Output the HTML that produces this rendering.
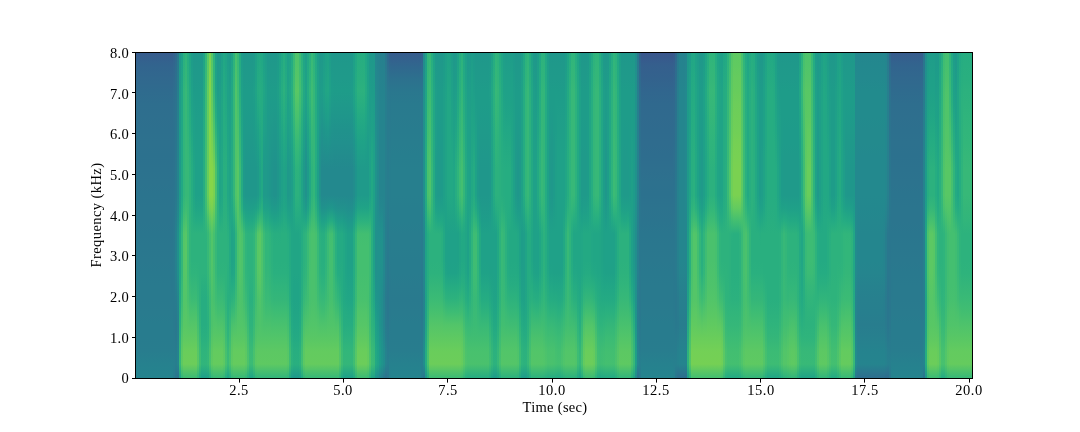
<!DOCTYPE html>
<html><head><meta charset="utf-8"><style>
html,body{margin:0;padding:0;background:#fff;width:1080px;height:432px;overflow:hidden}
body{position:relative;font-family:"Liberation Serif",serif;color:#000}
#spec{position:absolute;left:135px;top:52px;width:837px;height:326px;overflow:hidden;}
#spec i{position:absolute;top:0;height:326px;display:block}
.xl,.yl,#xlab,#ylab{will-change:transform}
.xl{position:absolute;top:380px;width:80px;text-align:center;font-size:14.5px;line-height:20px;letter-spacing:0.5px}
.yl{position:absolute;left:48.8px;width:80px;text-align:right;font-size:14.5px;line-height:20px;letter-spacing:0.3px}
#xlab{position:absolute;left:494.7px;top:397px;width:120px;text-align:center;font-size:14.5px;line-height:20px;letter-spacing:0.3px}
#ylab{position:absolute;left:96px;top:215px;width:160px;margin-left:-80px;margin-top:-10px;text-align:center;font-size:14.5px;line-height:20px;letter-spacing:0.42px;transform:rotate(-90deg)}
</style></head><body>

<div id="spec">
<i style="left:0px;width:36px;background:linear-gradient(#375b8d 0px,#32648e 13px,#31688e 26px,#2f6b8e 39px,#2e6e8e 52px,#2e6f8e 65px,#2d708e 78px,#2d718e 91px,#2c718e 104px,#2c728e 117px,#2c738e 130px,#2b748e 143px,#2b758e 156px,#2b758e 169px,#2a768e 182px,#2a778e 195px,#2a788e 208px,#29798e 221px,#297a8e 234px,#297a8e 247px,#297b8e 260px,#287c8e 273px,#287c8e 286px,#287d8e 299px,#26818e 312px,#25848e 325px,#25848e 325px)"></i>
<i style="left:36px;width:2px;background:linear-gradient(#375b8d 0px,#32648e 13px,#31688e 26px,#2f6b8e 39px,#2e6e8e 52px,#2e6f8e 65px,#2d708e 78px,#2d718e 91px,#2c718e 104px,#2c728e 117px,#2c738e 130px,#2b748e 143px,#2b758e 156px,#2b758e 169px,#2a768e 182px,#2a778e 195px,#2a788e 208px,#29798e 221px,#29798e 234px,#297a8e 247px,#297b8e 260px,#287c8e 273px,#287c8e 286px,#287d8e 299px,#26818e 312px,#25838e 325px,#25838e 325px)"></i>
<i style="left:38px;width:2px;background:linear-gradient(#34608d 0px,#31678e 13px,#306a8e 26px,#2e6e8e 39px,#2d708e 52px,#2d718e 65px,#2c718e 78px,#2c728e 91px,#2c728e 104px,#2c738e 117px,#2b748e 130px,#2b758e 143px,#2a768e 156px,#2a778e 169px,#2a788e 182px,#29798e 195px,#297a8e 208px,#297a8e 221px,#297a8e 234px,#297a8e 247px,#297a8e 260px,#297a8e 273px,#297b8e 286px,#287d8e 299px,#27808e 312px,#277e8e 325px,#277e8e 325px)"></i>
<i style="left:40px;width:2px;background:linear-gradient(#31678e 0px,#2e6d8e 13px,#2d708e 26px,#2c718e 39px,#2c738e 52px,#2b748e 65px,#2b758e 78px,#2a768e 91px,#2a778e 104px,#2a788e 117px,#29798e 130px,#29798e 143px,#297b8e 156px,#277e8e 169px,#26818e 182px,#26818e 195px,#26828e 208px,#26818e 221px,#277f8e 234px,#287c8e 247px,#297a8e 260px,#2a788e 273px,#29798e 286px,#287c8e 299px,#277e8e 312px,#2a768e 325px,#2a768e 325px)"></i>
<i style="left:42px;width:2px;background:linear-gradient(#2a778e 0px,#297a8e 13px,#287c8e 26px,#277e8e 39px,#277f8e 52px,#27808e 65px,#26818e 78px,#26828e 91px,#25838e 104px,#25848e 117px,#25848e 130px,#25848e 143px,#24878e 156px,#228b8d 169px,#21908d 182px,#21908d 195px,#21908d 208px,#218f8d 221px,#238a8d 234px,#25858e 247px,#26828e 260px,#277f8e 273px,#27808e 286px,#25838e 299px,#25848e 312px,#2b748e 325px,#2b748e 325px)"></i>
<i style="left:44px;width:2px;background:linear-gradient(#1f978b 0px,#1f998a 13px,#1f9a8a 26px,#1e9c89 39px,#1e9c89 52px,#1e9c89 65px,#1e9b8a 78px,#1e9b8a 91px,#1e9b8a 104px,#1f9a8a 117px,#1f9a8a 130px,#1f9a8a 143px,#1e9d89 156px,#1fa187 169px,#21a685 182px,#21a685 195px,#21a685 208px,#21a685 221px,#22a884 234px,#23a983 247px,#25ac82 260px,#29af7f 273px,#2eb37c 286px,#34b679 299px,#35b779 312px,#20a386 325px,#20a386 325px)"></i>
<i style="left:46px;width:2px;background:linear-gradient(#1fa188 0px,#1fa287 13px,#20a386 26px,#21a585 39px,#21a585 52px,#21a685 65px,#21a685 78px,#22a785 91px,#22a785 104px,#22a884 117px,#22a884 130px,#22a884 143px,#25ac82 156px,#2cb17e 169px,#34b679 182px,#34b679 195px,#34b679 208px,#34b679 221px,#38b977 234px,#3bbb75 247px,#42be71 260px,#4ac16d 273px,#54c568 286px,#5cc863 299px,#5ec962 312px,#35b779 325px,#35b779 325px)"></i>
<i style="left:48px;width:2px;background:linear-gradient(#2ab07f 0px,#2cb17e 13px,#2eb37c 26px,#31b57b 39px,#31b57b 52px,#31b57b 65px,#31b57b 78px,#31b57b 91px,#31b57b 104px,#31b57b 117px,#31b57b 130px,#31b57b 143px,#38b977 156px,#44bf70 169px,#52c569 182px,#54c568 195px,#54c568 208px,#54c568 221px,#52c569 234px,#52c569 247px,#54c568 260px,#58c765 273px,#5ec962 286px,#69cd5b 299px,#6ccd5a 312px,#3fbc73 325px,#3fbc73 325px)"></i>
<i style="left:50px;width:2px;background:linear-gradient(#2fb47c 0px,#32b67a 13px,#34b679 26px,#37b878 39px,#37b878 52px,#37b878 65px,#37b878 78px,#37b878 91px,#37b878 104px,#37b878 117px,#37b878 130px,#37b878 143px,#3dbc74 156px,#4ac16d 169px,#56c667 182px,#58c765 195px,#58c765 208px,#56c667 221px,#54c568 234px,#52c569 247px,#56c667 260px,#58c765 273px,#5ec962 286px,#69cd5b 299px,#6ccd5a 312px,#3fbc73 325px,#3fbc73 325px)"></i>
<i style="left:52px;width:2px;background:linear-gradient(#27ad81 0px,#28ae80 13px,#2ab07f 26px,#2db27d 39px,#2eb37c 52px,#2fb47c 65px,#31b57b 78px,#34b679 91px,#35b779 104px,#37b878 117px,#37b878 130px,#37b878 143px,#3aba76 156px,#3dbc74 169px,#42be71 182px,#42be71 195px,#42be71 208px,#42be71 221px,#46c06f 234px,#48c16e 247px,#50c46a 260px,#56c667 273px,#5ec962 286px,#69cd5b 299px,#6ccd5a 312px,#3fbc73 325px,#3fbc73 325px)"></i>
<i style="left:54px;width:2px;background:linear-gradient(#20a486 0px,#21a685 13px,#22a785 26px,#23a983 39px,#25ab82 52px,#26ad81 65px,#28ae80 78px,#2ab07f 91px,#2db27d 104px,#2eb37c 117px,#2fb47c 130px,#2fb47c 143px,#2fb47c 156px,#2fb47c 169px,#31b57b 182px,#31b57b 195px,#31b57b 208px,#32b67a 221px,#38b977 234px,#3fbc73 247px,#48c16e 260px,#54c568 273px,#5ec962 286px,#69cd5b 299px,#6ccd5a 312px,#3fbc73 325px,#3fbc73 325px)"></i>
<i style="left:56px;width:2px;background:linear-gradient(#1e9c89 0px,#1e9d89 13px,#1f9f88 26px,#1fa188 39px,#1fa287 52px,#20a486 65px,#21a685 78px,#23a983 91px,#25ab82 104px,#26ad81 117px,#26ad81 130px,#26ad81 143px,#28ae80 156px,#2ab07f 169px,#2db27d 182px,#2db27d 195px,#2db27d 208px,#2fb47c 221px,#35b779 234px,#3bbb75 247px,#48c16e 260px,#54c568 273px,#5ec962 286px,#69cd5b 299px,#6ccd5a 312px,#3fbc73 325px,#3fbc73 325px)"></i>
<i style="left:58px;width:2px;background:linear-gradient(#1f978b 0px,#1f998a 13px,#1f9a8a 26px,#1e9c89 39px,#1f9e89 52px,#1fa088 65px,#1fa188 78px,#1fa287 91px,#20a486 104px,#21a685 117px,#21a685 130px,#21a685 143px,#23a983 156px,#27ad81 169px,#2db27d 182px,#2db27d 195px,#2db27d 208px,#2fb47c 221px,#35b779 234px,#3bbb75 247px,#48c16e 260px,#54c568 273px,#5ec962 286px,#69cd5b 299px,#6ccd5a 312px,#3fbc73 325px,#3fbc73 325px)"></i>
<i style="left:60px;width:2px;background:linear-gradient(#1f978b 0px,#1f998a 13px,#1f9a8a 26px,#1e9c89 39px,#1e9d89 52px,#1f9e89 65px,#1f9f88 78px,#1fa088 91px,#1fa188 104px,#1fa188 117px,#1fa188 130px,#1fa188 143px,#21a585 156px,#25ac82 169px,#2db27d 182px,#2db27d 195px,#2db27d 208px,#2fb47c 221px,#35b779 234px,#3bbb75 247px,#48c16e 260px,#54c568 273px,#5ec962 286px,#69cd5b 299px,#6ccd5a 312px,#3fbc73 325px,#3fbc73 325px)"></i>
<i style="left:62px;width:2px;background:linear-gradient(#1f978b 0px,#1f998a 13px,#1f9a8a 26px,#1e9c89 39px,#1e9d89 52px,#1f9e89 65px,#1f9f88 78px,#1fa088 91px,#1fa188 104px,#1fa188 117px,#1fa188 130px,#1fa188 143px,#21a585 156px,#25ac82 169px,#2db27d 182px,#2db27d 195px,#2db27d 208px,#2eb37c 221px,#31b57b 234px,#35b779 247px,#3bbb75 260px,#44bf70 273px,#4cc26c 286px,#56c667 299px,#58c765 312px,#31b57b 325px,#31b57b 325px)"></i>
<i style="left:64px;width:2px;background:linear-gradient(#1f978b 0px,#1f998a 13px,#1f9a8a 26px,#1e9c89 39px,#1e9d89 52px,#1f9e89 65px,#1f9f88 78px,#1fa088 91px,#1fa188 104px,#1fa188 117px,#1fa188 130px,#1fa188 143px,#21a585 156px,#25ac82 169px,#2db27d 182px,#2db27d 195px,#2db27d 208px,#2db27d 221px,#2db27d 234px,#2db27d 247px,#2eb37c 260px,#31b57b 273px,#37b878 286px,#3dbc74 299px,#3fbc73 312px,#23a983 325px,#23a983 325px)"></i>
<i style="left:66px;width:2px;background:linear-gradient(#1f978b 0px,#1f998a 13px,#1f9a8a 26px,#1e9c89 39px,#1e9d89 52px,#1f9e89 65px,#1f9f88 78px,#1fa088 91px,#1fa188 104px,#1fa188 117px,#1fa188 130px,#1fa188 143px,#21a585 156px,#25ac82 169px,#2db27d 182px,#2db27d 195px,#2db27d 208px,#2db27d 221px,#29af7f 234px,#27ad81 247px,#27ad81 260px,#27ad81 273px,#2ab07f 286px,#2fb47c 299px,#31b57b 312px,#1fa188 325px,#1fa188 325px)"></i>
<i style="left:68px;width:2px;background:linear-gradient(#20a386 0px,#21a585 13px,#21a685 26px,#22a884 39px,#23a983 52px,#24aa83 65px,#25ab82 78px,#25ac82 91px,#26ad81 104px,#27ad81 117px,#27ad81 130px,#27ad81 143px,#28ae80 156px,#2ab07f 169px,#2db27d 182px,#2db27d 195px,#2db27d 208px,#2db27d 221px,#29af7f 234px,#27ad81 247px,#27ad81 260px,#27ad81 273px,#2ab07f 286px,#2fb47c 299px,#31b57b 312px,#1fa188 325px,#1fa188 325px)"></i>
<i style="left:70px;width:2px;background:linear-gradient(#34b679 0px,#35b779 13px,#38b977 26px,#3aba76 39px,#3bbb75 52px,#3dbc74 65px,#3dbc74 78px,#3fbc73 91px,#40bd72 104px,#40bd72 117px,#40bd72 130px,#40bd72 143px,#3bbb75 156px,#34b679 169px,#2eb37c 182px,#2db27d 195px,#2db27d 208px,#2db27d 221px,#29af7f 234px,#27ad81 247px,#27ad81 260px,#27ad81 273px,#2ab07f 286px,#2fb47c 299px,#31b57b 312px,#1fa188 325px,#1fa188 325px)"></i>
<i style="left:72px;width:2px;background:linear-gradient(#58c765 0px,#5cc863 13px,#5ec962 26px,#63cb5f 39px,#63cb5f 52px,#65cb5e 65px,#65cb5e 78px,#65cb5e 91px,#65cb5e 104px,#67cc5c 117px,#67cc5c 130px,#67cc5c 143px,#5ac864 156px,#46c06f 169px,#37b878 182px,#37b878 195px,#37b878 208px,#35b779 221px,#31b57b 234px,#2db27d 247px,#2cb17e 260px,#2ab07f 273px,#2db27d 286px,#34b679 299px,#35b779 312px,#20a386 325px,#20a386 325px)"></i>
<i style="left:74px;width:2px;background:linear-gradient(#7ad151 0px,#7fd34e 13px,#84d44b 26px,#86d549 39px,#86d549 52px,#86d549 65px,#86d549 78px,#86d549 91px,#86d549 104px,#86d549 117px,#86d549 130px,#86d549 143px,#75d054 156px,#5cc863 169px,#46c06f 182px,#44bf70 195px,#44bf70 208px,#44bf70 221px,#3fbc73 234px,#3bbb75 247px,#3aba76 260px,#3aba76 273px,#3dbc74 286px,#46c06f 299px,#48c16e 312px,#27ad81 325px,#27ad81 325px)"></i>
<i style="left:76px;width:2px;background:linear-gradient(#56c667 0px,#58c765 13px,#5cc863 26px,#60ca60 39px,#65cb5e 52px,#6ccd5a 65px,#73d056 78px,#7ad151 91px,#7fd34e 104px,#86d549 117px,#86d549 130px,#86d549 143px,#7ad151 156px,#65cb5e 169px,#52c569 182px,#52c569 195px,#52c569 208px,#50c46a 221px,#4ec36b 234px,#4ac16d 247px,#4cc26c 260px,#4cc26c 273px,#54c568 286px,#5cc863 299px,#5ec962 312px,#35b779 325px,#35b779 325px)"></i>
<i style="left:78px;width:2px;background:linear-gradient(#2fb47c 0px,#32b67a 13px,#34b679 26px,#37b878 39px,#3fbc73 52px,#48c16e 65px,#54c568 78px,#5ec962 91px,#6ccd5a 104px,#7ad151 117px,#7ad151 130px,#7ad151 143px,#6ccd5a 156px,#58c765 169px,#46c06f 182px,#44bf70 195px,#44bf70 208px,#46c06f 221px,#46c06f 234px,#46c06f 247px,#4cc26c 260px,#50c46a 273px,#58c765 286px,#63cb5f 299px,#65cb5e 312px,#3aba76 325px,#3aba76 325px)"></i>
<i style="left:80px;width:2px;background:linear-gradient(#1fa088 0px,#1fa187 13px,#1fa287 26px,#20a486 39px,#23a983 52px,#27ad81 65px,#2eb37c 78px,#37b878 91px,#3fbc73 104px,#4ac16d 117px,#4ac16d 130px,#4ac16d 143px,#44bf70 156px,#3dbc74 169px,#37b878 182px,#37b878 195px,#37b878 208px,#37b878 221px,#3bbb75 234px,#3fbc73 247px,#46c06f 260px,#50c46a 273px,#58c765 286px,#63cb5f 299px,#65cb5e 312px,#3aba76 325px,#3aba76 325px)"></i>
<i style="left:82px;width:2px;background:linear-gradient(#1f978b 0px,#1f998a 13px,#1f9a8a 26px,#1e9c89 39px,#1f9f88 52px,#1fa287 65px,#21a685 78px,#24aa83 91px,#26ad81 104px,#2ab07f 117px,#2ab07f 130px,#2ab07f 143px,#2cb17e 156px,#2db27d 169px,#2db27d 182px,#2db27d 195px,#2db27d 208px,#2eb37c 221px,#34b679 234px,#3aba76 247px,#42be71 260px,#4ec36b 273px,#58c765 286px,#63cb5f 299px,#65cb5e 312px,#3aba76 325px,#3aba76 325px)"></i>
<i style="left:84px;width:2px;background:linear-gradient(#1f998a 0px,#1f9a8a 13px,#1e9c89 26px,#1f9e89 39px,#1f9f88 52px,#1fa088 65px,#1fa188 78px,#1fa287 91px,#20a386 104px,#20a486 117px,#20a486 130px,#20a486 143px,#22a884 156px,#26ad81 169px,#2db27d 182px,#2db27d 195px,#2db27d 208px,#2eb37c 221px,#34b679 234px,#3aba76 247px,#42be71 260px,#4ec36b 273px,#58c765 286px,#63cb5f 299px,#65cb5e 312px,#3aba76 325px,#3aba76 325px)"></i>
<i style="left:86px;width:2px;background:linear-gradient(#1fa088 0px,#1fa187 13px,#1fa287 26px,#20a486 39px,#21a585 52px,#21a585 65px,#21a685 78px,#21a685 91px,#22a785 104px,#22a785 117px,#22a785 130px,#22a785 143px,#24aa83 156px,#28ae80 169px,#2db27d 182px,#2db27d 195px,#2db27d 208px,#2eb37c 221px,#34b679 234px,#3aba76 247px,#42be71 260px,#4ec36b 273px,#58c765 286px,#63cb5f 299px,#65cb5e 312px,#3aba76 325px,#3aba76 325px)"></i>
<i style="left:88px;width:2px;background:linear-gradient(#21a685 0px,#22a884 13px,#24aa83 26px,#25ab82 39px,#25ac82 52px,#26ad81 65px,#27ad81 78px,#27ad81 91px,#28ae80 104px,#29af7f 117px,#29af7f 130px,#29af7f 143px,#2ab07f 156px,#2cb17e 169px,#2db27d 182px,#2db27d 195px,#2db27d 208px,#2eb37c 221px,#32b67a 234px,#37b878 247px,#40bd72 260px,#4ac16d 273px,#54c568 286px,#5cc863 299px,#5ec962 312px,#35b779 325px,#35b779 325px)"></i>
<i style="left:90px;width:2px;background:linear-gradient(#20a386 0px,#20a486 13px,#21a685 26px,#22a785 39px,#23a983 52px,#24aa83 65px,#25ac82 78px,#26ad81 91px,#28ae80 104px,#29af7f 117px,#29af7f 130px,#29af7f 143px,#2ab07f 156px,#2cb17e 169px,#2db27d 182px,#2db27d 195px,#2db27d 208px,#2eb37c 221px,#2eb37c 234px,#2fb47c 247px,#34b679 260px,#38b977 273px,#3dbc74 286px,#46c06f 299px,#48c16e 312px,#27ad81 325px,#27ad81 325px)"></i>
<i style="left:92px;width:2px;background:linear-gradient(#1e9c89 0px,#1f9e89 13px,#1fa088 26px,#1fa188 39px,#1fa187 52px,#20a386 65px,#20a486 78px,#21a585 91px,#21a685 104px,#22a785 117px,#22a785 130px,#22a785 143px,#24aa83 156px,#27ad81 169px,#2ab07f 182px,#2cb17e 195px,#2cb17e 208px,#2ab07f 221px,#2ab07f 234px,#29af7f 247px,#2ab07f 260px,#2db27d 273px,#31b57b 286px,#38b977 299px,#3aba76 312px,#21a685 325px,#21a685 325px)"></i>
<i style="left:94px;width:2px;background:linear-gradient(#1f998a 0px,#1e9b8a 13px,#1e9c89 26px,#1f9e89 39px,#1f9f88 52px,#1fa088 65px,#1fa188 78px,#1fa187 91px,#1fa287 104px,#20a386 117px,#20a386 130px,#20a386 143px,#21a585 156px,#22a785 169px,#24aa83 182px,#24aa83 195px,#24aa83 208px,#25ab82 221px,#27ad81 234px,#29af7f 247px,#2fb47c 260px,#37b878 273px,#3dbc74 286px,#46c06f 299px,#48c16e 312px,#27ad81 325px,#27ad81 325px)"></i>
<i style="left:96px;width:2px;background:linear-gradient(#20a386 0px,#20a486 13px,#21a685 26px,#22a785 39px,#22a884 52px,#22a884 65px,#23a983 78px,#23a983 91px,#24aa83 104px,#24aa83 117px,#24aa83 130px,#24aa83 143px,#22a884 156px,#21a685 169px,#20a386 182px,#20a386 195px,#20a386 208px,#21a585 221px,#25ac82 234px,#2cb17e 247px,#38b977 260px,#48c16e 273px,#54c568 286px,#5cc863 299px,#5ec962 312px,#35b779 325px,#35b779 325px)"></i>
<i style="left:98px;width:2px;background:linear-gradient(#2db27d 0px,#2eb37c 13px,#31b57b 26px,#34b679 39px,#34b679 52px,#34b679 65px,#34b679 78px,#34b679 91px,#34b679 104px,#34b679 117px,#34b679 130px,#34b679 143px,#2db27d 156px,#25ac82 169px,#21a685 182px,#21a585 195px,#21a585 208px,#22a785 221px,#27ad81 234px,#2fb47c 247px,#3bbb75 260px,#4cc26c 273px,#58c765 286px,#63cb5f 299px,#65cb5e 312px,#3aba76 325px,#3aba76 325px)"></i>
<i style="left:100px;width:2px;background:linear-gradient(#46c06f 0px,#48c16e 13px,#4cc26c 26px,#50c46a 39px,#50c46a 52px,#50c46a 65px,#50c46a 78px,#50c46a 91px,#50c46a 104px,#50c46a 117px,#50c46a 130px,#50c46a 143px,#46c06f 156px,#3aba76 169px,#2fb47c 182px,#2fb47c 195px,#2fb47c 208px,#31b57b 221px,#35b779 234px,#3bbb75 247px,#44bf70 260px,#4ec36b 273px,#58c765 286px,#63cb5f 299px,#65cb5e 312px,#3aba76 325px,#3aba76 325px)"></i>
<i style="left:102px;width:2px;background:linear-gradient(#38b977 0px,#3aba76 13px,#3dbc74 26px,#40bd72 39px,#44bf70 52px,#48c16e 65px,#4cc26c 78px,#50c46a 91px,#54c568 104px,#58c765 117px,#58c765 130px,#58c765 143px,#54c568 156px,#50c46a 169px,#4ac16d 182px,#4ac16d 195px,#4ac16d 208px,#4ac16d 221px,#4ac16d 234px,#4ac16d 247px,#4ec36b 260px,#52c569 273px,#58c765 286px,#63cb5f 299px,#65cb5e 312px,#3aba76 325px,#3aba76 325px)"></i>
<i style="left:104px;width:2px;background:linear-gradient(#25ab82 0px,#25ac82 13px,#27ad81 26px,#28ae80 39px,#2cb17e 52px,#2eb37c 65px,#31b57b 78px,#35b779 91px,#38b977 104px,#3dbc74 117px,#3dbc74 130px,#3dbc74 143px,#40bd72 156px,#4ac16d 169px,#52c569 182px,#52c569 195px,#52c569 208px,#52c569 221px,#50c46a 234px,#4ec36b 247px,#50c46a 260px,#52c569 273px,#58c765 286px,#63cb5f 299px,#65cb5e 312px,#3aba76 325px,#3aba76 325px)"></i>
<i style="left:106px;width:2px;background:linear-gradient(#1e9c89 0px,#1e9d89 13px,#1f9f88 26px,#1fa088 39px,#1fa187 52px,#20a386 65px,#21a585 78px,#22a785 91px,#23a983 104px,#25ab82 117px,#25ab82 130px,#25ab82 143px,#2ab07f 156px,#3aba76 169px,#4cc26c 182px,#4ec36b 195px,#4ec36b 208px,#4ec36b 221px,#4cc26c 234px,#4cc26c 247px,#4ec36b 260px,#52c569 273px,#58c765 286px,#63cb5f 299px,#65cb5e 312px,#3aba76 325px,#3aba76 325px)"></i>
<i style="left:108px;width:2px;background:linear-gradient(#1f978b 0px,#1f998a 13px,#1f9a8a 26px,#1e9c89 39px,#1e9c89 52px,#1e9c89 65px,#1e9b8a 78px,#1e9b8a 91px,#1e9b8a 104px,#1f9a8a 117px,#1f9a8a 130px,#1f9a8a 143px,#1fa287 156px,#29af7f 169px,#3dbc74 182px,#3dbc74 195px,#3dbc74 208px,#3dbc74 221px,#40bd72 234px,#42be71 247px,#4ac16d 260px,#50c46a 273px,#58c765 286px,#63cb5f 299px,#65cb5e 312px,#3aba76 325px,#3aba76 325px)"></i>
<i style="left:110px;width:2px;background:linear-gradient(#1f978b 0px,#1f998a 13px,#1f9a8a 26px,#1e9c89 39px,#1e9c89 52px,#1e9b8a 65px,#1f9a8a 78px,#1f998a 91px,#1f988b 104px,#1f978b 117px,#1f978b 130px,#1f978b 143px,#1f9f88 156px,#23a983 169px,#2fb47c 182px,#31b57b 195px,#31b57b 208px,#31b57b 221px,#35b779 234px,#3aba76 247px,#40bd72 260px,#4ac16d 273px,#54c568 286px,#5cc863 299px,#5ec962 312px,#35b779 325px,#35b779 325px)"></i>
<i style="left:112px;width:2px;background:linear-gradient(#1f978b 0px,#1f998a 13px,#1f9a8a 26px,#1e9c89 39px,#1e9c89 52px,#1e9b8a 65px,#1f9a8a 78px,#1f998a 91px,#1f988b 104px,#1f978b 117px,#1f978b 130px,#1f978b 143px,#1f9e89 156px,#22a884 169px,#2db27d 182px,#2db27d 195px,#2db27d 208px,#2eb37c 221px,#2fb47c 234px,#31b57b 247px,#35b779 260px,#3bbb75 273px,#42be71 286px,#4ac16d 299px,#4cc26c 312px,#29af7f 325px,#29af7f 325px)"></i>
<i style="left:114px;width:2px;background:linear-gradient(#1f978b 0px,#1f998a 13px,#1f9a8a 26px,#1e9c89 39px,#1e9c89 52px,#1e9b8a 65px,#1f9a8a 78px,#1f998a 91px,#1f988b 104px,#1f978b 117px,#1f978b 130px,#1f978b 143px,#1f9e89 156px,#22a884 169px,#2db27d 182px,#2db27d 195px,#2db27d 208px,#2db27d 221px,#2cb17e 234px,#2ab07f 247px,#2db27d 260px,#2eb37c 273px,#34b679 286px,#3aba76 299px,#3bbb75 312px,#22a785 325px,#22a785 325px)"></i>
<i style="left:116px;width:2px;background:linear-gradient(#1f978b 0px,#1f998a 13px,#1f9a8a 26px,#1e9c89 39px,#1e9c89 52px,#1e9b8a 65px,#1f9a8a 78px,#1f998a 91px,#1f988b 104px,#1f978b 117px,#1f978b 130px,#1f978b 143px,#1f9e89 156px,#22a884 169px,#2db27d 182px,#2db27d 195px,#2db27d 208px,#2db27d 221px,#2cb17e 234px,#2ab07f 247px,#2db27d 260px,#2eb37c 273px,#32b67a 286px,#3aba76 299px,#3bbb75 312px,#22a785 325px,#22a785 325px)"></i>
<i style="left:118px;width:2px;background:linear-gradient(#1f998a 0px,#1f9a8a 13px,#1e9c89 26px,#1f9e89 39px,#1e9d89 52px,#1e9c89 65px,#1e9b8a 78px,#1f9a8a 91px,#1f988b 104px,#1f978b 117px,#1f978b 130px,#1f978b 143px,#1f9f88 156px,#24aa83 169px,#31b57b 182px,#31b57b 195px,#31b57b 208px,#31b57b 221px,#31b57b 234px,#32b67a 247px,#35b779 260px,#38b977 273px,#3fbc73 286px,#48c16e 299px,#4ac16d 312px,#28ae80 325px,#28ae80 325px)"></i>
<i style="left:120px;width:2px;background:linear-gradient(#1fa088 0px,#1fa187 13px,#1fa287 26px,#20a486 39px,#1fa287 52px,#1fa188 65px,#1f9e89 78px,#1e9c89 91px,#1f9a8a 104px,#1f978b 117px,#1f978b 130px,#1f978b 143px,#1fa187 156px,#29af7f 169px,#40bd72 182px,#42be71 195px,#42be71 208px,#42be71 221px,#40bd72 234px,#40bd72 247px,#44bf70 260px,#48c16e 273px,#4ec36b 286px,#58c765 299px,#5ac864 312px,#32b67a 325px,#32b67a 325px)"></i>
<i style="left:122px;width:2px;background:linear-gradient(#21a685 0px,#22a884 13px,#24aa83 26px,#25ab82 39px,#23a983 52px,#21a685 65px,#1fa287 78px,#1fa088 91px,#1e9d89 104px,#1f9a8a 117px,#1f9a8a 130px,#1f9a8a 143px,#21a585 156px,#34b679 169px,#56c667 182px,#58c765 195px,#58c765 208px,#56c667 221px,#52c569 234px,#4cc26c 247px,#4cc26c 260px,#4cc26c 273px,#52c569 286px,#5cc863 299px,#5ec962 312px,#35b779 325px,#35b779 325px)"></i>
<i style="left:124px;width:2px;background:linear-gradient(#22a884 0px,#24aa83 13px,#25ab82 26px,#26ad81 39px,#25ac82 52px,#24aa83 65px,#22a884 78px,#21a685 91px,#20a486 104px,#1fa287 117px,#1fa287 130px,#1fa287 143px,#25ac82 156px,#3bbb75 169px,#5cc863 182px,#5cc863 195px,#5cc863 208px,#5ac864 221px,#56c667 234px,#50c46a 247px,#4ec36b 260px,#4ec36b 273px,#52c569 286px,#5cc863 299px,#5ec962 312px,#35b779 325px,#35b779 325px)"></i>
<i style="left:126px;width:2px;background:linear-gradient(#22a785 0px,#22a884 13px,#24aa83 26px,#25ab82 39px,#25ab82 52px,#25ab82 65px,#24aa83 78px,#23a983 91px,#23a983 104px,#22a884 117px,#22a884 130px,#22a884 143px,#29af7f 156px,#38b977 169px,#4ec36b 182px,#4ec36b 195px,#4ec36b 208px,#4ec36b 221px,#4cc26c 234px,#48c16e 247px,#4ac16d 260px,#4cc26c 273px,#52c569 286px,#5cc863 299px,#5ec962 312px,#35b779 325px,#35b779 325px)"></i>
<i style="left:128px;width:2px;background:linear-gradient(#1fa187 0px,#1fa287 13px,#20a486 26px,#21a685 39px,#20a486 52px,#1fa287 65px,#1fa188 78px,#1f9e89 91px,#1e9c89 104px,#1f9a8a 117px,#1f9a8a 130px,#1f9a8a 143px,#1fa287 156px,#29af7f 169px,#3bbb75 182px,#3dbc74 195px,#3dbc74 208px,#3dbc74 221px,#3fbc73 234px,#40bd72 247px,#44bf70 260px,#4ac16d 273px,#52c569 286px,#5cc863 299px,#5ec962 312px,#35b779 325px,#35b779 325px)"></i>
<i style="left:130px;width:2px;background:linear-gradient(#1e9c89 0px,#1f9e89 13px,#1f9f88 26px,#1fa188 39px,#1fa088 52px,#1f9f88 65px,#1f9e89 78px,#1e9c89 91px,#1e9b8a 104px,#1f9a8a 117px,#1f9a8a 130px,#1f9a8a 143px,#1fa188 156px,#25ab82 169px,#32b67a 182px,#32b67a 195px,#32b67a 208px,#34b679 221px,#37b878 234px,#3aba76 247px,#40bd72 260px,#4ac16d 273px,#52c569 286px,#5cc863 299px,#5ec962 312px,#35b779 325px,#35b779 325px)"></i>
<i style="left:132px;width:2px;background:linear-gradient(#1f978b 0px,#1f998a 13px,#1e9b8a 26px,#1e9c89 39px,#1e9c89 52px,#1e9b8a 65px,#1f9a8a 78px,#1f9a8a 91px,#1f998a 104px,#1f988b 117px,#1f988b 130px,#1f988b 143px,#1fa088 156px,#25ab82 169px,#31b57b 182px,#32b67a 195px,#32b67a 208px,#34b679 221px,#37b878 234px,#3aba76 247px,#40bd72 260px,#4ac16d 273px,#52c569 286px,#5cc863 299px,#5ec962 312px,#35b779 325px,#35b779 325px)"></i>
<i style="left:134px;width:2px;background:linear-gradient(#1f978b 0px,#1f998a 13px,#1f9a8a 26px,#1e9c89 39px,#1e9b8a 52px,#1f9a8a 65px,#1f998a 78px,#1f988b 91px,#1f978b 104px,#1f968b 117px,#1f968b 130px,#1f968b 143px,#1f9e89 156px,#22a884 169px,#2eb37c 182px,#2fb47c 195px,#2fb47c 208px,#31b57b 221px,#34b679 234px,#38b977 247px,#40bd72 260px,#4ac16d 273px,#52c569 286px,#5cc863 299px,#5ec962 312px,#35b779 325px,#35b779 325px)"></i>
<i style="left:136px;width:2px;background:linear-gradient(#1f978b 0px,#1f998a 13px,#1f9a8a 26px,#1e9c89 39px,#1e9b8a 52px,#1f9a8a 65px,#1f988b 78px,#1f978b 91px,#1f958b 104px,#1f948c 117px,#1f948c 130px,#1f948c 143px,#1e9b8a 156px,#21a685 169px,#2ab07f 182px,#2cb17e 195px,#2cb17e 208px,#2db27d 221px,#31b57b 234px,#35b779 247px,#3fbc73 260px,#48c16e 273px,#52c569 286px,#5cc863 299px,#5ec962 312px,#35b779 325px,#35b779 325px)"></i>
<i style="left:138px;width:4px;background:linear-gradient(#1f978b 0px,#1f998a 13px,#1f9a8a 26px,#1e9c89 39px,#1e9b8a 52px,#1f998a 65px,#1f978b 78px,#1f968b 91px,#1f948c 104px,#20928c 117px,#20928c 130px,#20928c 143px,#1f9a8a 156px,#20a486 169px,#28ae80 182px,#29af7f 195px,#29af7f 208px,#2ab07f 221px,#2fb47c 234px,#34b679 247px,#3dbc74 260px,#48c16e 273px,#52c569 286px,#5cc863 299px,#5ec962 312px,#35b779 325px,#35b779 325px)"></i>
<i style="left:142px;width:2px;background:linear-gradient(#1f9a8a 0px,#1e9c89 13px,#1e9d89 26px,#1f9f88 39px,#1f9e89 52px,#1e9c89 65px,#1e9b8a 78px,#1f998a 91px,#1f988b 104px,#1f968b 117px,#1f968b 130px,#1f968b 143px,#1e9c89 156px,#21a585 169px,#28ae80 182px,#29af7f 195px,#29af7f 208px,#2ab07f 221px,#2fb47c 234px,#34b679 247px,#3dbc74 260px,#48c16e 273px,#52c569 286px,#5cc863 299px,#5ec962 312px,#35b779 325px,#35b779 325px)"></i>
<i style="left:144px;width:2px;background:linear-gradient(#1fa188 0px,#1fa287 13px,#20a486 26px,#21a585 39px,#20a486 52px,#1fa287 65px,#1fa188 78px,#1f9f88 91px,#1e9d89 104px,#1e9b8a 117px,#1e9b8a 130px,#1e9b8a 143px,#1fa088 156px,#22a785 169px,#28ae80 182px,#29af7f 195px,#29af7f 208px,#2ab07f 221px,#2fb47c 234px,#34b679 247px,#3dbc74 260px,#48c16e 273px,#52c569 286px,#5cc863 299px,#5ec962 312px,#35b779 325px,#35b779 325px)"></i>
<i style="left:146px;width:2px;background:linear-gradient(#22a884 0px,#23a983 13px,#25ab82 26px,#26ad81 39px,#25ab82 52px,#23a983 65px,#21a685 78px,#20a486 91px,#1fa287 104px,#1fa088 117px,#1fa088 130px,#1fa088 143px,#20a386 156px,#23a983 169px,#29af7f 182px,#29af7f 195px,#29af7f 208px,#2ab07f 221px,#2fb47c 234px,#34b679 247px,#3dbc74 260px,#48c16e 273px,#52c569 286px,#5cc863 299px,#5ec962 312px,#35b779 325px,#35b779 325px)"></i>
<i style="left:148px;width:2px;background:linear-gradient(#26ad81 0px,#28ae80 13px,#29af7f 26px,#2cb17e 39px,#29af7f 52px,#27ad81 65px,#25ab82 78px,#22a884 91px,#21a685 104px,#20a386 117px,#20a386 130px,#20a386 143px,#21a685 156px,#25ab82 169px,#29af7f 182px,#29af7f 195px,#29af7f 208px,#2ab07f 221px,#2fb47c 234px,#34b679 247px,#3dbc74 260px,#48c16e 273px,#52c569 286px,#5cc863 299px,#5ec962 312px,#35b779 325px,#35b779 325px)"></i>
<i style="left:150px;width:2px;background:linear-gradient(#22a785 0px,#22a884 13px,#24aa83 26px,#25ab82 39px,#24aa83 52px,#22a884 65px,#21a685 78px,#21a585 91px,#20a386 104px,#1fa187 117px,#1fa187 130px,#1fa187 143px,#20a486 156px,#24aa83 169px,#29af7f 182px,#29af7f 195px,#29af7f 208px,#2ab07f 221px,#2fb47c 234px,#34b679 247px,#3dbc74 260px,#48c16e 273px,#52c569 286px,#5cc863 299px,#5ec962 312px,#35b779 325px,#35b779 325px)"></i>
<i style="left:152px;width:2px;background:linear-gradient(#1f9f88 0px,#1fa188 13px,#1fa187 26px,#20a386 39px,#1fa187 52px,#1fa188 65px,#1f9f88 78px,#1e9d89 91px,#1e9b8a 104px,#1f998a 117px,#1f998a 130px,#1f998a 143px,#1f9f88 156px,#21a685 169px,#27ad81 182px,#28ae80 195px,#28ae80 208px,#29af7f 221px,#2db27d 234px,#31b57b 247px,#3aba76 260px,#42be71 273px,#4cc26c 286px,#56c667 299px,#58c765 312px,#31b57b 325px,#31b57b 325px)"></i>
<i style="left:154px;width:2px;background:linear-gradient(#1fa187 0px,#20a386 13px,#20a486 26px,#21a685 39px,#20a486 52px,#1fa287 65px,#1fa188 78px,#1f9f88 91px,#1e9c89 104px,#1f9a8a 117px,#1f9a8a 130px,#1f9a8a 143px,#1f9e89 156px,#20a486 169px,#24aa83 182px,#24aa83 195px,#24aa83 208px,#25ab82 221px,#25ac82 234px,#27ad81 247px,#2cb17e 260px,#31b57b 273px,#37b878 286px,#3dbc74 299px,#3fbc73 312px,#23a983 325px,#23a983 325px)"></i>
<i style="left:156px;width:2px;background:linear-gradient(#25ab82 0px,#25ac82 13px,#27ad81 26px,#28ae80 39px,#26ad81 52px,#24aa83 65px,#22a785 78px,#20a486 91px,#1fa187 104px,#1f9f88 117px,#1f9e89 130px,#1f9e89 143px,#1fa188 156px,#20a386 169px,#21a685 182px,#21a685 195px,#21a685 208px,#21a685 221px,#21a685 234px,#21a685 247px,#22a884 260px,#24aa83 273px,#27ad81 286px,#2cb17e 299px,#2db27d 312px,#1f9e89 325px,#1f9e89 325px)"></i>
<i style="left:158px;width:2px;background:linear-gradient(#38b977 0px,#3aba76 13px,#3dbc74 26px,#40bd72 39px,#3bbb75 52px,#35b779 65px,#2fb47c 78px,#2ab07f 91px,#26ad81 104px,#23a983 117px,#22a884 130px,#22a884 143px,#22a884 156px,#21a685 169px,#21a585 182px,#21a585 195px,#21a585 208px,#21a585 221px,#20a486 234px,#20a486 247px,#21a585 260px,#22a785 273px,#24aa83 286px,#28ae80 299px,#29af7f 312px,#1e9b8a 325px,#1e9b8a 325px)"></i>
<i style="left:160px;width:4px;background:linear-gradient(#4ec36b 0px,#50c46a 13px,#54c568 26px,#58c765 39px,#50c46a 52px,#48c16e 65px,#40bd72 78px,#38b977 91px,#32b67a 104px,#2db27d 117px,#2cb17e 130px,#2cb17e 143px,#28ae80 156px,#24aa83 169px,#21a585 182px,#21a585 195px,#21a585 208px,#21a585 221px,#20a486 234px,#20a486 247px,#21a585 260px,#22a785 273px,#24aa83 286px,#28ae80 299px,#29af7f 312px,#1e9b8a 325px,#1e9b8a 325px)"></i>
<i style="left:164px;width:2px;background:linear-gradient(#3dbc74 0px,#3fbc73 13px,#42be71 26px,#44bf70 39px,#40bd72 52px,#3bbb75 65px,#35b779 78px,#31b57b 91px,#2db27d 104px,#29af7f 117px,#28ae80 130px,#28ae80 143px,#26ad81 156px,#24aa83 169px,#22a785 182px,#21a685 195px,#21a685 208px,#21a685 221px,#21a685 234px,#21a685 247px,#22a884 260px,#24aa83 273px,#27ad81 286px,#2cb17e 299px,#2db27d 312px,#1f9e89 325px,#1f9e89 325px)"></i>
<i style="left:166px;width:2px;background:linear-gradient(#2ab07f 0px,#2db27d 13px,#2eb37c 26px,#31b57b 39px,#2eb37c 52px,#29af7f 65px,#26ad81 78px,#24aa83 91px,#22a785 104px,#20a486 117px,#20a486 130px,#20a486 143px,#21a685 156px,#23a983 169px,#25ac82 182px,#25ac82 195px,#25ac82 208px,#26ad81 221px,#27ad81 234px,#29af7f 247px,#2db27d 260px,#32b67a 273px,#38b977 286px,#40bd72 299px,#42be71 312px,#25ab82 325px,#25ab82 325px)"></i>
<i style="left:168px;width:2px;background:linear-gradient(#21a585 0px,#21a685 13px,#22a884 26px,#23a983 39px,#22a785 52px,#20a486 65px,#1fa187 78px,#1f9f88 91px,#1e9c89 104px,#1f998a 117px,#1f998a 130px,#1f998a 143px,#1f9f88 156px,#22a884 169px,#2cb17e 182px,#2cb17e 195px,#2cb17e 208px,#2db27d 221px,#31b57b 234px,#35b779 247px,#3fbc73 260px,#48c16e 273px,#52c569 286px,#5ac864 299px,#5cc863 312px,#34b679 325px,#34b679 325px)"></i>
<i style="left:170px;width:2px;background:linear-gradient(#1f9f88 0px,#1fa088 13px,#1fa187 26px,#1fa287 39px,#1fa188 52px,#1f9e89 65px,#1e9b8a 78px,#1f978b 91px,#1f948c 104px,#20928c 117px,#20928c 130px,#20928c 143px,#1f9a8a 156px,#22a785 169px,#2fb47c 182px,#2fb47c 195px,#2fb47c 208px,#31b57b 221px,#35b779 234px,#3bbb75 247px,#44bf70 260px,#4ec36b 273px,#58c765 286px,#63cb5f 299px,#65cb5e 312px,#3aba76 325px,#3aba76 325px)"></i>
<i style="left:172px;width:2px;background:linear-gradient(#22a785 0px,#23a983 13px,#24aa83 26px,#25ac82 39px,#24aa83 52px,#22a785 65px,#20a386 78px,#1fa188 91px,#1f9e89 104px,#1e9b8a 117px,#1e9b8a 130px,#1e9b8a 143px,#1fa287 156px,#28ae80 169px,#3aba76 182px,#3aba76 195px,#3aba76 208px,#3bbb75 221px,#3fbc73 234px,#40bd72 247px,#48c16e 260px,#50c46a 273px,#58c765 286px,#63cb5f 299px,#65cb5e 312px,#3aba76 325px,#3aba76 325px)"></i>
<i style="left:174px;width:2px;background:linear-gradient(#2ab07f 0px,#2cb17e 13px,#2eb37c 26px,#31b57b 39px,#2eb37c 52px,#2ab07f 65px,#28ae80 78px,#25ac82 91px,#24aa83 104px,#22a785 117px,#22a785 130px,#22a785 143px,#27ad81 156px,#35b779 169px,#46c06f 182px,#46c06f 195px,#46c06f 208px,#48c16e 221px,#48c16e 234px,#48c16e 247px,#4cc26c 260px,#52c569 273px,#58c765 286px,#63cb5f 299px,#65cb5e 312px,#3aba76 325px,#3aba76 325px)"></i>
<i style="left:176px;width:2px;background:linear-gradient(#37b878 0px,#3aba76 13px,#3bbb75 26px,#3fbc73 39px,#3dbc74 52px,#3aba76 65px,#37b878 78px,#34b679 91px,#31b57b 104px,#2eb37c 117px,#2eb37c 130px,#2eb37c 143px,#34b679 156px,#3fbc73 169px,#4ac16d 182px,#4ac16d 195px,#4ac16d 208px,#4ac16d 221px,#4ac16d 234px,#4ac16d 247px,#4ec36b 260px,#52c569 273px,#58c765 286px,#63cb5f 299px,#65cb5e 312px,#3aba76 325px,#3aba76 325px)"></i>
<i style="left:178px;width:2px;background:linear-gradient(#2eb37c 0px,#2fb47c 13px,#32b67a 26px,#35b779 39px,#35b779 52px,#34b679 65px,#34b679 78px,#34b679 91px,#34b679 104px,#32b67a 117px,#32b67a 130px,#32b67a 143px,#38b977 156px,#40bd72 169px,#4ac16d 182px,#4ac16d 195px,#4ac16d 208px,#4ac16d 221px,#4ac16d 234px,#4ac16d 247px,#4ec36b 260px,#52c569 273px,#58c765 286px,#63cb5f 299px,#65cb5e 312px,#3aba76 325px,#3aba76 325px)"></i>
<i style="left:180px;width:2px;background:linear-gradient(#22a884 0px,#24aa83 13px,#25ab82 26px,#26ad81 39px,#26ad81 52px,#26ad81 65px,#26ad81 78px,#26ad81 91px,#26ad81 104px,#25ac82 117px,#25ac82 130px,#25ac82 143px,#2cb17e 156px,#37b878 169px,#46c06f 182px,#46c06f 195px,#46c06f 208px,#46c06f 221px,#46c06f 234px,#48c16e 247px,#4cc26c 260px,#52c569 273px,#58c765 286px,#63cb5f 299px,#65cb5e 312px,#3aba76 325px,#3aba76 325px)"></i>
<i style="left:182px;width:2px;background:linear-gradient(#1e9d89 0px,#1f9f88 13px,#1fa188 26px,#1fa187 39px,#1fa187 52px,#1fa188 65px,#1fa188 78px,#1fa088 91px,#1fa088 104px,#1f9f88 117px,#1f9f88 130px,#1f9f88 143px,#21a585 156px,#28ae80 169px,#37b878 182px,#38b977 195px,#38b977 208px,#38b977 221px,#3bbb75 234px,#3fbc73 247px,#48c16e 260px,#50c46a 273px,#58c765 286px,#63cb5f 299px,#65cb5e 312px,#3aba76 325px,#3aba76 325px)"></i>
<i style="left:184px;width:2px;background:linear-gradient(#1f978b 0px,#1f998a 13px,#1f9a8a 26px,#1e9c89 39px,#1e9b8a 52px,#1f998a 65px,#1f978b 78px,#1f948c 91px,#20928c 104px,#21918c 117px,#21918c 130px,#21918c 143px,#1f998a 156px,#21a585 169px,#2ab07f 182px,#2cb17e 195px,#2cb17e 208px,#2db27d 221px,#32b67a 234px,#38b977 247px,#42be71 260px,#4ec36b 273px,#58c765 286px,#63cb5f 299px,#65cb5e 312px,#3aba76 325px,#3aba76 325px)"></i>
<i style="left:186px;width:2px;background:linear-gradient(#1f988b 0px,#1f9a8a 13px,#1e9b8a 26px,#1e9d89 39px,#1f9a8a 52px,#1f978b 65px,#20938c 78px,#21908d 91px,#228d8d 104px,#23898e 117px,#23898e 130px,#23898e 143px,#20928c 156px,#1fa188 169px,#28ae80 182px,#29af7f 195px,#29af7f 208px,#2ab07f 221px,#2fb47c 234px,#37b878 247px,#40bd72 260px,#4ec36b 273px,#58c765 286px,#63cb5f 299px,#65cb5e 312px,#3aba76 325px,#3aba76 325px)"></i>
<i style="left:188px;width:2px;background:linear-gradient(#1e9c89 0px,#1f9e89 13px,#1fa088 26px,#1fa188 39px,#1f9e89 52px,#1f9a8a 65px,#1f958b 78px,#20928c 91px,#228d8d 104px,#23898e 117px,#23898e 130px,#23898e 143px,#20928c 156px,#1fa188 169px,#28ae80 182px,#29af7f 195px,#29af7f 208px,#2ab07f 221px,#2fb47c 234px,#37b878 247px,#40bd72 260px,#4ec36b 273px,#58c765 286px,#63cb5f 299px,#65cb5e 312px,#3aba76 325px,#3aba76 325px)"></i>
<i style="left:190px;width:2px;background:linear-gradient(#1fa188 0px,#1fa187 13px,#20a386 26px,#21a585 39px,#1fa187 52px,#1e9d89 65px,#1f978b 78px,#20928c 91px,#218e8d 104px,#23898e 117px,#23898e 130px,#23898e 143px,#20938c 156px,#20a386 169px,#2eb37c 182px,#2fb47c 195px,#2fb47c 208px,#31b57b 221px,#35b779 234px,#3bbb75 247px,#44bf70 260px,#4ec36b 273px,#58c765 286px,#63cb5f 299px,#65cb5e 312px,#3aba76 325px,#3aba76 325px)"></i>
<i style="left:192px;width:2px;background:linear-gradient(#1fa287 0px,#20a386 13px,#21a585 26px,#21a685 39px,#1fa287 52px,#1f9e89 65px,#1f988b 78px,#20938c 91px,#218e8d 104px,#23898e 117px,#23898e 130px,#23898e 143px,#1f958b 156px,#22a884 169px,#3aba76 182px,#3aba76 195px,#3aba76 208px,#3bbb75 221px,#3fbc73 234px,#40bd72 247px,#48c16e 260px,#50c46a 273px,#58c765 286px,#63cb5f 299px,#65cb5e 312px,#3aba76 325px,#3aba76 325px)"></i>
<i style="left:194px;width:2px;background:linear-gradient(#1e9d89 0px,#1f9e89 13px,#1fa088 26px,#1fa188 39px,#1f9e89 52px,#1f9a8a 65px,#1f958b 78px,#20928c 91px,#228d8d 104px,#23898e 117px,#23898e 130px,#23898e 143px,#1f968b 156px,#25ab82 169px,#42be71 182px,#44bf70 195px,#44bf70 208px,#44bf70 221px,#44bf70 234px,#46c06f 247px,#4cc26c 260px,#50c46a 273px,#58c765 286px,#63cb5f 299px,#65cb5e 312px,#3aba76 325px,#3aba76 325px)"></i>
<i style="left:196px;width:2px;background:linear-gradient(#1f988b 0px,#1f998a 13px,#1e9b8a 26px,#1e9d89 39px,#1f9a8a 52px,#1f968b 65px,#20938c 78px,#21908d 91px,#228d8d 104px,#23898e 117px,#23898e 130px,#23898e 143px,#1f968b 156px,#25ab82 169px,#42be71 182px,#44bf70 195px,#44bf70 208px,#44bf70 221px,#44bf70 234px,#46c06f 247px,#4cc26c 260px,#50c46a 273px,#58c765 286px,#63cb5f 299px,#65cb5e 312px,#3aba76 325px,#3aba76 325px)"></i>
<i style="left:198px;width:2px;background:linear-gradient(#1f978b 0px,#1f998a 13px,#1f9a8a 26px,#1e9c89 39px,#1f998a 52px,#1f968b 65px,#20928c 78px,#21908d 91px,#228c8d 104px,#23898e 117px,#23898e 130px,#23898e 143px,#1f948c 156px,#22a785 169px,#37b878 182px,#38b977 195px,#38b977 208px,#38b977 221px,#3bbb75 234px,#3fbc73 247px,#48c16e 260px,#50c46a 273px,#58c765 286px,#63cb5f 299px,#65cb5e 312px,#3aba76 325px,#3aba76 325px)"></i>
<i style="left:200px;width:2px;background:linear-gradient(#1f978b 0px,#1f998a 13px,#1f9a8a 26px,#1e9c89 39px,#1f998a 52px,#1f968b 65px,#20928c 78px,#21908d 91px,#228c8d 104px,#23898e 117px,#23898e 130px,#23898e 143px,#20928c 156px,#1fa187 169px,#2ab07f 182px,#2ab07f 195px,#2ab07f 208px,#2cb17e 221px,#32b67a 234px,#38b977 247px,#42be71 260px,#4ec36b 273px,#58c765 286px,#63cb5f 299px,#65cb5e 312px,#3aba76 325px,#3aba76 325px)"></i>
<i style="left:202px;width:2px;background:linear-gradient(#1f978b 0px,#1f998a 13px,#1f9a8a 26px,#1e9c89 39px,#1f998a 52px,#1f968b 65px,#20928c 78px,#21908d 91px,#228c8d 104px,#23898e 117px,#23898e 130px,#23898e 143px,#21918c 156px,#1f9e89 169px,#24aa83 182px,#24aa83 195px,#24aa83 208px,#25ac82 221px,#2cb17e 234px,#32b67a 247px,#3fbc73 260px,#4ec36b 273px,#58c765 286px,#63cb5f 299px,#65cb5e 312px,#3aba76 325px,#3aba76 325px)"></i>
<i style="left:204px;width:2px;background:linear-gradient(#1f978b 0px,#1f998a 13px,#1f9a8a 26px,#1e9c89 39px,#1f998a 52px,#1f968b 65px,#20928c 78px,#21908d 91px,#228c8d 104px,#23898e 117px,#23898e 130px,#23898e 143px,#21918c 156px,#1f9e89 169px,#24aa83 182px,#24aa83 195px,#24aa83 208px,#25ab82 221px,#28ae80 234px,#2db27d 247px,#35b779 260px,#3fbc73 273px,#48c16e 286px,#52c569 299px,#54c568 312px,#2eb37c 325px,#2eb37c 325px)"></i>
<i style="left:206px;width:2px;background:linear-gradient(#1f978b 0px,#1f998a 13px,#1f9a8a 26px,#1e9c89 39px,#1f998a 52px,#1f968b 65px,#20928c 78px,#21908d 91px,#228c8d 104px,#23898e 117px,#23898e 130px,#23898e 143px,#21918c 156px,#1f9e89 169px,#24aa83 182px,#24aa83 195px,#24aa83 208px,#25ab82 221px,#25ac82 234px,#27ad81 247px,#2cb17e 260px,#31b57b 273px,#37b878 286px,#3dbc74 299px,#3fbc73 312px,#23a983 325px,#23a983 325px)"></i>
<i style="left:208px;width:2px;background:linear-gradient(#1f978b 0px,#1f998a 13px,#1f9a8a 26px,#1e9c89 39px,#1f998a 52px,#1f968b 65px,#20928c 78px,#21908d 91px,#228c8d 104px,#23898e 117px,#23898e 130px,#23898e 143px,#21918c 156px,#1e9c89 169px,#22a785 182px,#22a884 195px,#22a884 208px,#22a884 221px,#22a884 234px,#23a983 247px,#25ac82 260px,#27ad81 273px,#2cb17e 286px,#32b67a 299px,#34b679 312px,#1fa287 325px,#1fa287 325px)"></i>
<i style="left:210px;width:2px;background:linear-gradient(#1f978b 0px,#1f998a 13px,#1f9a8a 26px,#1e9c89 39px,#1f998a 52px,#1f968b 65px,#20928c 78px,#21908d 91px,#228c8d 104px,#23898e 117px,#23898e 130px,#23898e 143px,#21908d 156px,#1f9a8a 169px,#20a486 182px,#20a486 195px,#20a486 208px,#20a486 221px,#21a685 234px,#22a785 247px,#25ab82 260px,#27ad81 273px,#2cb17e 286px,#32b67a 299px,#34b679 312px,#1fa287 325px,#1fa287 325px)"></i>
<i style="left:212px;width:4px;background:linear-gradient(#1f978b 0px,#1f998a 13px,#1f9a8a 26px,#1e9c89 39px,#1f998a 52px,#1f968b 65px,#20928c 78px,#21908d 91px,#228c8d 104px,#23898e 117px,#23898e 130px,#23898e 143px,#218f8d 156px,#1f988b 169px,#1fa187 182px,#1fa187 195px,#1fa187 208px,#1fa287 221px,#20a486 234px,#21a685 247px,#24aa83 260px,#27ad81 273px,#2cb17e 286px,#32b67a 299px,#34b679 312px,#1fa287 325px,#1fa287 325px)"></i>
<i style="left:216px;width:2px;background:linear-gradient(#1f988b 0px,#1f998a 13px,#1e9b8a 26px,#1e9d89 39px,#1f9a8a 52px,#1f968b 65px,#20938c 78px,#21908d 91px,#228d8d 104px,#23898e 117px,#23898e 130px,#23898e 143px,#218f8d 156px,#1f988b 169px,#1fa187 182px,#1fa187 195px,#1fa187 208px,#1fa287 221px,#20a486 234px,#21a685 247px,#24aa83 260px,#27ad81 273px,#2cb17e 286px,#32b67a 299px,#34b679 312px,#1fa287 325px,#1fa287 325px)"></i>
<i style="left:218px;width:2px;background:linear-gradient(#1f9f88 0px,#1fa188 13px,#1fa187 26px,#20a386 39px,#1fa188 52px,#1e9c89 65px,#1f988b 78px,#1f948c 91px,#21918c 104px,#228d8d 117px,#228d8d 130px,#228d8d 143px,#1f948c 156px,#1fa088 169px,#25ab82 182px,#25ab82 195px,#25ab82 208px,#25ac82 221px,#26ad81 234px,#28ae80 247px,#2db27d 260px,#32b67a 273px,#38b977 286px,#3fbc73 299px,#40bd72 312px,#24aa83 325px,#24aa83 325px)"></i>
<i style="left:220px;width:2px;background:linear-gradient(#22a785 0px,#22a884 13px,#24aa83 26px,#25ab82 39px,#22a884 52px,#20a486 65px,#1fa188 78px,#1e9c89 91px,#1f988b 104px,#1f948c 117px,#1f948c 130px,#1f948c 143px,#1e9d89 156px,#24aa83 169px,#32b67a 182px,#34b679 195px,#34b679 208px,#34b679 221px,#37b878 234px,#38b977 247px,#3fbc73 260px,#44bf70 273px,#4ec36b 286px,#56c667 299px,#58c765 312px,#31b57b 325px,#31b57b 325px)"></i>
<i style="left:222px;width:8px;background:linear-gradient(#26ad81 0px,#28ae80 13px,#29af7f 26px,#2cb17e 39px,#28ae80 52px,#24aa83 65px,#21a685 78px,#1fa287 91px,#1f9e89 104px,#1f9a8a 117px,#1f9a8a 130px,#1f9a8a 143px,#20a386 156px,#2cb17e 169px,#42be71 182px,#44bf70 195px,#44bf70 208px,#44bf70 221px,#46c06f 234px,#48c16e 247px,#50c46a 260px,#56c667 273px,#5ec962 286px,#69cd5b 299px,#6ccd5a 312px,#3fbc73 325px,#3fbc73 325px)"></i>
<i style="left:230px;width:2px;background:linear-gradient(#22a785 0px,#22a884 13px,#24aa83 26px,#25ab82 39px,#23a983 52px,#21a685 65px,#20a386 78px,#1fa088 91px,#1e9d89 104px,#1f9a8a 117px,#1f9a8a 130px,#1f9a8a 143px,#20a386 156px,#2cb17e 169px,#42be71 182px,#44bf70 195px,#44bf70 208px,#44bf70 221px,#46c06f 234px,#48c16e 247px,#50c46a 260px,#56c667 273px,#5ec962 286px,#69cd5b 299px,#6ccd5a 312px,#3fbc73 325px,#3fbc73 325px)"></i>
<i style="left:232px;width:2px;background:linear-gradient(#1f9f88 0px,#1fa188 13px,#1fa187 26px,#20a386 39px,#1fa287 52px,#1fa188 65px,#1f9f88 78px,#1e9d89 91px,#1e9c89 104px,#1f9a8a 117px,#1f9a8a 130px,#1f9a8a 143px,#20a386 156px,#2cb17e 169px,#42be71 182px,#44bf70 195px,#44bf70 208px,#44bf70 221px,#46c06f 234px,#46c06f 247px,#4cc26c 260px,#52c569 273px,#5ac864 286px,#63cb5f 299px,#65cb5e 312px,#3aba76 325px,#3aba76 325px)"></i>
<i style="left:234px;width:2px;background:linear-gradient(#1f988b 0px,#1f998a 13px,#1e9b8a 26px,#1e9d89 39px,#1e9d89 52px,#1f9e89 65px,#1f9f88 78px,#1fa088 91px,#1fa188 104px,#1fa188 117px,#1fa188 130px,#1fa188 143px,#22a884 156px,#2db27d 169px,#3dbc74 182px,#3dbc74 195px,#3dbc74 208px,#3dbc74 221px,#3bbb75 234px,#3aba76 247px,#3dbc74 260px,#3fbc73 273px,#44bf70 286px,#4ec36b 299px,#50c46a 312px,#2cb17e 325px,#2cb17e 325px)"></i>
<i style="left:236px;width:2px;background:linear-gradient(#1f978b 0px,#1f998a 13px,#1f9a8a 26px,#1e9c89 39px,#1f9e89 52px,#1fa088 65px,#1fa187 78px,#20a486 91px,#21a685 104px,#22a884 117px,#22a884 130px,#22a884 143px,#24aa83 156px,#26ad81 169px,#29af7f 182px,#29af7f 195px,#29af7f 208px,#29af7f 221px,#29af7f 234px,#29af7f 247px,#2cb17e 260px,#2eb37c 273px,#34b679 286px,#3aba76 299px,#3bbb75 312px,#22a785 325px,#22a785 325px)"></i>
<i style="left:238px;width:2px;background:linear-gradient(#1f978b 0px,#1f998a 13px,#1f9a8a 26px,#1e9c89 39px,#1e9d89 52px,#1f9e89 65px,#1f9f88 78px,#1fa088 91px,#1fa188 104px,#1fa187 117px,#1fa187 130px,#1fa187 143px,#1fa187 156px,#1fa187 169px,#1fa187 182px,#1fa187 195px,#1fa187 208px,#1fa287 221px,#21a585 234px,#22a785 247px,#25ac82 260px,#2ab07f 273px,#2fb47c 286px,#37b878 299px,#38b977 312px,#21a585 325px,#21a585 325px)"></i>
<i style="left:240px;width:2px;background:linear-gradient(#25858e 0px,#24878e 13px,#23888e 26px,#238a8d 39px,#228c8d 52px,#228d8d 65px,#218f8d 78px,#21918c 91px,#20928c 104px,#20938c 117px,#20938c 130px,#20938c 143px,#20928c 156px,#20928c 169px,#21918c 182px,#21918c 195px,#21918c 208px,#21918c 221px,#20938c 234px,#1f968b 247px,#1e9b8a 260px,#1fa088 273px,#20a386 286px,#22a884 299px,#23a983 312px,#1f948c 325px,#1f948c 325px)"></i>
<i style="left:242px;width:2px;background:linear-gradient(#26828e 0px,#25838e 13px,#25858e 26px,#24868e 39px,#24878e 52px,#23888e 65px,#23898e 78px,#23898e 91px,#238a8d 104px,#228b8d 117px,#228b8d 130px,#228b8d 143px,#228c8d 156px,#218e8d 169px,#21908d 182px,#21918c 195px,#21918c 208px,#21918c 221px,#20928c 234px,#20938c 247px,#1f968b 260px,#1f9a8a 273px,#1f9e89 286px,#1fa287 299px,#20a386 312px,#218f8d 325px,#218f8d 325px)"></i>
<i style="left:244px;width:2px;background:linear-gradient(#27808e 0px,#26818e 13px,#26828e 26px,#25838e 39px,#25848e 52px,#25848e 65px,#25848e 78px,#25848e 91px,#25848e 104px,#25848e 117px,#25848e 130px,#25848e 143px,#24878e 156px,#228c8d 169px,#21908d 182px,#21918c 195px,#21918c 208px,#21908d 221px,#21908d 234px,#21908d 247px,#20928c 260px,#20928c 273px,#1f968b 286px,#1f9a8a 299px,#1e9b8a 312px,#24868e 325px,#24868e 325px)"></i>
<i style="left:246px;width:2px;background:linear-gradient(#27808e 0px,#26818e 13px,#26828e 26px,#25838e 39px,#25848e 52px,#25848e 65px,#25848e 78px,#25848e 91px,#25848e 104px,#25848e 117px,#25848e 130px,#25848e 143px,#24878e 156px,#228c8d 169px,#21908d 182px,#21918c 195px,#21918c 208px,#21908d 221px,#218e8d 234px,#228d8d 247px,#228d8d 260px,#218e8d 273px,#21918c 286px,#1f948c 299px,#1f958b 312px,#26818e 325px,#26818e 325px)"></i>
<i style="left:248px;width:2px;background:linear-gradient(#27808e 0px,#26818e 13px,#26828e 26px,#25838e 39px,#25848e 52px,#25848e 65px,#25848e 78px,#25848e 91px,#25848e 104px,#25848e 117px,#25848e 130px,#25848e 143px,#25858e 156px,#24868e 169px,#23888e 182px,#23888e 195px,#23888e 208px,#23888e 221px,#24868e 234px,#25848e 247px,#25858e 260px,#25858e 273px,#23888e 286px,#228d8d 299px,#218e8d 312px,#29798e 325px,#29798e 325px)"></i>
<i style="left:250px;width:2px;background:linear-gradient(#2b748e 0px,#2a788e 13px,#297b8e 26px,#287d8e 39px,#277e8e 52px,#277e8e 65px,#277e8e 78px,#277f8e 91px,#277f8e 104px,#277f8e 117px,#277f8e 130px,#277f8e 143px,#277f8e 156px,#277e8e 169px,#277e8e 182px,#277e8e 195px,#287d8e 208px,#287d8e 221px,#287c8e 234px,#297a8e 247px,#297b8e 260px,#297b8e 273px,#277e8e 286px,#26828e 299px,#26828e 312px,#2c738e 325px,#2c738e 325px)"></i>
<i style="left:252px;width:2px;background:linear-gradient(#31668e 0px,#2e6d8e 13px,#2c738e 26px,#2a788e 39px,#297a8e 52px,#297a8e 65px,#297b8e 78px,#297b8e 91px,#287c8e 104px,#287c8e 117px,#287d8e 130px,#287d8e 143px,#287c8e 156px,#297b8e 169px,#297a8e 182px,#297a8e 195px,#29798e 208px,#29798e 221px,#2a788e 234px,#2a778e 247px,#2a778e 260px,#2a788e 273px,#297a8e 286px,#287c8e 299px,#277e8e 312px,#2a778e 325px,#2a778e 325px)"></i>
<i style="left:254px;width:2px;background:linear-gradient(#365c8d 0px,#31678e 13px,#2d708e 26px,#2a778e 39px,#29798e 52px,#297a8e 65px,#297b8e 78px,#287c8e 91px,#287d8e 104px,#277e8e 117px,#277e8e 130px,#277e8e 143px,#277e8e 156px,#287d8e 169px,#287d8e 182px,#287c8e 195px,#287c8e 208px,#297b8e 221px,#297a8e 234px,#297a8e 247px,#297a8e 260px,#297b8e 273px,#287c8e 286px,#287d8e 299px,#26818e 312px,#26828e 325px,#26828e 325px)"></i>
<i style="left:256px;width:30px;background:linear-gradient(#375b8d 0px,#31668e 13px,#2d708e 26px,#2a778e 39px,#297a8e 52px,#297b8e 65px,#287c8e 78px,#287d8e 91px,#277e8e 104px,#277f8e 117px,#277f8e 130px,#277f8e 143px,#277e8e 156px,#277e8e 169px,#287d8e 182px,#287d8e 195px,#287c8e 208px,#287c8e 221px,#297b8e 234px,#297a8e 247px,#297b8e 260px,#287c8e 273px,#287c8e 286px,#287d8e 299px,#26818e 312px,#25848e 325px,#25848e 325px)"></i>
<i style="left:286px;width:2px;background:linear-gradient(#34608d 0px,#306a8e 13px,#2c718e 26px,#2a778e 39px,#297a8e 52px,#297a8e 65px,#297b8e 78px,#287c8e 91px,#287d8e 104px,#277e8e 117px,#277e8e 130px,#277e8e 143px,#287d8e 156px,#287c8e 169px,#287c8e 182px,#297b8e 195px,#297b8e 208px,#297a8e 221px,#29798e 234px,#2a788e 247px,#29798e 260px,#297a8e 273px,#297b8e 286px,#287d8e 299px,#27808e 312px,#277e8e 325px,#277e8e 325px)"></i>
<i style="left:288px;width:2px;background:linear-gradient(#228c8d 0px,#228d8d 13px,#218f8d 26px,#21908d 39px,#21918c 52px,#21918c 65px,#21908d 78px,#21908d 91px,#21908d 104px,#21908d 117px,#21908d 130px,#21908d 143px,#228d8d 156px,#23898e 169px,#25858e 182px,#25858e 195px,#25858e 208px,#25858e 221px,#25848e 234px,#26828e 247px,#25838e 260px,#25848e 273px,#24878e 286px,#228c8d 299px,#228d8d 312px,#2a788e 325px,#2a788e 325px)"></i>
<i style="left:290px;width:2px;background:linear-gradient(#1fa088 0px,#1fa187 13px,#20a386 26px,#20a486 39px,#21a585 52px,#21a685 65px,#22a884 78px,#23a983 91px,#24aa83 104px,#25ab82 117px,#25ab82 130px,#25ab82 143px,#23a983 156px,#21a685 169px,#20a386 182px,#20a386 195px,#20a386 208px,#20a386 221px,#20a386 234px,#1fa287 247px,#20a486 260px,#21a585 273px,#23a983 286px,#26ad81 299px,#27ad81 312px,#1f998a 325px,#1f998a 325px)"></i>
<i style="left:292px;width:2px;background:linear-gradient(#32b67a 0px,#34b679 13px,#37b878 26px,#3aba76 39px,#3bbb75 52px,#3fbc73 65px,#40bd72 78px,#44bf70 91px,#48c16e 104px,#4ac16d 117px,#4ac16d 130px,#4ac16d 143px,#3fbc73 156px,#31b57b 169px,#26ad81 182px,#26ad81 195px,#26ad81 208px,#27ad81 221px,#29af7f 234px,#2cb17e 247px,#31b57b 260px,#37b878 273px,#3fbc73 286px,#46c06f 299px,#48c16e 312px,#27ad81 325px,#27ad81 325px)"></i>
<i style="left:294px;width:2px;background:linear-gradient(#37b878 0px,#38b977 13px,#3bbb75 26px,#3dbc74 39px,#40bd72 52px,#44bf70 65px,#46c06f 78px,#4ac16d 91px,#4ec36b 104px,#50c46a 117px,#50c46a 130px,#50c46a 143px,#46c06f 156px,#38b977 169px,#2cb17e 182px,#2cb17e 195px,#2cb17e 208px,#2db27d 221px,#34b679 234px,#3bbb75 247px,#46c06f 260px,#54c568 273px,#5ec962 286px,#69cd5b 299px,#6ccd5a 312px,#3fbc73 325px,#3fbc73 325px)"></i>
<i style="left:296px;width:2px;background:linear-gradient(#27ad81 0px,#29af7f 13px,#2ab07f 26px,#2db27d 39px,#2eb37c 52px,#2fb47c 65px,#31b57b 78px,#32b67a 91px,#34b679 104px,#37b878 117px,#37b878 130px,#37b878 143px,#34b679 156px,#2fb47c 169px,#2cb17e 182px,#2cb17e 195px,#2cb17e 208px,#2db27d 221px,#34b679 234px,#3bbb75 247px,#46c06f 260px,#54c568 273px,#5ec962 286px,#69cd5b 299px,#6ccd5a 312px,#3fbc73 325px,#3fbc73 325px)"></i>
<i style="left:298px;width:2px;background:linear-gradient(#1fa287 0px,#20a486 13px,#21a585 26px,#22a785 39px,#22a884 52px,#22a884 65px,#23a983 78px,#24aa83 91px,#24aa83 104px,#25ab82 117px,#25ab82 130px,#25ab82 143px,#26ad81 156px,#28ae80 169px,#2cb17e 182px,#2cb17e 195px,#2cb17e 208px,#2db27d 221px,#34b679 234px,#3bbb75 247px,#46c06f 260px,#54c568 273px,#5ec962 286px,#69cd5b 299px,#6ccd5a 312px,#3fbc73 325px,#3fbc73 325px)"></i>
<i style="left:300px;width:2px;background:linear-gradient(#1f998a 0px,#1f9a8a 13px,#1e9c89 26px,#1f9e89 39px,#1f9e89 52px,#1f9e89 65px,#1f9e89 78px,#1f9e89 91px,#1e9d89 104px,#1e9d89 117px,#1e9d89 130px,#1e9d89 143px,#1fa287 156px,#24aa83 169px,#2cb17e 182px,#2cb17e 195px,#2cb17e 208px,#2db27d 221px,#34b679 234px,#3bbb75 247px,#46c06f 260px,#54c568 273px,#5ec962 286px,#69cd5b 299px,#6ccd5a 312px,#3fbc73 325px,#3fbc73 325px)"></i>
<i style="left:302px;width:4px;background:linear-gradient(#1f978b 0px,#1f998a 13px,#1f9a8a 26px,#1e9c89 39px,#1e9c89 52px,#1e9c89 65px,#1e9b8a 78px,#1e9b8a 91px,#1f9a8a 104px,#1f9a8a 117px,#1f9a8a 130px,#1f9a8a 143px,#1fa088 156px,#22a884 169px,#2cb17e 182px,#2cb17e 195px,#2cb17e 208px,#2db27d 221px,#34b679 234px,#3bbb75 247px,#46c06f 260px,#54c568 273px,#5ec962 286px,#69cd5b 299px,#6ccd5a 312px,#3fbc73 325px,#3fbc73 325px)"></i>
<i style="left:306px;width:2px;background:linear-gradient(#1f978b 0px,#1f998a 13px,#1f9a8a 26px,#1e9c89 39px,#1e9c89 52px,#1e9c89 65px,#1e9c89 78px,#1e9b8a 91px,#1e9b8a 104px,#1e9b8a 117px,#1e9b8a 130px,#1e9b8a 143px,#1fa088 156px,#22a884 169px,#29af7f 182px,#29af7f 195px,#29af7f 208px,#2cb17e 221px,#32b67a 234px,#3aba76 247px,#46c06f 260px,#54c568 273px,#5ec962 286px,#69cd5b 299px,#6ccd5a 312px,#3fbc73 325px,#3fbc73 325px)"></i>
<i style="left:308px;width:2px;background:linear-gradient(#1f9a8a 0px,#1e9c89 13px,#1e9d89 26px,#1f9f88 39px,#1f9f88 52px,#1f9f88 65px,#1f9f88 78px,#1f9f88 91px,#1f9f88 104px,#1f9f88 117px,#1f9f88 130px,#1f9f88 143px,#1fa187 156px,#21a585 169px,#23a983 182px,#23a983 195px,#23a983 208px,#25ab82 221px,#2ab07f 234px,#34b679 247px,#42be71 260px,#52c569 273px,#5ec962 286px,#69cd5b 299px,#6ccd5a 312px,#3fbc73 325px,#3fbc73 325px)"></i>
<i style="left:310px;width:2px;background:linear-gradient(#1f9f88 0px,#1fa088 13px,#1fa187 26px,#1fa287 39px,#20a386 52px,#20a386 65px,#20a386 78px,#20a386 91px,#20a386 104px,#20a386 117px,#20a386 130px,#20a386 143px,#1fa287 156px,#1fa287 169px,#1fa287 182px,#1fa287 195px,#1fa287 208px,#20a486 221px,#25ac82 234px,#2eb37c 247px,#3fbc73 260px,#52c569 273px,#5ec962 286px,#69cd5b 299px,#6ccd5a 312px,#3fbc73 325px,#3fbc73 325px)"></i>
<i style="left:312px;width:2px;background:linear-gradient(#1fa287 0px,#20a486 13px,#21a585 26px,#22a785 39px,#22a785 52px,#22a785 65px,#22a785 78px,#22a785 91px,#22a785 104px,#22a785 117px,#22a785 130px,#22a785 143px,#21a585 156px,#20a386 169px,#1fa188 182px,#1fa188 195px,#1fa188 208px,#1fa287 221px,#25ab82 234px,#2db27d 247px,#3dbc74 260px,#52c569 273px,#5ec962 286px,#69cd5b 299px,#6ccd5a 312px,#3fbc73 325px,#3fbc73 325px)"></i>
<i style="left:314px;width:2px;background:linear-gradient(#1fa287 0px,#20a386 13px,#21a585 26px,#21a685 39px,#22a785 52px,#22a785 65px,#22a785 78px,#22a884 91px,#22a884 104px,#22a884 117px,#22a884 130px,#22a884 143px,#21a685 156px,#20a386 169px,#1fa188 182px,#1fa188 195px,#1fa188 208px,#1fa287 221px,#25ab82 234px,#2db27d 247px,#3dbc74 260px,#52c569 273px,#5ec962 286px,#69cd5b 299px,#6ccd5a 312px,#3fbc73 325px,#3fbc73 325px)"></i>
<i style="left:316px;width:2px;background:linear-gradient(#1e9d89 0px,#1f9e89 13px,#1fa088 26px,#1fa188 39px,#1fa287 52px,#20a386 65px,#20a486 78px,#21a685 91px,#22a785 104px,#22a884 117px,#22a884 130px,#22a884 143px,#21a685 156px,#20a386 169px,#1fa188 182px,#1fa188 195px,#1fa188 208px,#1fa287 221px,#25ab82 234px,#2db27d 247px,#3dbc74 260px,#52c569 273px,#5ec962 286px,#69cd5b 299px,#6ccd5a 312px,#3fbc73 325px,#3fbc73 325px)"></i>
<i style="left:318px;width:2px;background:linear-gradient(#1f988b 0px,#1f998a 13px,#1e9b8a 26px,#1e9d89 39px,#1f9e89 52px,#1fa088 65px,#1fa187 78px,#20a386 91px,#20a486 104px,#21a685 117px,#21a685 130px,#21a685 143px,#21a585 156px,#20a386 169px,#1fa188 182px,#1fa188 195px,#1fa188 208px,#1fa287 221px,#25ab82 234px,#2db27d 247px,#3dbc74 260px,#52c569 273px,#5ec962 286px,#69cd5b 299px,#6ccd5a 312px,#3fbc73 325px,#3fbc73 325px)"></i>
<i style="left:320px;width:2px;background:linear-gradient(#1f998a 0px,#1e9b8a 13px,#1e9c89 26px,#1f9e89 39px,#1fa188 52px,#1fa287 65px,#21a585 78px,#22a884 91px,#25ab82 104px,#26ad81 117px,#27ad81 130px,#27ad81 143px,#24aa83 156px,#21a585 169px,#1fa188 182px,#1fa188 195px,#1fa188 208px,#1fa287 221px,#25ab82 234px,#2db27d 247px,#3dbc74 260px,#52c569 273px,#5ec962 286px,#69cd5b 299px,#6ccd5a 312px,#3fbc73 325px,#3fbc73 325px)"></i>
<i style="left:322px;width:2px;background:linear-gradient(#1fa287 0px,#20a386 13px,#21a585 26px,#22a785 39px,#23a983 52px,#25ab82 65px,#27ad81 78px,#29af7f 91px,#2cb17e 104px,#2fb47c 117px,#2fb47c 130px,#2fb47c 143px,#29af7f 156px,#23a983 169px,#1fa187 182px,#1fa187 195px,#1fa187 208px,#20a386 221px,#25ac82 234px,#2eb37c 247px,#3dbc74 260px,#52c569 273px,#5ec962 286px,#69cd5b 299px,#6ccd5a 312px,#3fbc73 325px,#3fbc73 325px)"></i>
<i style="left:324px;width:2px;background:linear-gradient(#26ad81 0px,#27ad81 13px,#29af7f 26px,#2ab07f 39px,#2db27d 52px,#31b57b 65px,#34b679 78px,#37b878 91px,#3aba76 104px,#3dbc74 117px,#3dbc74 130px,#3dbc74 143px,#34b679 156px,#27ad81 169px,#21a585 182px,#21a585 195px,#21a585 208px,#22a785 221px,#27ad81 234px,#31b57b 247px,#3fbc73 260px,#52c569 273px,#5ec962 286px,#69cd5b 299px,#6ccd5a 312px,#3fbc73 325px,#3fbc73 325px)"></i>
<i style="left:326px;width:2px;background:linear-gradient(#2cb17e 0px,#2eb37c 13px,#2fb47c 26px,#32b67a 39px,#35b779 52px,#38b977 65px,#3aba76 78px,#3dbc74 91px,#40bd72 104px,#44bf70 117px,#44bf70 130px,#44bf70 143px,#3aba76 156px,#2cb17e 169px,#23a983 182px,#22a884 195px,#22a884 208px,#24aa83 221px,#29af7f 234px,#32b67a 247px,#3fbc73 260px,#50c46a 273px,#5cc863 286px,#65cb5e 299px,#67cc5c 312px,#3bbb75 325px,#3bbb75 325px)"></i>
<i style="left:328px;width:2px;background:linear-gradient(#22a785 0px,#23a983 13px,#24aa83 26px,#25ac82 39px,#27ad81 52px,#29af7f 65px,#2cb17e 78px,#2eb37c 91px,#31b57b 104px,#34b679 117px,#34b679 130px,#34b679 143px,#2eb37c 156px,#27ad81 169px,#22a884 182px,#22a884 195px,#22a884 208px,#24aa83 221px,#28ae80 234px,#2eb37c 247px,#38b977 260px,#44bf70 273px,#50c46a 286px,#58c765 299px,#5ac864 312px,#32b67a 325px,#32b67a 325px)"></i>
<i style="left:330px;width:2px;background:linear-gradient(#1fa088 0px,#1fa187 13px,#1fa287 26px,#20a486 39px,#21a585 52px,#21a685 65px,#22a785 78px,#22a884 91px,#23a983 104px,#25ab82 117px,#25ab82 130px,#25ab82 143px,#23a983 156px,#22a785 169px,#21a585 182px,#21a585 195px,#21a585 208px,#21a685 221px,#24aa83 234px,#28ae80 247px,#31b57b 260px,#3aba76 273px,#44bf70 286px,#4cc26c 299px,#4ec36b 312px,#2ab07f 325px,#2ab07f 325px)"></i>
<i style="left:332px;width:2px;background:linear-gradient(#1f998a 0px,#1f9a8a 13px,#1e9c89 26px,#1f9e89 39px,#1f9f88 52px,#1fa088 65px,#1fa188 78px,#1fa187 91px,#1fa287 104px,#20a386 117px,#20a386 130px,#20a386 143px,#20a386 156px,#1fa287 169px,#1fa187 182px,#1fa187 195px,#1fa187 208px,#1fa287 221px,#22a785 234px,#25ac82 247px,#2db27d 260px,#38b977 273px,#40bd72 286px,#48c16e 299px,#4ac16d 312px,#28ae80 325px,#28ae80 325px)"></i>
<i style="left:334px;width:2px;background:linear-gradient(#1f9a8a 0px,#1e9b8a 13px,#1e9d89 26px,#1f9e89 39px,#1f9f88 52px,#1fa088 65px,#1fa088 78px,#1fa088 91px,#1fa188 104px,#1fa188 117px,#1fa188 130px,#1fa188 143px,#20a386 156px,#21a685 169px,#23a983 182px,#23a983 195px,#23a983 208px,#24aa83 221px,#26ad81 234px,#2ab07f 247px,#31b57b 260px,#38b977 273px,#40bd72 286px,#48c16e 299px,#4ac16d 312px,#28ae80 325px,#28ae80 325px)"></i>
<i style="left:336px;width:2px;background:linear-gradient(#1e9c89 0px,#1f9e89 13px,#1fa088 26px,#1fa188 39px,#1fa187 52px,#20a386 65px,#20a486 78px,#21a585 91px,#21a685 104px,#22a884 117px,#22a884 130px,#22a884 143px,#25ab82 156px,#29af7f 169px,#2fb47c 182px,#2fb47c 195px,#2fb47c 208px,#31b57b 221px,#31b57b 234px,#32b67a 247px,#35b779 260px,#3aba76 273px,#40bd72 286px,#48c16e 299px,#4ac16d 312px,#28ae80 325px,#28ae80 325px)"></i>
<i style="left:338px;width:2px;background:linear-gradient(#1f9a8a 0px,#1e9b8a 13px,#1e9d89 26px,#1f9e89 39px,#1fa188 52px,#1fa287 65px,#20a486 78px,#21a685 91px,#23a983 104px,#25ab82 117px,#25ab82 130px,#25ab82 143px,#29af7f 156px,#32b67a 169px,#3dbc74 182px,#3fbc73 195px,#3fbc73 208px,#3dbc74 221px,#3bbb75 234px,#38b977 247px,#3aba76 260px,#3bbb75 273px,#40bd72 286px,#48c16e 299px,#4ac16d 312px,#28ae80 325px,#28ae80 325px)"></i>
<i style="left:340px;width:2px;background:linear-gradient(#1f978b 0px,#1f998a 13px,#1f9a8a 26px,#1e9c89 39px,#1e9d89 52px,#1f9e89 65px,#1fa088 78px,#1fa188 91px,#1fa187 104px,#1fa287 117px,#1fa287 130px,#1fa287 143px,#23a983 156px,#2eb37c 169px,#3dbc74 182px,#3fbc73 195px,#3fbc73 208px,#3dbc74 221px,#3bbb75 234px,#38b977 247px,#3aba76 260px,#3bbb75 273px,#40bd72 286px,#48c16e 299px,#4ac16d 312px,#28ae80 325px,#28ae80 325px)"></i>
<i style="left:342px;width:2px;background:linear-gradient(#1f978b 0px,#1f998a 13px,#1f9a8a 26px,#1e9c89 39px,#1e9c89 52px,#1e9c89 65px,#1e9b8a 78px,#1e9b8a 91px,#1e9b8a 104px,#1f9a8a 117px,#1f9a8a 130px,#1f9a8a 143px,#1fa188 156px,#25ab82 169px,#2fb47c 182px,#2fb47c 195px,#2fb47c 208px,#31b57b 221px,#31b57b 234px,#32b67a 247px,#35b779 260px,#3aba76 273px,#40bd72 286px,#48c16e 299px,#4ac16d 312px,#28ae80 325px,#28ae80 325px)"></i>
<i style="left:344px;width:2px;background:linear-gradient(#1f978b 0px,#1f998a 13px,#1f9a8a 26px,#1e9c89 39px,#1e9c89 52px,#1e9b8a 65px,#1f9a8a 78px,#1f998a 91px,#1f988b 104px,#1f978b 117px,#1f978b 130px,#1f978b 143px,#1e9c89 156px,#1fa287 169px,#23a983 182px,#23a983 195px,#23a983 208px,#24aa83 221px,#26ad81 234px,#2ab07f 247px,#31b57b 260px,#38b977 273px,#40bd72 286px,#48c16e 299px,#4ac16d 312px,#28ae80 325px,#28ae80 325px)"></i>
<i style="left:346px;width:8px;background:linear-gradient(#1f978b 0px,#1f998a 13px,#1f9a8a 26px,#1e9c89 39px,#1e9c89 52px,#1e9b8a 65px,#1f9a8a 78px,#1f998a 91px,#1f988b 104px,#1f978b 117px,#1f978b 130px,#1f978b 143px,#1f9a8a 156px,#1e9d89 169px,#1fa188 182px,#1fa188 195px,#1fa188 208px,#1fa287 221px,#22a785 234px,#25ac82 247px,#2db27d 260px,#38b977 273px,#40bd72 286px,#48c16e 299px,#4ac16d 312px,#28ae80 325px,#28ae80 325px)"></i>
<i style="left:354px;width:2px;background:linear-gradient(#1f998a 0px,#1f9a8a 13px,#1e9c89 26px,#1f9e89 39px,#1e9d89 52px,#1e9c89 65px,#1e9b8a 78px,#1f9a8a 91px,#1f998a 104px,#1f988b 117px,#1f988b 130px,#1f988b 143px,#1e9b8a 156px,#1f9e89 169px,#1fa188 182px,#1fa188 195px,#1fa188 208px,#1fa187 221px,#21a585 234px,#23a983 247px,#28ae80 260px,#2fb47c 273px,#37b878 286px,#3fbc73 299px,#40bd72 312px,#24aa83 325px,#24aa83 325px)"></i>
<i style="left:356px;width:2px;background:linear-gradient(#1fa287 0px,#20a386 13px,#21a585 26px,#22a785 39px,#21a685 52px,#21a585 65px,#20a486 78px,#20a386 91px,#1fa287 104px,#1fa188 117px,#1fa188 130px,#1fa188 143px,#1fa188 156px,#1fa188 169px,#1fa188 182px,#1fa188 195px,#1fa188 208px,#1fa187 221px,#20a386 234px,#21a685 247px,#24aa83 260px,#28ae80 273px,#2db27d 286px,#34b679 299px,#35b779 312px,#20a386 325px,#20a386 325px)"></i>
<i style="left:358px;width:2px;background:linear-gradient(#26ad81 0px,#27ad81 13px,#29af7f 26px,#2ab07f 39px,#2ab07f 52px,#29af7f 65px,#27ad81 78px,#26ad81 91px,#25ac82 104px,#25ab82 117px,#25ab82 130px,#25ab82 143px,#22a884 156px,#20a486 169px,#1fa188 182px,#1fa188 195px,#1fa188 208px,#1fa188 221px,#1fa287 234px,#20a386 247px,#21a685 260px,#23a983 273px,#27ad81 286px,#2cb17e 299px,#2db27d 312px,#1f9e89 325px,#1f9e89 325px)"></i>
<i style="left:360px;width:2px;background:linear-gradient(#2fb47c 0px,#32b67a 13px,#34b679 26px,#37b878 39px,#35b779 52px,#34b679 65px,#31b57b 78px,#2fb47c 91px,#2eb37c 104px,#2cb17e 117px,#2cb17e 130px,#2cb17e 143px,#27ad81 156px,#22a785 169px,#1fa188 182px,#1fa188 195px,#1fa188 208px,#1fa188 221px,#1fa287 234px,#20a386 247px,#21a685 260px,#23a983 273px,#27ad81 286px,#2cb17e 299px,#2db27d 312px,#1f9e89 325px,#1f9e89 325px)"></i>
<i style="left:362px;width:2px;background:linear-gradient(#2db27d 0px,#2fb47c 13px,#31b57b 26px,#34b679 39px,#32b67a 52px,#31b57b 65px,#2fb47c 78px,#2eb37c 91px,#2db27d 104px,#2cb17e 117px,#2cb17e 130px,#2cb17e 143px,#29af7f 156px,#25ac82 169px,#22a884 182px,#22a884 195px,#22a884 208px,#22a884 221px,#23a983 234px,#24aa83 247px,#26ad81 260px,#29af7f 273px,#2eb37c 286px,#35b779 299px,#37b878 312px,#20a486 325px,#20a486 325px)"></i>
<i style="left:364px;width:2px;background:linear-gradient(#25ac82 0px,#26ad81 13px,#28ae80 26px,#2ab07f 39px,#2ab07f 52px,#2ab07f 65px,#2ab07f 78px,#2ab07f 91px,#2ab07f 104px,#2ab07f 117px,#2ab07f 130px,#2ab07f 143px,#2ab07f 156px,#2cb17e 169px,#2db27d 182px,#2db27d 195px,#2db27d 208px,#2db27d 221px,#2eb37c 234px,#2eb37c 247px,#32b67a 260px,#37b878 273px,#3dbc74 286px,#44bf70 299px,#46c06f 312px,#26ad81 325px,#26ad81 325px)"></i>
<i style="left:366px;width:2px;background:linear-gradient(#21a585 0px,#21a685 13px,#22a884 26px,#23a983 39px,#24aa83 52px,#25ab82 65px,#25ac82 78px,#26ad81 91px,#27ad81 104px,#28ae80 117px,#28ae80 130px,#28ae80 143px,#2cb17e 156px,#31b57b 169px,#38b977 182px,#38b977 195px,#38b977 208px,#38b977 221px,#38b977 234px,#3aba76 247px,#3dbc74 260px,#42be71 273px,#4ac16d 286px,#52c569 299px,#54c568 312px,#2eb37c 325px,#2eb37c 325px)"></i>
<i style="left:368px;width:2px;background:linear-gradient(#1f9e89 0px,#1fa088 13px,#1fa188 26px,#1fa287 39px,#20a486 52px,#21a685 65px,#22a884 78px,#24aa83 91px,#25ac82 104px,#27ad81 117px,#27ad81 130px,#27ad81 143px,#29af7f 156px,#2fb47c 169px,#35b779 182px,#35b779 195px,#35b779 208px,#35b779 221px,#37b878 234px,#38b977 247px,#3dbc74 260px,#42be71 273px,#4ac16d 286px,#52c569 299px,#54c568 312px,#2eb37c 325px,#2eb37c 325px)"></i>
<i style="left:370px;width:2px;background:linear-gradient(#1e9c89 0px,#1f9e89 13px,#1fa088 26px,#1fa188 39px,#1fa287 52px,#20a486 65px,#22a785 78px,#23a983 91px,#25ab82 104px,#26ad81 117px,#26ad81 130px,#26ad81 143px,#27ad81 156px,#29af7f 169px,#2cb17e 182px,#2cb17e 195px,#2cb17e 208px,#2db27d 221px,#2fb47c 234px,#32b67a 247px,#3aba76 260px,#40bd72 273px,#4ac16d 286px,#52c569 299px,#54c568 312px,#2eb37c 325px,#2eb37c 325px)"></i>
<i style="left:372px;width:2px;background:linear-gradient(#1e9c89 0px,#1f9e89 13px,#1fa088 26px,#1fa188 39px,#1fa287 52px,#20a486 65px,#22a785 78px,#23a983 91px,#25ab82 104px,#26ad81 117px,#26ad81 130px,#26ad81 143px,#26ad81 156px,#25ac82 169px,#25ab82 182px,#25ab82 195px,#25ab82 208px,#25ac82 221px,#29af7f 234px,#2eb37c 247px,#37b878 260px,#40bd72 273px,#4ac16d 286px,#52c569 299px,#54c568 312px,#2eb37c 325px,#2eb37c 325px)"></i>
<i style="left:374px;width:2px;background:linear-gradient(#1e9c89 0px,#1f9e89 13px,#1fa088 26px,#1fa188 39px,#1fa287 52px,#20a486 65px,#22a785 78px,#23a983 91px,#25ab82 104px,#26ad81 117px,#26ad81 130px,#26ad81 143px,#25ac82 156px,#25ab82 169px,#23a983 182px,#23a983 195px,#23a983 208px,#24aa83 221px,#27ad81 234px,#2db27d 247px,#35b779 260px,#3fbc73 273px,#4ac16d 286px,#52c569 299px,#54c568 312px,#2eb37c 325px,#2eb37c 325px)"></i>
<i style="left:376px;width:2px;background:linear-gradient(#1e9c89 0px,#1f9e89 13px,#1fa088 26px,#1fa188 39px,#1fa187 52px,#20a386 65px,#20a486 78px,#21a585 91px,#21a685 104px,#22a884 117px,#22a884 130px,#22a884 143px,#22a884 156px,#23a983 169px,#23a983 182px,#23a983 195px,#23a983 208px,#24aa83 221px,#27ad81 234px,#2db27d 247px,#35b779 260px,#3fbc73 273px,#4ac16d 286px,#52c569 299px,#54c568 312px,#2eb37c 325px,#2eb37c 325px)"></i>
<i style="left:378px;width:2px;background:linear-gradient(#1f9a8a 0px,#1e9b8a 13px,#1e9d89 26px,#1f9e89 39px,#1f9f88 52px,#1fa088 65px,#1fa088 78px,#1fa088 91px,#1fa188 104px,#1fa188 117px,#1fa188 130px,#1fa188 143px,#20a386 156px,#21a685 169px,#23a983 182px,#23a983 195px,#23a983 208px,#24aa83 221px,#27ad81 234px,#2db27d 247px,#35b779 260px,#3fbc73 273px,#4ac16d 286px,#52c569 299px,#54c568 312px,#2eb37c 325px,#2eb37c 325px)"></i>
<i style="left:380px;width:2px;background:linear-gradient(#1f978b 0px,#1f998a 13px,#1f9a8a 26px,#1e9c89 39px,#1e9c89 52px,#1e9c89 65px,#1e9b8a 78px,#1e9b8a 91px,#1f9a8a 104px,#1f9a8a 117px,#1f9a8a 130px,#1f9a8a 143px,#1f9e89 156px,#20a386 169px,#23a983 182px,#23a983 195px,#23a983 208px,#24aa83 221px,#27ad81 234px,#2db27d 247px,#35b779 260px,#3fbc73 273px,#4ac16d 286px,#52c569 299px,#54c568 312px,#2eb37c 325px,#2eb37c 325px)"></i>
<i style="left:382px;width:2px;background:linear-gradient(#1f978b 0px,#1f998a 13px,#1f9a8a 26px,#1e9c89 39px,#1e9c89 52px,#1e9b8a 65px,#1f9a8a 78px,#1f998a 91px,#1f988b 104px,#1f978b 117px,#1f978b 130px,#1f978b 143px,#1e9b8a 156px,#1fa187 169px,#22a785 182px,#22a884 195px,#22a884 208px,#23a983 221px,#26ad81 234px,#2ab07f 247px,#32b67a 260px,#3bbb75 273px,#44bf70 286px,#4ec36b 299px,#50c46a 312px,#2cb17e 325px,#2cb17e 325px)"></i>
<i style="left:384px;width:2px;background:linear-gradient(#1f978b 0px,#1f998a 13px,#1f9a8a 26px,#1e9c89 39px,#1e9c89 52px,#1e9b8a 65px,#1e9b8a 78px,#1f9a8a 91px,#1f998a 104px,#1f998a 117px,#1f998a 130px,#1f998a 143px,#1e9b8a 156px,#1f9f88 169px,#1fa287 182px,#1fa287 195px,#1fa287 208px,#20a386 221px,#21a685 234px,#23a983 247px,#28ae80 260px,#2eb37c 273px,#35b779 286px,#3dbc74 299px,#3dbc74 312px,#23a983 325px,#23a983 325px)"></i>
<i style="left:386px;width:2px;background:linear-gradient(#1e9d89 0px,#1f9f88 13px,#1fa088 26px,#1fa187 39px,#1fa187 52px,#1fa187 65px,#1fa187 78px,#1fa187 91px,#1fa187 104px,#1fa187 117px,#1fa187 130px,#1fa187 143px,#1fa188 156px,#1f9f88 169px,#1e9d89 182px,#1e9d89 195px,#1e9d89 208px,#1f9e89 221px,#1fa088 234px,#1fa287 247px,#22a785 260px,#25ab82 273px,#29af7f 286px,#2eb37c 299px,#2fb47c 312px,#1fa088 325px,#1fa088 325px)"></i>
<i style="left:388px;width:2px;background:linear-gradient(#22a785 0px,#23a983 13px,#24aa83 26px,#25ac82 39px,#25ac82 52px,#25ac82 65px,#25ac82 78px,#25ac82 91px,#25ac82 104px,#25ac82 117px,#25ac82 130px,#25ac82 143px,#22a884 156px,#20a386 169px,#1f9e89 182px,#1f9e89 195px,#1f9e89 208px,#1f9e89 221px,#1fa088 234px,#1fa187 247px,#21a585 260px,#23a983 273px,#27ad81 286px,#2cb17e 299px,#2db27d 312px,#1f9e89 325px,#1f9e89 325px)"></i>
<i style="left:390px;width:2px;background:linear-gradient(#2cb17e 0px,#2eb37c 13px,#2fb47c 26px,#32b67a 39px,#32b67a 52px,#32b67a 65px,#32b67a 78px,#32b67a 91px,#32b67a 104px,#32b67a 117px,#32b67a 130px,#32b67a 143px,#2db27d 156px,#25ab82 169px,#20a486 182px,#20a486 195px,#20a486 208px,#20a486 221px,#20a486 234px,#21a585 247px,#22a785 260px,#24aa83 273px,#27ad81 286px,#2cb17e 299px,#2db27d 312px,#1f9e89 325px,#1f9e89 325px)"></i>
<i style="left:392px;width:2px;background:linear-gradient(#2fb47c 0px,#32b67a 13px,#34b679 26px,#37b878 39px,#37b878 52px,#37b878 65px,#37b878 78px,#37b878 91px,#37b878 104px,#37b878 117px,#37b878 130px,#37b878 143px,#31b57b 156px,#2ab07f 169px,#25ab82 182px,#25ab82 195px,#25ab82 208px,#25ab82 221px,#25ab82 234px,#25ac82 247px,#27ad81 260px,#2ab07f 273px,#2eb37c 286px,#35b779 299px,#37b878 312px,#20a486 325px,#20a486 325px)"></i>
<i style="left:394px;width:2px;background:linear-gradient(#26ad81 0px,#27ad81 13px,#29af7f 26px,#2ab07f 39px,#2cb17e 52px,#2cb17e 65px,#2cb17e 78px,#2db27d 91px,#2db27d 104px,#2db27d 117px,#2db27d 130px,#2db27d 143px,#2ab07f 156px,#27ad81 169px,#25ac82 182px,#25ab82 195px,#25ab82 208px,#25ac82 221px,#27ad81 234px,#29af7f 247px,#2fb47c 260px,#35b779 273px,#3dbc74 286px,#44bf70 299px,#46c06f 312px,#26ad81 325px,#26ad81 325px)"></i>
<i style="left:396px;width:2px;background:linear-gradient(#1fa287 0px,#20a386 13px,#21a585 26px,#22a785 39px,#22a785 52px,#22a884 65px,#22a884 78px,#22a884 91px,#23a983 104px,#23a983 117px,#23a983 130px,#23a983 143px,#23a983 156px,#22a884 169px,#21a685 182px,#21a685 195px,#21a685 208px,#22a884 221px,#26ad81 234px,#2ab07f 247px,#34b679 260px,#3fbc73 273px,#4ac16d 286px,#52c569 299px,#54c568 312px,#2eb37c 325px,#2eb37c 325px)"></i>
<i style="left:398px;width:2px;background:linear-gradient(#1f998a 0px,#1f9a8a 13px,#1e9c89 26px,#1f9e89 39px,#1f9e89 52px,#1f9f88 65px,#1f9f88 78px,#1fa088 91px,#1fa088 104px,#1fa188 117px,#1fa188 130px,#1fa188 143px,#1fa188 156px,#1fa187 169px,#1fa187 182px,#1fa187 195px,#1fa187 208px,#20a386 221px,#23a983 234px,#28ae80 247px,#32b67a 260px,#3fbc73 273px,#4ac16d 286px,#52c569 299px,#54c568 312px,#2eb37c 325px,#2eb37c 325px)"></i>
<i style="left:400px;width:2px;background:linear-gradient(#1f978b 0px,#1f998a 13px,#1f9a8a 26px,#1e9c89 39px,#1e9d89 52px,#1f9e89 65px,#1f9e89 78px,#1f9f88 91px,#1fa088 104px,#1fa188 117px,#1fa188 130px,#1fa188 143px,#1fa188 156px,#1fa188 169px,#1fa188 182px,#1fa188 195px,#1fa188 208px,#1fa287 221px,#22a884 234px,#27ad81 247px,#31b57b 260px,#3fbc73 273px,#4ac16d 286px,#52c569 299px,#54c568 312px,#2eb37c 325px,#2eb37c 325px)"></i>
<i style="left:402px;width:2px;background:linear-gradient(#1e9d89 0px,#1f9f88 13px,#1fa088 26px,#1fa187 39px,#1fa287 52px,#20a486 65px,#21a585 78px,#22a785 91px,#22a884 104px,#23a983 117px,#23a983 130px,#23a983 143px,#22a785 156px,#20a486 169px,#1fa188 182px,#1fa188 195px,#1fa188 208px,#1fa287 221px,#22a884 234px,#27ad81 247px,#31b57b 260px,#3fbc73 273px,#4ac16d 286px,#52c569 299px,#54c568 312px,#2eb37c 325px,#2eb37c 325px)"></i>
<i style="left:404px;width:2px;background:linear-gradient(#22a785 0px,#23a983 13px,#24aa83 26px,#25ac82 39px,#26ad81 52px,#27ad81 65px,#28ae80 78px,#2ab07f 91px,#2cb17e 104px,#2db27d 117px,#2db27d 130px,#2db27d 143px,#29af7f 156px,#25ab82 169px,#21a685 182px,#21a685 195px,#21a685 208px,#22a785 221px,#25ac82 234px,#2ab07f 247px,#34b679 260px,#3fbc73 273px,#4ac16d 286px,#52c569 299px,#54c568 312px,#2eb37c 325px,#2eb37c 325px)"></i>
<i style="left:406px;width:2px;background:linear-gradient(#2cb17e 0px,#2eb37c 13px,#2fb47c 26px,#32b67a 39px,#34b679 52px,#34b679 65px,#35b779 78px,#35b779 91px,#37b878 104px,#37b878 117px,#37b878 130px,#37b878 143px,#32b67a 156px,#2cb17e 169px,#26ad81 182px,#26ad81 195px,#26ad81 208px,#27ad81 221px,#2ab07f 234px,#2fb47c 247px,#37b878 260px,#40bd72 273px,#4ac16d 286px,#52c569 299px,#54c568 312px,#2eb37c 325px,#2eb37c 325px)"></i>
<i style="left:408px;width:2px;background:linear-gradient(#2cb17e 0px,#2eb37c 13px,#2fb47c 26px,#32b67a 39px,#32b67a 52px,#32b67a 65px,#32b67a 78px,#32b67a 91px,#32b67a 104px,#32b67a 117px,#32b67a 130px,#32b67a 143px,#31b57b 156px,#2eb37c 169px,#2cb17e 182px,#2cb17e 195px,#2cb17e 208px,#2db27d 221px,#2fb47c 234px,#32b67a 247px,#38b977 260px,#3fbc73 273px,#46c06f 286px,#50c46a 299px,#52c569 312px,#2db27d 325px,#2db27d 325px)"></i>
<i style="left:410px;width:2px;background:linear-gradient(#22a785 0px,#23a983 13px,#24aa83 26px,#25ac82 39px,#25ac82 52px,#25ac82 65px,#25ac82 78px,#25ac82 91px,#25ac82 104px,#25ac82 117px,#25ac82 130px,#25ac82 143px,#25ac82 156px,#26ad81 169px,#26ad81 182px,#26ad81 195px,#26ad81 208px,#26ad81 221px,#29af7f 234px,#2db27d 247px,#34b679 260px,#3bbb75 273px,#42be71 286px,#4cc26c 299px,#4ec36b 312px,#2ab07f 325px,#2ab07f 325px)"></i>
<i style="left:412px;width:2px;background:linear-gradient(#1e9d89 0px,#1f9f88 13px,#1fa088 26px,#1fa187 39px,#1fa187 52px,#1fa187 65px,#1fa187 78px,#1fa187 91px,#1fa187 104px,#1fa187 117px,#1fa187 130px,#1fa187 143px,#1fa287 156px,#20a486 169px,#21a585 182px,#21a685 195px,#21a685 208px,#22a785 221px,#25ab82 234px,#28ae80 247px,#2fb47c 260px,#38b977 273px,#40bd72 286px,#48c16e 299px,#4ac16d 312px,#28ae80 325px,#28ae80 325px)"></i>
<i style="left:414px;width:2px;background:linear-gradient(#1f978b 0px,#1f998a 13px,#1f9a8a 26px,#1e9c89 39px,#1e9c89 52px,#1e9b8a 65px,#1e9b8a 78px,#1f9a8a 91px,#1f998a 104px,#1f998a 117px,#1f998a 130px,#1f998a 143px,#1e9b8a 156px,#1f9e89 169px,#1fa188 182px,#1fa188 195px,#1fa188 208px,#1fa287 221px,#22a785 234px,#25ac82 247px,#2db27d 260px,#38b977 273px,#40bd72 286px,#48c16e 299px,#4ac16d 312px,#28ae80 325px,#28ae80 325px)"></i>
<i style="left:416px;width:2px;background:linear-gradient(#1f978b 0px,#1f998a 13px,#1f9a8a 26px,#1e9c89 39px,#1e9c89 52px,#1e9b8a 65px,#1f9a8a 78px,#1f998a 91px,#1f998a 104px,#1f988b 117px,#1f988b 130px,#1f988b 143px,#1f9a8a 156px,#1f9e89 169px,#1fa188 182px,#1fa188 195px,#1fa188 208px,#1fa287 221px,#22a785 234px,#25ac82 247px,#2db27d 260px,#38b977 273px,#40bd72 286px,#48c16e 299px,#4ac16d 312px,#28ae80 325px,#28ae80 325px)"></i>
<i style="left:418px;width:2px;background:linear-gradient(#1f978b 0px,#1f998a 13px,#1f9a8a 26px,#1e9c89 39px,#1e9c89 52px,#1e9c89 65px,#1e9c89 78px,#1e9b8a 91px,#1e9b8a 104px,#1e9b8a 117px,#1e9b8a 130px,#1e9b8a 143px,#1e9d89 156px,#1f9f88 169px,#1fa188 182px,#1fa188 195px,#1fa188 208px,#1fa187 221px,#21a685 234px,#25ab82 247px,#2db27d 260px,#37b878 273px,#3fbc73 286px,#48c16e 299px,#48c16e 312px,#28ae80 325px,#28ae80 325px)"></i>
<i style="left:420px;width:2px;background:linear-gradient(#1f978b 0px,#1f998a 13px,#1f9a8a 26px,#1e9c89 39px,#1e9d89 52px,#1e9d89 65px,#1e9d89 78px,#1f9e89 91px,#1f9e89 104px,#1f9f88 117px,#1f9f88 130px,#1f9f88 143px,#1f9f88 156px,#1fa088 169px,#1fa188 182px,#1fa188 195px,#1fa188 208px,#1fa187 221px,#21a685 234px,#25ab82 247px,#2cb17e 260px,#35b779 273px,#3dbc74 286px,#44bf70 299px,#46c06f 312px,#26ad81 325px,#26ad81 325px)"></i>
<i style="left:422px;width:4px;background:linear-gradient(#1f978b 0px,#1f998a 13px,#1f9a8a 26px,#1e9c89 39px,#1e9d89 52px,#1f9e89 65px,#1f9f88 78px,#1fa088 91px,#1fa188 104px,#1fa188 117px,#1fa188 130px,#1fa188 143px,#1fa188 156px,#1fa188 169px,#1fa188 182px,#1fa188 195px,#1fa188 208px,#1fa187 221px,#21a685 234px,#24aa83 247px,#2ab07f 260px,#34b679 273px,#3bbb75 286px,#42be71 299px,#44bf70 312px,#25ac82 325px,#25ac82 325px)"></i>
<i style="left:426px;width:2px;background:linear-gradient(#1f978b 0px,#1f998a 13px,#1f9a8a 26px,#1e9c89 39px,#1e9d89 52px,#1f9e89 65px,#1f9f88 78px,#1fa088 91px,#1fa188 104px,#1fa188 117px,#1fa188 130px,#1fa188 143px,#1fa188 156px,#1fa188 169px,#1fa188 182px,#1fa188 195px,#1fa188 208px,#1fa287 221px,#22a785 234px,#25ab82 247px,#2db27d 260px,#37b878 273px,#3fbc73 286px,#48c16e 299px,#4ac16d 312px,#28ae80 325px,#28ae80 325px)"></i>
<i style="left:428px;width:2px;background:linear-gradient(#1f978b 0px,#1f998a 13px,#1f9a8a 26px,#1e9c89 39px,#1e9d89 52px,#1f9e89 65px,#1f9f88 78px,#1fa088 91px,#1fa188 104px,#1fa188 117px,#1fa188 130px,#1fa188 143px,#1fa287 156px,#21a585 169px,#22a884 182px,#22a884 195px,#22a884 208px,#23a983 221px,#26ad81 234px,#2ab07f 247px,#32b67a 260px,#3bbb75 273px,#44bf70 286px,#4ec36b 299px,#50c46a 312px,#2cb17e 325px,#2cb17e 325px)"></i>
<i style="left:430px;width:2px;background:linear-gradient(#1e9c89 0px,#1e9d89 13px,#1f9f88 26px,#1fa188 39px,#1fa187 52px,#1fa287 65px,#20a386 78px,#20a486 91px,#21a585 104px,#21a685 117px,#21a685 130px,#21a685 143px,#23a983 156px,#27ad81 169px,#2db27d 182px,#2db27d 195px,#2db27d 208px,#2eb37c 221px,#31b57b 234px,#34b679 247px,#3aba76 260px,#40bd72 273px,#4ac16d 286px,#52c569 299px,#54c568 312px,#2eb37c 325px,#2eb37c 325px)"></i>
<i style="left:432px;width:2px;background:linear-gradient(#20a486 0px,#21a685 13px,#22a785 26px,#23a983 39px,#24aa83 52px,#25ab82 65px,#25ab82 78px,#25ac82 91px,#26ad81 104px,#26ad81 117px,#26ad81 130px,#26ad81 143px,#2ab07f 156px,#31b57b 169px,#38b977 182px,#38b977 195px,#38b977 208px,#38b977 221px,#38b977 234px,#3aba76 247px,#3dbc74 260px,#42be71 273px,#4ac16d 286px,#52c569 299px,#54c568 312px,#2eb37c 325px,#2eb37c 325px)"></i>
<i style="left:434px;width:2px;background:linear-gradient(#27ad81 0px,#28ae80 13px,#2ab07f 26px,#2db27d 39px,#2db27d 52px,#2db27d 65px,#2eb37c 78px,#2eb37c 91px,#2eb37c 104px,#2fb47c 117px,#2fb47c 130px,#2fb47c 143px,#2fb47c 156px,#2fb47c 169px,#2fb47c 182px,#2fb47c 195px,#2fb47c 208px,#2fb47c 221px,#32b67a 234px,#35b779 247px,#3aba76 260px,#40bd72 273px,#4ac16d 286px,#52c569 299px,#54c568 312px,#2eb37c 325px,#2eb37c 325px)"></i>
<i style="left:436px;width:2px;background:linear-gradient(#2fb47c 0px,#32b67a 13px,#34b679 26px,#37b878 39px,#37b878 52px,#37b878 65px,#37b878 78px,#37b878 91px,#37b878 104px,#37b878 117px,#37b878 130px,#37b878 143px,#32b67a 156px,#2ab07f 169px,#25ac82 182px,#25ac82 195px,#25ac82 208px,#26ad81 221px,#2ab07f 234px,#2eb37c 247px,#37b878 260px,#40bd72 273px,#4ac16d 286px,#52c569 299px,#54c568 312px,#2eb37c 325px,#2eb37c 325px)"></i>
<i style="left:438px;width:2px;background:linear-gradient(#2fb47c 0px,#32b67a 13px,#34b679 26px,#37b878 39px,#37b878 52px,#37b878 65px,#37b878 78px,#37b878 91px,#37b878 104px,#37b878 117px,#37b878 130px,#37b878 143px,#2fb47c 156px,#26ad81 169px,#21a685 182px,#21a685 195px,#21a685 208px,#22a785 221px,#25ac82 234px,#2ab07f 247px,#34b679 260px,#3fbc73 273px,#4ac16d 286px,#52c569 299px,#54c568 312px,#2eb37c 325px,#2eb37c 325px)"></i>
<i style="left:440px;width:2px;background:linear-gradient(#27ad81 0px,#28ae80 13px,#2ab07f 26px,#2db27d 39px,#2db27d 52px,#2db27d 65px,#2db27d 78px,#2db27d 91px,#2db27d 104px,#2db27d 117px,#2db27d 130px,#2db27d 143px,#29af7f 156px,#25ab82 169px,#21a685 182px,#21a685 195px,#21a685 208px,#22a785 221px,#25ab82 234px,#29af7f 247px,#31b57b 260px,#3bbb75 273px,#44bf70 286px,#4ec36b 299px,#50c46a 312px,#2cb17e 325px,#2cb17e 325px)"></i>
<i style="left:442px;width:2px;background:linear-gradient(#20a486 0px,#21a685 13px,#22a785 26px,#23a983 39px,#23a983 52px,#23a983 65px,#23a983 78px,#23a983 91px,#23a983 104px,#23a983 117px,#23a983 130px,#23a983 143px,#22a884 156px,#22a785 169px,#21a685 182px,#21a685 195px,#21a685 208px,#21a685 221px,#23a983 234px,#25ab82 247px,#29af7f 260px,#2fb47c 273px,#35b779 286px,#3dbc74 299px,#3dbc74 312px,#23a983 325px,#23a983 325px)"></i>
<i style="left:444px;width:2px;background:linear-gradient(#1e9c89 0px,#1e9d89 13px,#1f9f88 26px,#1fa188 39px,#1fa188 52px,#1fa188 65px,#1fa188 78px,#1fa188 91px,#1fa188 104px,#1fa188 117px,#1fa188 130px,#1fa188 143px,#1fa187 156px,#20a486 169px,#21a685 182px,#21a685 195px,#21a685 208px,#21a685 221px,#22a785 234px,#23a983 247px,#25ac82 260px,#28ae80 273px,#2db27d 286px,#34b679 299px,#35b779 312px,#20a386 325px,#20a386 325px)"></i>
<i style="left:446px;width:2px;background:linear-gradient(#1f978b 0px,#1f998a 13px,#1f9a8a 26px,#1e9c89 39px,#1e9c89 52px,#1e9c89 65px,#1e9b8a 78px,#1e9b8a 91px,#1f9a8a 104px,#1f9a8a 117px,#1f9a8a 130px,#1f9a8a 143px,#1e9d89 156px,#1fa287 169px,#22a785 182px,#22a785 195px,#22a785 208px,#22a884 221px,#25ab82 234px,#28ae80 247px,#2eb37c 260px,#37b878 273px,#3dbc74 286px,#46c06f 299px,#48c16e 312px,#27ad81 325px,#27ad81 325px)"></i>
<i style="left:448px;width:2px;background:linear-gradient(#1f978b 0px,#1f998a 13px,#1f9a8a 26px,#1e9c89 39px,#1e9c89 52px,#1e9c89 65px,#1e9b8a 78px,#1e9b8a 91px,#1f9a8a 104px,#1f9a8a 117px,#1f9a8a 130px,#1f9a8a 143px,#1f9e89 156px,#20a386 169px,#23a983 182px,#23a983 195px,#23a983 208px,#24aa83 221px,#29af7f 234px,#31b57b 247px,#3dbc74 260px,#4cc26c 273px,#58c765 286px,#60ca60 299px,#63cb5f 312px,#38b977 325px,#38b977 325px)"></i>
<i style="left:450px;width:2px;background:linear-gradient(#1f978b 0px,#1f998a 13px,#1f9a8a 26px,#1e9c89 39px,#1e9c89 52px,#1e9c89 65px,#1e9b8a 78px,#1e9b8a 91px,#1f9a8a 104px,#1f9a8a 117px,#1f9a8a 130px,#1f9a8a 143px,#1f9e89 156px,#20a386 169px,#23a983 182px,#23a983 195px,#23a983 208px,#25ab82 221px,#2ab07f 234px,#34b679 247px,#42be71 260px,#52c569 273px,#5ec962 286px,#69cd5b 299px,#6ccd5a 312px,#3fbc73 325px,#3fbc73 325px)"></i>
<i style="left:452px;width:2px;background:linear-gradient(#1f988b 0px,#1f9a8a 13px,#1e9c89 26px,#1e9d89 39px,#1e9d89 52px,#1e9d89 65px,#1e9d89 78px,#1e9d89 91px,#1e9c89 104px,#1e9c89 117px,#1e9c89 130px,#1e9c89 143px,#1fa088 156px,#20a486 169px,#23a983 182px,#23a983 195px,#23a983 208px,#25ab82 221px,#2ab07f 234px,#34b679 247px,#42be71 260px,#52c569 273px,#5ec962 286px,#69cd5b 299px,#6ccd5a 312px,#3fbc73 325px,#3fbc73 325px)"></i>
<i style="left:454px;width:2px;background:linear-gradient(#1fa188 0px,#1fa187 13px,#20a386 26px,#20a486 39px,#21a585 52px,#21a585 65px,#21a585 78px,#21a585 91px,#21a585 104px,#21a585 117px,#21a585 130px,#21a585 143px,#21a685 156px,#22a785 169px,#23a983 182px,#23a983 195px,#23a983 208px,#25ab82 221px,#2ab07f 234px,#34b679 247px,#42be71 260px,#52c569 273px,#5ec962 286px,#69cd5b 299px,#6ccd5a 312px,#3fbc73 325px,#3fbc73 325px)"></i>
<i style="left:456px;width:2px;background:linear-gradient(#23a983 0px,#25ab82 13px,#25ac82 26px,#27ad81 39px,#27ad81 52px,#27ad81 65px,#27ad81 78px,#27ad81 91px,#27ad81 104px,#27ad81 117px,#27ad81 130px,#27ad81 143px,#25ac82 156px,#24aa83 169px,#22a785 182px,#22a785 195px,#22a785 208px,#23a983 221px,#29af7f 234px,#32b67a 247px,#40bd72 260px,#52c569 273px,#5ec962 286px,#69cd5b 299px,#6ccd5a 312px,#3fbc73 325px,#3fbc73 325px)"></i>
<i style="left:458px;width:2px;background:linear-gradient(#2db27d 0px,#2eb37c 13px,#31b57b 26px,#32b67a 39px,#34b679 52px,#34b679 65px,#34b679 78px,#34b679 91px,#34b679 104px,#34b679 117px,#34b679 130px,#34b679 143px,#2db27d 156px,#26ad81 169px,#21a685 182px,#21a685 195px,#21a685 208px,#22a884 221px,#28ae80 234px,#2fb47c 247px,#3dbc74 260px,#4ec36b 273px,#5ac864 286px,#65cb5e 299px,#67cc5c 312px,#3bbb75 325px,#3bbb75 325px)"></i>
<i style="left:460px;width:2px;background:linear-gradient(#2fb47c 0px,#32b67a 13px,#34b679 26px,#37b878 39px,#37b878 52px,#37b878 65px,#37b878 78px,#37b878 91px,#37b878 104px,#37b878 117px,#37b878 130px,#37b878 143px,#2fb47c 156px,#26ad81 169px,#21a685 182px,#21a685 195px,#21a685 208px,#22a785 221px,#25ac82 234px,#2ab07f 247px,#34b679 260px,#3fbc73 273px,#4ac16d 286px,#52c569 299px,#54c568 312px,#2eb37c 325px,#2eb37c 325px)"></i>
<i style="left:462px;width:2px;background:linear-gradient(#2fb47c 0px,#32b67a 13px,#34b679 26px,#37b878 39px,#37b878 52px,#37b878 65px,#37b878 78px,#37b878 91px,#37b878 104px,#37b878 117px,#37b878 130px,#37b878 143px,#2fb47c 156px,#26ad81 169px,#21a685 182px,#21a685 195px,#21a685 208px,#21a685 221px,#24aa83 234px,#26ad81 247px,#2cb17e 260px,#32b67a 273px,#3aba76 286px,#40bd72 299px,#42be71 312px,#25ab82 325px,#25ab82 325px)"></i>
<i style="left:464px;width:2px;background:linear-gradient(#26ad81 0px,#27ad81 13px,#29af7f 26px,#2ab07f 39px,#2cb17e 52px,#2cb17e 65px,#2cb17e 78px,#2cb17e 91px,#2cb17e 104px,#2cb17e 117px,#2cb17e 130px,#2cb17e 143px,#28ae80 156px,#24aa83 169px,#21a585 182px,#21a585 195px,#21a585 208px,#21a685 221px,#23a983 234px,#25ab82 247px,#29af7f 260px,#2fb47c 273px,#37b878 286px,#3dbc74 299px,#3fbc73 312px,#23a983 325px,#23a983 325px)"></i>
<i style="left:466px;width:2px;background:linear-gradient(#1fa287 0px,#20a386 13px,#21a585 26px,#22a785 39px,#22a785 52px,#22a785 65px,#22a785 78px,#22a785 91px,#22a785 104px,#22a785 117px,#22a785 130px,#22a785 143px,#21a685 156px,#20a486 169px,#20a386 182px,#20a386 195px,#20a386 208px,#20a486 221px,#22a785 234px,#24aa83 247px,#29af7f 260px,#2fb47c 273px,#37b878 286px,#3fbc73 299px,#40bd72 312px,#24aa83 325px,#24aa83 325px)"></i>
<i style="left:468px;width:2px;background:linear-gradient(#1f998a 0px,#1f9a8a 13px,#1e9c89 26px,#1f9e89 39px,#1f9e89 52px,#1f9e89 65px,#1e9d89 78px,#1e9d89 91px,#1e9d89 104px,#1e9d89 117px,#1e9d89 130px,#1e9d89 143px,#1f9e89 156px,#1fa088 169px,#1fa187 182px,#1fa187 195px,#1fa187 208px,#1fa287 221px,#21a685 234px,#24aa83 247px,#29af7f 260px,#31b57b 273px,#38b977 286px,#40bd72 299px,#42be71 312px,#25ab82 325px,#25ab82 325px)"></i>
<i style="left:470px;width:2px;background:linear-gradient(#1f978b 0px,#1f998a 13px,#1f9a8a 26px,#1e9c89 39px,#1e9c89 52px,#1e9b8a 65px,#1f9a8a 78px,#1f998a 91px,#1f988b 104px,#1f978b 117px,#1f978b 130px,#1f978b 143px,#1f9a8a 156px,#1e9d89 169px,#1fa188 182px,#1fa188 195px,#1fa188 208px,#1fa187 221px,#21a685 234px,#24aa83 247px,#2ab07f 260px,#32b67a 273px,#3bbb75 286px,#42be71 299px,#44bf70 312px,#25ac82 325px,#25ac82 325px)"></i>
<i style="left:472px;width:2px;background:linear-gradient(#1f998a 0px,#1f9a8a 13px,#1e9c89 26px,#1f9e89 39px,#1f9e89 52px,#1f9e89 65px,#1f9e89 78px,#1f9e89 91px,#1e9d89 104px,#1e9d89 117px,#1e9d89 130px,#1e9d89 143px,#1f9e89 156px,#1fa088 169px,#1fa188 182px,#1fa188 195px,#1fa188 208px,#1fa187 221px,#21a685 234px,#24aa83 247px,#2ab07f 260px,#34b679 273px,#3bbb75 286px,#42be71 299px,#44bf70 312px,#25ac82 325px,#25ac82 325px)"></i>
<i style="left:474px;width:2px;background:linear-gradient(#1fa287 0px,#20a386 13px,#21a585 26px,#22a785 39px,#22a785 52px,#22a785 65px,#22a785 78px,#22a884 91px,#22a884 104px,#22a884 117px,#22a884 130px,#22a884 143px,#21a685 156px,#20a386 169px,#1fa188 182px,#1fa188 195px,#1fa188 208px,#1fa187 221px,#21a685 234px,#24aa83 247px,#2ab07f 260px,#34b679 273px,#3bbb75 286px,#42be71 299px,#44bf70 312px,#25ac82 325px,#25ac82 325px)"></i>
<i style="left:476px;width:2px;background:linear-gradient(#26ad81 0px,#27ad81 13px,#29af7f 26px,#2ab07f 39px,#2cb17e 52px,#2cb17e 65px,#2db27d 78px,#2db27d 91px,#2db27d 104px,#2eb37c 117px,#2eb37c 130px,#2eb37c 143px,#28ae80 156px,#22a884 169px,#1fa188 182px,#1fa188 195px,#1fa188 208px,#1fa187 221px,#21a685 234px,#24aa83 247px,#2ab07f 260px,#34b679 273px,#3bbb75 286px,#42be71 299px,#44bf70 312px,#25ac82 325px,#25ac82 325px)"></i>
<i style="left:478px;width:2px;background:linear-gradient(#2fb47c 0px,#32b67a 13px,#34b679 26px,#37b878 39px,#37b878 52px,#38b977 65px,#38b977 78px,#3aba76 91px,#3aba76 104px,#3bbb75 117px,#3bbb75 130px,#3bbb75 143px,#31b57b 156px,#25ab82 169px,#1fa187 182px,#1fa188 195px,#1fa188 208px,#1fa187 221px,#21a685 234px,#24aa83 247px,#2ab07f 260px,#34b679 273px,#3bbb75 286px,#42be71 299px,#44bf70 312px,#25ac82 325px,#25ac82 325px)"></i>
<i style="left:480px;width:2px;background:linear-gradient(#2cb17e 0px,#2eb37c 13px,#2fb47c 26px,#32b67a 39px,#34b679 52px,#34b679 65px,#35b779 78px,#35b779 91px,#37b878 104px,#37b878 117px,#37b878 130px,#37b878 143px,#2fb47c 156px,#26ad81 169px,#21a685 182px,#21a685 195px,#21a685 208px,#22a785 221px,#25ab82 234px,#28ae80 247px,#2fb47c 260px,#3aba76 273px,#42be71 286px,#4ac16d 299px,#4cc26c 312px,#29af7f 325px,#29af7f 325px)"></i>
<i style="left:482px;width:2px;background:linear-gradient(#22a785 0px,#23a983 13px,#24aa83 26px,#25ac82 39px,#26ad81 52px,#26ad81 65px,#27ad81 78px,#28ae80 91px,#28ae80 104px,#29af7f 117px,#29af7f 130px,#29af7f 143px,#28ae80 156px,#27ad81 169px,#26ad81 182px,#26ad81 195px,#26ad81 208px,#27ad81 221px,#2ab07f 234px,#2fb47c 247px,#38b977 260px,#42be71 273px,#4cc26c 286px,#54c568 299px,#56c667 312px,#2fb47c 325px,#2fb47c 325px)"></i>
<i style="left:484px;width:2px;background:linear-gradient(#1e9d89 0px,#1f9f88 13px,#1fa088 26px,#1fa187 39px,#1fa287 52px,#20a386 65px,#20a386 78px,#20a486 91px,#21a585 104px,#21a685 117px,#21a685 130px,#21a685 143px,#23a983 156px,#26ad81 169px,#2cb17e 182px,#2cb17e 195px,#2cb17e 208px,#2db27d 221px,#31b57b 234px,#37b878 247px,#3fbc73 260px,#48c16e 273px,#52c569 286px,#5cc863 299px,#5ec962 312px,#35b779 325px,#35b779 325px)"></i>
<i style="left:486px;width:2px;background:linear-gradient(#1f978b 0px,#1f998a 13px,#1f9a8a 26px,#1e9c89 39px,#1e9c89 52px,#1e9c89 65px,#1e9c89 78px,#1e9c89 91px,#1e9c89 104px,#1e9c89 117px,#1e9c89 130px,#1e9c89 143px,#1fa187 156px,#23a983 169px,#2cb17e 182px,#2cb17e 195px,#2cb17e 208px,#2db27d 221px,#31b57b 234px,#37b878 247px,#3fbc73 260px,#48c16e 273px,#52c569 286px,#5cc863 299px,#5ec962 312px,#35b779 325px,#35b779 325px)"></i>
<i style="left:488px;width:4px;background:linear-gradient(#1f978b 0px,#1f998a 13px,#1f9a8a 26px,#1e9c89 39px,#1e9c89 52px,#1e9c89 65px,#1e9b8a 78px,#1e9b8a 91px,#1f9a8a 104px,#1f9a8a 117px,#1f9a8a 130px,#1f9a8a 143px,#1fa088 156px,#22a884 169px,#2cb17e 182px,#2cb17e 195px,#2cb17e 208px,#2db27d 221px,#31b57b 234px,#37b878 247px,#3fbc73 260px,#48c16e 273px,#52c569 286px,#5cc863 299px,#5ec962 312px,#35b779 325px,#35b779 325px)"></i>
<i style="left:492px;width:2px;background:linear-gradient(#1f978b 0px,#1f998a 13px,#1f9a8a 26px,#1e9c89 39px,#1e9c89 52px,#1e9c89 65px,#1e9b8a 78px,#1e9b8a 91px,#1e9b8a 104px,#1f9a8a 117px,#1f9a8a 130px,#1f9a8a 143px,#1fa088 156px,#23a983 169px,#2cb17e 182px,#2cb17e 195px,#2cb17e 208px,#2db27d 221px,#31b57b 234px,#37b878 247px,#3fbc73 260px,#48c16e 273px,#52c569 286px,#5cc863 299px,#5ec962 312px,#35b779 325px,#35b779 325px)"></i>
<i style="left:494px;width:2px;background:linear-gradient(#1f978b 0px,#1f998a 13px,#1f9a8a 26px,#1e9c89 39px,#1e9c89 52px,#1e9c89 65px,#1e9c89 78px,#1e9c89 91px,#1e9c89 104px,#1e9c89 117px,#1e9c89 130px,#1e9c89 143px,#1fa088 156px,#20a486 169px,#24aa83 182px,#24aa83 195px,#24aa83 208px,#25ab82 221px,#29af7f 234px,#2fb47c 247px,#3bbb75 260px,#48c16e 273px,#52c569 286px,#5cc863 299px,#5ec962 312px,#35b779 325px,#35b779 325px)"></i>
<i style="left:496px;width:2px;background:linear-gradient(#1f978b 0px,#1f998a 13px,#1f9a8a 26px,#1e9c89 39px,#1e9d89 52px,#1e9d89 65px,#1e9d89 78px,#1f9e89 91px,#1f9e89 104px,#1f9f88 117px,#1f9f88 130px,#1f9f88 143px,#1f9f88 156px,#1fa088 169px,#1fa088 182px,#1fa088 195px,#1fa088 208px,#1fa187 221px,#21a685 234px,#25ac82 247px,#2eb37c 260px,#38b977 273px,#42be71 286px,#4ac16d 299px,#4cc26c 312px,#29af7f 325px,#29af7f 325px)"></i>
<i style="left:498px;width:2px;background:linear-gradient(#1f978b 0px,#1f998a 13px,#1f9a8a 26px,#1e9c89 39px,#1e9c89 52px,#1e9c89 65px,#1e9c89 78px,#1e9c89 91px,#1e9c89 104px,#1e9b8a 117px,#1e9b8a 130px,#1e9b8a 143px,#1e9b8a 156px,#1f998a 169px,#1f988b 182px,#1f988b 195px,#1f988b 208px,#1f9a8a 221px,#1f9e89 234px,#1fa287 247px,#23a983 260px,#29af7f 273px,#31b57b 286px,#37b878 299px,#38b977 312px,#21a585 325px,#21a585 325px)"></i>
<i style="left:500px;width:2px;background:linear-gradient(#228d8d 0px,#218f8d 13px,#21918c 26px,#20928c 39px,#20928c 52px,#20928c 65px,#20928c 78px,#20928c 91px,#20928c 104px,#20928c 117px,#20928c 130px,#20928c 143px,#21918c 156px,#21908d 169px,#218e8d 182px,#218e8d 195px,#218e8d 208px,#218f8d 221px,#21908d 234px,#21918c 247px,#20938c 260px,#1f968b 273px,#1f9a8a 286px,#1f9e89 299px,#1f9f88 312px,#238a8d 325px,#238a8d 325px)"></i>
<i style="left:502px;width:2px;background:linear-gradient(#2a778e 0px,#297a8e 13px,#297b8e 26px,#287d8e 39px,#277e8e 52px,#277f8e 65px,#277f8e 78px,#27808e 91px,#26818e 104px,#26818e 117px,#26818e 130px,#26828e 143px,#26818e 156px,#27808e 169px,#277f8e 182px,#277f8e 195px,#277f8e 208px,#277f8e 221px,#287d8e 234px,#287c8e 247px,#287d8e 260px,#277e8e 273px,#27808e 286px,#25838e 299px,#25858e 312px,#2c738e 325px,#2c738e 325px)"></i>
<i style="left:504px;width:2px;background:linear-gradient(#355f8d 0px,#31668e 13px,#30698e 26px,#2f6c8e 39px,#2e6e8e 52px,#2e6e8e 65px,#2e6f8e 78px,#2d708e 91px,#2d718e 104px,#2c728e 117px,#2c738e 130px,#2b748e 143px,#2b758e 156px,#2b758e 169px,#2a768e 182px,#2a778e 195px,#2a778e 208px,#2a788e 221px,#2a788e 234px,#2a788e 247px,#2a788e 260px,#29798e 273px,#297a8e 286px,#287c8e 299px,#277f8e 312px,#297b8e 325px,#297b8e 325px)"></i>
<i style="left:506px;width:32px;background:linear-gradient(#39558c 0px,#355f8d 13px,#33628d 26px,#31668e 39px,#30698e 52px,#306a8e 65px,#2f6b8e 78px,#2f6c8e 91px,#2e6d8e 104px,#2e6f8e 117px,#2d718e 130px,#2c718e 143px,#2c738e 156px,#2b748e 169px,#2a768e 182px,#2a778e 195px,#2a788e 208px,#29798e 221px,#297a8e 234px,#297a8e 247px,#297b8e 260px,#287c8e 273px,#287c8e 286px,#287d8e 299px,#26818e 312px,#25848e 325px,#25848e 325px)"></i>
<i style="left:538px;width:2px;background:linear-gradient(#38588c 0px,#34618d 13px,#32648e 26px,#31678e 39px,#306a8e 52px,#2f6b8e 65px,#2f6c8e 78px,#2e6d8e 91px,#2e6f8e 104px,#2d708e 117px,#2c718e 130px,#2c728e 143px,#2c738e 156px,#2b758e 169px,#2a768e 182px,#2a778e 195px,#2a788e 208px,#2a788e 221px,#29798e 234px,#29798e 247px,#297a8e 260px,#297b8e 273px,#287c8e 286px,#287d8e 299px,#27808e 312px,#26828e 325px,#26828e 325px)"></i>
<i style="left:540px;width:2px;background:linear-gradient(#31668e 0px,#2f6c8e 13px,#2e6e8e 26px,#2d718e 39px,#2c718e 52px,#2c728e 65px,#2c738e 78px,#2b748e 91px,#2b758e 104px,#2a768e 117px,#2a778e 130px,#2a778e 143px,#2a788e 156px,#2a788e 169px,#29798e 182px,#29798e 195px,#297a8e 208px,#297a8e 221px,#29798e 234px,#2a788e 247px,#2a788e 260px,#29798e 273px,#297b8e 286px,#287d8e 299px,#27808e 312px,#2a768e 325px,#2a768e 325px)"></i>
<i style="left:542px;width:2px;background:linear-gradient(#29798e 0px,#287c8e 13px,#277e8e 26px,#277f8e 39px,#27808e 52px,#27808e 65px,#26818e 78px,#26818e 91px,#26818e 104px,#26818e 117px,#26818e 130px,#26828e 143px,#26818e 156px,#26818e 169px,#26818e 182px,#26818e 195px,#26818e 208px,#27808e 221px,#277e8e 234px,#297b8e 247px,#297b8e 260px,#297a8e 273px,#287d8e 286px,#26818e 299px,#26828e 312px,#2d708e 325px,#2d708e 325px)"></i>
<i style="left:544px;width:6px;background:linear-gradient(#26828e 0px,#25838e 13px,#25848e 26px,#24868e 39px,#24868e 52px,#24868e 65px,#24868e 78px,#24868e 91px,#24868e 104px,#24868e 117px,#24868e 130px,#24868e 143px,#24868e 156px,#24868e 169px,#24868e 182px,#24868e 195px,#24868e 208px,#25858e 221px,#26828e 234px,#27808e 247px,#277f8e 260px,#287d8e 273px,#27808e 286px,#25838e 299px,#25848e 312px,#2d708e 325px,#2d708e 325px)"></i>
<i style="left:550px;width:2px;background:linear-gradient(#25848e 0px,#25858e 13px,#24878e 26px,#23898e 39px,#23898e 52px,#23898e 65px,#23898e 78px,#23898e 91px,#23898e 104px,#23898e 117px,#23898e 130px,#23898e 143px,#23888e 156px,#24878e 169px,#24868e 182px,#24868e 195px,#24868e 208px,#25858e 221px,#26828e 234px,#27808e 247px,#277f8e 260px,#287d8e 273px,#27808e 286px,#25838e 299px,#25848e 312px,#2d708e 325px,#2d708e 325px)"></i>
<i style="left:552px;width:2px;background:linear-gradient(#1f978b 0px,#1f998a 13px,#1f9a8a 26px,#1e9c89 39px,#1e9c89 52px,#1e9b8a 65px,#1e9b8a 78px,#1e9b8a 91px,#1f9a8a 104px,#1f9a8a 117px,#1f9a8a 130px,#1f9a8a 143px,#1f9a8a 156px,#1e9b8a 169px,#1e9d89 182px,#1e9d89 195px,#1e9d89 208px,#1e9d89 221px,#1fa088 234px,#1fa187 247px,#21a585 260px,#24aa83 273px,#27ad81 286px,#2db27d 299px,#2eb37c 312px,#1f9f88 325px,#1f9f88 325px)"></i>
<i style="left:554px;width:2px;background:linear-gradient(#1e9c89 0px,#1f9e89 13px,#1fa088 26px,#1fa188 39px,#1fa187 52px,#1fa187 65px,#1fa287 78px,#20a386 91px,#20a386 104px,#20a486 117px,#20a486 130px,#20a486 143px,#22a785 156px,#25ab82 169px,#29af7f 182px,#29af7f 195px,#29af7f 208px,#29af7f 221px,#2db27d 234px,#31b57b 247px,#37b878 260px,#3fbc73 273px,#48c16e 286px,#50c46a 299px,#52c569 312px,#2db27d 325px,#2db27d 325px)"></i>
<i style="left:556px;width:2px;background:linear-gradient(#21a685 0px,#22a785 13px,#23a983 26px,#24aa83 39px,#25ab82 52px,#25ac82 65px,#26ad81 78px,#27ad81 91px,#28ae80 104px,#28ae80 117px,#28ae80 130px,#28ae80 143px,#2eb37c 156px,#3aba76 169px,#48c16e 182px,#48c16e 195px,#48c16e 208px,#48c16e 221px,#4cc26c 234px,#50c46a 247px,#58c765 260px,#60ca60 273px,#69cd5b 286px,#73d056 299px,#75d054 312px,#46c06f 325px,#46c06f 325px)"></i>
<i style="left:558px;width:2px;background:linear-gradient(#22a785 0px,#22a884 13px,#24aa83 26px,#25ab82 39px,#25ac82 52px,#26ad81 65px,#27ad81 78px,#28ae80 91px,#29af7f 104px,#29af7f 117px,#2ab07f 130px,#2ab07f 143px,#31b57b 156px,#3fbc73 169px,#52c569 182px,#52c569 195px,#52c569 208px,#52c569 221px,#54c568 234px,#54c568 247px,#5ac864 260px,#60ca60 273px,#69cd5b 286px,#73d056 299px,#75d054 312px,#46c06f 325px,#46c06f 325px)"></i>
<i style="left:560px;width:2px;background:linear-gradient(#1fa187 0px,#1fa287 13px,#20a486 26px,#21a685 39px,#21a685 52px,#22a785 65px,#22a785 78px,#22a884 91px,#23a983 104px,#23a983 117px,#23a983 130px,#23a983 143px,#2ab07f 156px,#3bbb75 169px,#50c46a 182px,#52c569 195px,#52c569 208px,#52c569 221px,#54c568 234px,#54c568 247px,#5ac864 260px,#60ca60 273px,#69cd5b 286px,#73d056 299px,#75d054 312px,#46c06f 325px,#46c06f 325px)"></i>
<i style="left:562px;width:2px;background:linear-gradient(#1e9c89 0px,#1f9e89 13px,#1f9f88 26px,#1fa188 39px,#1fa188 52px,#1fa187 65px,#1fa187 78px,#1fa187 91px,#1fa287 104px,#1fa287 117px,#1fa287 130px,#1fa287 143px,#24aa83 156px,#2fb47c 169px,#42be71 182px,#42be71 195px,#42be71 208px,#44bf70 221px,#48c16e 234px,#4ec36b 247px,#56c667 260px,#5ec962 273px,#69cd5b 286px,#73d056 299px,#75d054 312px,#46c06f 325px,#46c06f 325px)"></i>
<i style="left:564px;width:2px;background:linear-gradient(#1f978b 0px,#1f998a 13px,#1e9b8a 26px,#1e9c89 39px,#1e9c89 52px,#1e9c89 65px,#1e9c89 78px,#1e9c89 91px,#1e9c89 104px,#1e9c89 117px,#1e9c89 130px,#1e9c89 143px,#1fa287 156px,#25ac82 169px,#32b67a 182px,#32b67a 195px,#32b67a 208px,#35b779 221px,#3bbb75 234px,#42be71 247px,#50c46a 260px,#5ec962 273px,#69cd5b 286px,#73d056 299px,#75d054 312px,#46c06f 325px,#46c06f 325px)"></i>
<i style="left:566px;width:2px;background:linear-gradient(#1f978b 0px,#1f998a 13px,#1f9a8a 26px,#1e9c89 39px,#1e9c89 52px,#1e9c89 65px,#1e9b8a 78px,#1e9b8a 91px,#1f9a8a 104px,#1f9a8a 117px,#1f9a8a 130px,#1f9a8a 143px,#1f9f88 156px,#22a785 169px,#28ae80 182px,#29af7f 195px,#29af7f 208px,#2ab07f 221px,#34b679 234px,#3dbc74 247px,#4cc26c 260px,#5cc863 273px,#69cd5b 286px,#73d056 299px,#75d054 312px,#46c06f 325px,#46c06f 325px)"></i>
<i style="left:568px;width:2px;background:linear-gradient(#1e9c89 0px,#1e9d89 13px,#1f9f88 26px,#1fa188 39px,#1fa188 52px,#1fa088 65px,#1fa088 78px,#1fa088 91px,#1fa088 104px,#1f9f88 117px,#1f9f88 130px,#1f9f88 143px,#20a486 156px,#26ad81 169px,#31b57b 182px,#31b57b 195px,#31b57b 208px,#32b67a 221px,#3aba76 234px,#42be71 247px,#50c46a 260px,#5ec962 273px,#69cd5b 286px,#73d056 299px,#75d054 312px,#46c06f 325px,#46c06f 325px)"></i>
<i style="left:570px;width:2px;background:linear-gradient(#20a486 0px,#21a685 13px,#22a785 26px,#23a983 39px,#23a983 52px,#22a884 65px,#22a884 78px,#22a785 91px,#21a685 104px,#21a685 117px,#21a685 130px,#21a685 143px,#25ac82 156px,#2fb47c 169px,#3dbc74 182px,#3fbc73 195px,#3fbc73 208px,#40bd72 221px,#44bf70 234px,#4ac16d 247px,#54c568 260px,#5ec962 273px,#69cd5b 286px,#73d056 299px,#75d054 312px,#46c06f 325px,#46c06f 325px)"></i>
<i style="left:572px;width:2px;background:linear-gradient(#27ad81 0px,#28ae80 13px,#2ab07f 26px,#2db27d 39px,#2cb17e 52px,#2ab07f 65px,#29af7f 78px,#28ae80 91px,#27ad81 104px,#26ad81 117px,#26ad81 130px,#26ad81 143px,#2db27d 156px,#3aba76 169px,#4ac16d 182px,#4ac16d 195px,#4ac16d 208px,#4cc26c 221px,#4ec36b 234px,#52c569 247px,#58c765 260px,#60ca60 273px,#69cd5b 286px,#73d056 299px,#75d054 312px,#46c06f 325px,#46c06f 325px)"></i>
<i style="left:574px;width:6px;background:linear-gradient(#2fb47c 0px,#32b67a 13px,#34b679 26px,#37b878 39px,#35b779 52px,#34b679 65px,#31b57b 78px,#2fb47c 91px,#2eb37c 104px,#2cb17e 117px,#2cb17e 130px,#2cb17e 143px,#32b67a 156px,#3dbc74 169px,#4ac16d 182px,#4ac16d 195px,#4ac16d 208px,#4cc26c 221px,#4ec36b 234px,#52c569 247px,#58c765 260px,#60ca60 273px,#69cd5b 286px,#73d056 299px,#75d054 312px,#46c06f 325px,#46c06f 325px)"></i>
<i style="left:580px;width:2px;background:linear-gradient(#26ad81 0px,#27ad81 13px,#29af7f 26px,#2ab07f 39px,#2ab07f 52px,#29af7f 65px,#28ae80 78px,#27ad81 91px,#26ad81 104px,#25ac82 117px,#25ac82 130px,#25ac82 143px,#2cb17e 156px,#37b878 169px,#46c06f 182px,#46c06f 195px,#46c06f 208px,#48c16e 221px,#4cc26c 234px,#50c46a 247px,#58c765 260px,#60ca60 273px,#69cd5b 286px,#73d056 299px,#75d054 312px,#46c06f 325px,#46c06f 325px)"></i>
<i style="left:582px;width:2px;background:linear-gradient(#20a486 0px,#21a585 13px,#22a785 26px,#22a884 39px,#22a884 52px,#22a785 65px,#22a785 78px,#21a685 91px,#21a585 104px,#21a585 117px,#21a585 130px,#21a585 143px,#25ab82 156px,#2db27d 169px,#3aba76 182px,#3aba76 195px,#3aba76 208px,#3bbb75 221px,#42be71 234px,#48c16e 247px,#54c568 260px,#5ec962 273px,#69cd5b 286px,#73d056 299px,#75d054 312px,#46c06f 325px,#46c06f 325px)"></i>
<i style="left:584px;width:2px;background:linear-gradient(#1fa188 0px,#1fa287 13px,#20a386 26px,#21a585 39px,#21a585 52px,#20a486 65px,#20a486 78px,#20a486 91px,#20a486 104px,#20a386 117px,#20a386 130px,#20a386 143px,#22a884 156px,#27ad81 169px,#2fb47c 182px,#2fb47c 195px,#2fb47c 208px,#31b57b 221px,#38b977 234px,#40bd72 247px,#4ec36b 260px,#5ec962 273px,#69cd5b 286px,#73d056 299px,#75d054 312px,#46c06f 325px,#46c06f 325px)"></i>
<i style="left:586px;width:2px;background:linear-gradient(#1fa088 0px,#1fa187 13px,#1fa287 26px,#20a486 39px,#20a486 52px,#20a486 65px,#20a486 78px,#20a486 91px,#20a486 104px,#20a486 117px,#20a486 130px,#20a486 143px,#22a884 156px,#26ad81 169px,#2db27d 182px,#2db27d 195px,#2db27d 208px,#2fb47c 221px,#35b779 234px,#3dbc74 247px,#4ac16d 260px,#58c765 273px,#65cb5e 286px,#6ece58 299px,#70cf57 312px,#42be71 325px,#42be71 325px)"></i>
<i style="left:588px;width:2px;background:linear-gradient(#21a685 0px,#22a884 13px,#24aa83 26px,#25ab82 39px,#25ab82 52px,#25ab82 65px,#25ab82 78px,#25ab82 91px,#25ab82 104px,#25ab82 117px,#25ab82 130px,#25ab82 143px,#26ad81 156px,#29af7f 169px,#2db27d 182px,#2db27d 195px,#2db27d 208px,#2eb37c 221px,#32b67a 234px,#37b878 247px,#3fbc73 260px,#48c16e 273px,#50c46a 286px,#5ac864 299px,#5cc863 312px,#34b679 325px,#34b679 325px)"></i>
<i style="left:590px;width:2px;background:linear-gradient(#22a884 0px,#24aa83 13px,#25ab82 26px,#26ad81 39px,#26ad81 52px,#27ad81 65px,#27ad81 78px,#27ad81 91px,#27ad81 104px,#28ae80 117px,#28ae80 130px,#28ae80 143px,#29af7f 156px,#2cb17e 169px,#2db27d 182px,#2db27d 195px,#2db27d 208px,#2eb37c 221px,#2eb37c 234px,#2fb47c 247px,#34b679 260px,#38b977 273px,#3fbc73 286px,#48c16e 299px,#4ac16d 312px,#28ae80 325px,#28ae80 325px)"></i>
<i style="left:592px;width:2px;background:linear-gradient(#2db27d 0px,#2fb47c 13px,#31b57b 26px,#34b679 39px,#35b779 52px,#35b779 65px,#37b878 78px,#38b977 91px,#38b977 104px,#3aba76 117px,#3aba76 130px,#3aba76 143px,#37b878 156px,#31b57b 169px,#2db27d 182px,#2db27d 195px,#2db27d 208px,#2db27d 221px,#2eb37c 234px,#2eb37c 247px,#31b57b 260px,#35b779 273px,#3bbb75 286px,#42be71 299px,#44bf70 312px,#25ac82 325px,#25ac82 325px)"></i>
<i style="left:594px;width:2px;background:linear-gradient(#3dbc74 0px,#40bd72 13px,#42be71 26px,#46c06f 39px,#48c16e 52px,#4ac16d 65px,#4cc26c 78px,#4ec36b 91px,#50c46a 104px,#52c569 117px,#52c569 130px,#52c569 143px,#46c06f 156px,#38b977 169px,#2cb17e 182px,#2cb17e 195px,#2cb17e 208px,#2cb17e 221px,#2cb17e 234px,#2db27d 247px,#31b57b 260px,#35b779 273px,#3bbb75 286px,#42be71 299px,#44bf70 312px,#25ac82 325px,#25ac82 325px)"></i>
<i style="left:596px;width:2px;background:linear-gradient(#54c568 0px,#58c765 13px,#5cc863 26px,#5ec962 39px,#60ca60 52px,#65cb5e 65px,#67cc5c 78px,#69cd5b 91px,#6ece58 104px,#70cf57 117px,#70cf57 130px,#70cf57 143px,#5cc863 156px,#3fbc73 169px,#2ab07f 182px,#29af7f 195px,#29af7f 208px,#29af7f 221px,#2ab07f 234px,#2cb17e 247px,#31b57b 260px,#35b779 273px,#3bbb75 286px,#42be71 299px,#44bf70 312px,#25ac82 325px,#25ac82 325px)"></i>
<i style="left:598px;width:6px;background:linear-gradient(#5ec962 0px,#60ca60 13px,#65cb5e 26px,#67cc5c 39px,#6ccd5a 52px,#6ece58 65px,#70cf57 78px,#75d054 91px,#77d153 104px,#7ad151 117px,#7ad151 130px,#7ad151 143px,#63cb5f 156px,#42be71 169px,#29af7f 182px,#29af7f 195px,#29af7f 208px,#29af7f 221px,#2ab07f 234px,#2cb17e 247px,#31b57b 260px,#35b779 273px,#3bbb75 286px,#42be71 299px,#44bf70 312px,#25ac82 325px,#25ac82 325px)"></i>
<i style="left:604px;width:2px;background:linear-gradient(#5ec962 0px,#60ca60 13px,#65cb5e 26px,#67cc5c 39px,#6ccd5a 52px,#6ece58 65px,#70cf57 78px,#75d054 91px,#77d153 104px,#7ad151 117px,#7ad151 130px,#7ad151 143px,#63cb5f 156px,#44bf70 169px,#2db27d 182px,#2cb17e 195px,#2cb17e 208px,#2cb17e 221px,#2db27d 234px,#2eb37c 247px,#32b67a 260px,#37b878 273px,#3dbc74 286px,#46c06f 299px,#48c16e 312px,#27ad81 325px,#27ad81 325px)"></i>
<i style="left:606px;width:2px;background:linear-gradient(#48c16e 0px,#4ac16d 13px,#4ec36b 26px,#50c46a 39px,#52c569 52px,#56c667 65px,#58c765 78px,#5ac864 91px,#5cc863 104px,#5ec962 117px,#5ec962 130px,#5ec962 143px,#54c568 156px,#44bf70 169px,#38b977 182px,#38b977 195px,#38b977 208px,#38b977 221px,#38b977 234px,#38b977 247px,#3bbb75 260px,#3fbc73 273px,#46c06f 286px,#50c46a 299px,#50c46a 312px,#2db27d 325px,#2db27d 325px)"></i>
<i style="left:608px;width:2px;background:linear-gradient(#2fb47c 0px,#32b67a 13px,#34b679 26px,#37b878 39px,#38b977 52px,#38b977 65px,#3aba76 78px,#3bbb75 91px,#3bbb75 104px,#3dbc74 117px,#3dbc74 130px,#3dbc74 143px,#3fbc73 156px,#42be71 169px,#46c06f 182px,#46c06f 195px,#46c06f 208px,#46c06f 221px,#44bf70 234px,#44bf70 247px,#46c06f 260px,#4ac16d 273px,#50c46a 286px,#58c765 299px,#5ac864 312px,#32b67a 325px,#32b67a 325px)"></i>
<i style="left:610px;width:2px;background:linear-gradient(#24aa83 0px,#25ac82 13px,#26ad81 26px,#28ae80 39px,#28ae80 52px,#29af7f 65px,#29af7f 78px,#29af7f 91px,#2ab07f 104px,#2ab07f 117px,#2ab07f 130px,#2ab07f 143px,#31b57b 156px,#3bbb75 169px,#4ac16d 182px,#4ac16d 195px,#4ac16d 208px,#4ac16d 221px,#48c16e 234px,#46c06f 247px,#4ac16d 260px,#4cc26c 273px,#52c569 286px,#5cc863 299px,#5ec962 312px,#35b779 325px,#35b779 325px)"></i>
<i style="left:612px;width:2px;background:linear-gradient(#20a486 0px,#21a685 13px,#22a785 26px,#23a983 39px,#23a983 52px,#23a983 65px,#23a983 78px,#23a983 91px,#23a983 104px,#23a983 117px,#23a983 130px,#23a983 143px,#28ae80 156px,#32b67a 169px,#3fbc73 182px,#3fbc73 195px,#3fbc73 208px,#3fbc73 221px,#3fbc73 234px,#40bd72 247px,#46c06f 260px,#4ac16d 273px,#52c569 286px,#5cc863 299px,#5ec962 312px,#35b779 325px,#35b779 325px)"></i>
<i style="left:614px;width:2px;background:linear-gradient(#23a983 0px,#25ab82 13px,#26ad81 26px,#27ad81 39px,#28ae80 52px,#28ae80 65px,#28ae80 78px,#28ae80 91px,#28ae80 104px,#28ae80 117px,#28ae80 130px,#28ae80 143px,#29af7f 156px,#2db27d 169px,#31b57b 182px,#31b57b 195px,#31b57b 208px,#32b67a 221px,#35b779 234px,#3aba76 247px,#40bd72 260px,#4ac16d 273px,#52c569 286px,#5cc863 299px,#5ec962 312px,#35b779 325px,#35b779 325px)"></i>
<i style="left:616px;width:2px;background:linear-gradient(#26ad81 0px,#28ae80 13px,#29af7f 26px,#2cb17e 39px,#2cb17e 52px,#2cb17e 65px,#2cb17e 78px,#2cb17e 91px,#2cb17e 104px,#2cb17e 117px,#2cb17e 130px,#2cb17e 143px,#2cb17e 156px,#2ab07f 169px,#29af7f 182px,#29af7f 195px,#29af7f 208px,#2ab07f 221px,#2fb47c 234px,#34b679 247px,#3dbc74 260px,#48c16e 273px,#52c569 286px,#5cc863 299px,#5ec962 312px,#35b779 325px,#35b779 325px)"></i>
<i style="left:618px;width:2px;background:linear-gradient(#25ab82 0px,#26ad81 13px,#27ad81 26px,#29af7f 39px,#29af7f 52px,#29af7f 65px,#29af7f 78px,#29af7f 91px,#29af7f 104px,#2ab07f 117px,#2ab07f 130px,#2ab07f 143px,#29af7f 156px,#29af7f 169px,#29af7f 182px,#29af7f 195px,#29af7f 208px,#2ab07f 221px,#2fb47c 234px,#34b679 247px,#3dbc74 260px,#48c16e 273px,#52c569 286px,#5cc863 299px,#5ec962 312px,#35b779 325px,#35b779 325px)"></i>
<i style="left:620px;width:2px;background:linear-gradient(#1fa287 0px,#20a486 13px,#21a585 26px,#22a785 39px,#22a884 52px,#22a884 65px,#22a884 78px,#23a983 91px,#23a983 104px,#23a983 117px,#23a983 130px,#23a983 143px,#25ab82 156px,#26ad81 169px,#29af7f 182px,#29af7f 195px,#29af7f 208px,#2ab07f 221px,#2fb47c 234px,#34b679 247px,#3dbc74 260px,#48c16e 273px,#52c569 286px,#5cc863 299px,#5ec962 312px,#35b779 325px,#35b779 325px)"></i>
<i style="left:622px;width:2px;background:linear-gradient(#1e9b8a 0px,#1e9c89 13px,#1f9e89 26px,#1f9f88 39px,#1fa088 52px,#1fa188 65px,#1fa188 78px,#1fa187 91px,#1fa187 104px,#1fa287 117px,#1fa287 130px,#1fa287 143px,#21a585 156px,#24aa83 169px,#29af7f 182px,#29af7f 195px,#29af7f 208px,#2ab07f 221px,#2fb47c 234px,#34b679 247px,#3dbc74 260px,#48c16e 273px,#52c569 286px,#5cc863 299px,#5ec962 312px,#35b779 325px,#35b779 325px)"></i>
<i style="left:624px;width:2px;background:linear-gradient(#1f978b 0px,#1f998a 13px,#1f9a8a 26px,#1e9c89 39px,#1e9c89 52px,#1e9c89 65px,#1e9c89 78px,#1e9c89 91px,#1e9c89 104px,#1e9c89 117px,#1e9c89 130px,#1e9c89 143px,#1fa188 156px,#22a884 169px,#28ae80 182px,#29af7f 195px,#29af7f 208px,#2ab07f 221px,#2fb47c 234px,#34b679 247px,#3dbc74 260px,#48c16e 273px,#52c569 286px,#5cc863 299px,#5ec962 312px,#35b779 325px,#35b779 325px)"></i>
<i style="left:626px;width:2px;background:linear-gradient(#1f978b 0px,#1f998a 13px,#1f9a8a 26px,#1e9c89 39px,#1e9d89 52px,#1e9d89 65px,#1e9d89 78px,#1e9d89 91px,#1f9e89 104px,#1f9e89 117px,#1f9e89 130px,#1f9e89 143px,#1fa287 156px,#23a983 169px,#29af7f 182px,#29af7f 195px,#29af7f 208px,#2ab07f 221px,#2fb47c 234px,#34b679 247px,#3dbc74 260px,#48c16e 273px,#52c569 286px,#5cc863 299px,#5ec962 312px,#35b779 325px,#35b779 325px)"></i>
<i style="left:628px;width:2px;background:linear-gradient(#1e9c89 0px,#1f9e89 13px,#1fa088 26px,#1fa188 39px,#1fa187 52px,#1fa187 65px,#1fa287 78px,#1fa287 91px,#20a386 104px,#20a386 117px,#20a386 130px,#20a386 143px,#21a685 156px,#25ab82 169px,#29af7f 182px,#29af7f 195px,#29af7f 208px,#29af7f 221px,#2db27d 234px,#31b57b 247px,#38b977 260px,#40bd72 273px,#48c16e 286px,#52c569 299px,#54c568 312px,#2eb37c 325px,#2eb37c 325px)"></i>
<i style="left:630px;width:2px;background:linear-gradient(#20a386 0px,#20a486 13px,#21a685 26px,#22a785 39px,#22a884 52px,#22a884 65px,#22a884 78px,#22a884 91px,#23a983 104px,#23a983 117px,#23a983 130px,#23a983 143px,#25ab82 156px,#26ad81 169px,#29af7f 182px,#29af7f 195px,#29af7f 208px,#29af7f 221px,#2ab07f 234px,#2db27d 247px,#31b57b 260px,#35b779 273px,#3bbb75 286px,#44bf70 299px,#46c06f 312px,#26ad81 325px,#26ad81 325px)"></i>
<i style="left:632px;width:6px;background:linear-gradient(#22a884 0px,#24aa83 13px,#25ab82 26px,#26ad81 39px,#26ad81 52px,#26ad81 65px,#26ad81 78px,#26ad81 91px,#26ad81 104px,#26ad81 117px,#26ad81 130px,#26ad81 143px,#27ad81 156px,#28ae80 169px,#29af7f 182px,#29af7f 195px,#29af7f 208px,#29af7f 221px,#29af7f 234px,#29af7f 247px,#2cb17e 260px,#2fb47c 273px,#34b679 286px,#3bbb75 299px,#3dbc74 312px,#22a884 325px,#22a884 325px)"></i>
<i style="left:638px;width:2px;background:linear-gradient(#21a685 0px,#22a884 13px,#24aa83 26px,#25ab82 39px,#25ac82 52px,#25ac82 65px,#25ac82 78px,#26ad81 91px,#26ad81 104px,#26ad81 117px,#26ad81 130px,#26ad81 143px,#27ad81 156px,#28ae80 169px,#29af7f 182px,#29af7f 195px,#29af7f 208px,#29af7f 221px,#29af7f 234px,#29af7f 247px,#2cb17e 260px,#2fb47c 273px,#34b679 286px,#3bbb75 299px,#3dbc74 312px,#22a884 325px,#22a884 325px)"></i>
<i style="left:640px;width:2px;background:linear-gradient(#1fa088 0px,#1fa187 13px,#1fa287 26px,#20a486 39px,#21a585 52px,#21a685 65px,#22a884 78px,#23a983 91px,#24aa83 104px,#25ac82 117px,#25ac82 130px,#25ac82 143px,#26ad81 156px,#27ad81 169px,#29af7f 182px,#29af7f 195px,#29af7f 208px,#29af7f 221px,#29af7f 234px,#29af7f 247px,#2cb17e 260px,#2fb47c 273px,#34b679 286px,#3bbb75 299px,#3dbc74 312px,#22a884 325px,#22a884 325px)"></i>
<i style="left:642px;width:2px;background:linear-gradient(#1f998a 0px,#1f9a8a 13px,#1e9c89 26px,#1f9e89 39px,#1f9f88 52px,#1fa188 65px,#1fa187 78px,#20a386 91px,#20a486 104px,#21a685 117px,#21a685 130px,#21a685 143px,#22a884 156px,#25ac82 169px,#29af7f 182px,#29af7f 195px,#29af7f 208px,#29af7f 221px,#29af7f 234px,#29af7f 247px,#2cb17e 260px,#2fb47c 273px,#34b679 286px,#3bbb75 299px,#3dbc74 312px,#22a884 325px,#22a884 325px)"></i>
<i style="left:644px;width:2px;background:linear-gradient(#1f978b 0px,#1f998a 13px,#1f9a8a 26px,#1e9c89 39px,#1e9d89 52px,#1f9e89 65px,#1f9f88 78px,#1f9f88 91px,#1fa088 104px,#1fa188 117px,#1fa188 130px,#1fa188 143px,#20a486 156px,#24aa83 169px,#2ab07f 182px,#2ab07f 195px,#2ab07f 208px,#2ab07f 221px,#2cb17e 234px,#2cb17e 247px,#2fb47c 260px,#34b679 273px,#3aba76 286px,#40bd72 299px,#42be71 312px,#25ab82 325px,#25ab82 325px)"></i>
<i style="left:646px;width:2px;background:linear-gradient(#1f978b 0px,#1f998a 13px,#1f9a8a 26px,#1e9c89 39px,#1e9c89 52px,#1e9c89 65px,#1e9c89 78px,#1e9c89 91px,#1e9b8a 104px,#1e9b8a 117px,#1e9b8a 130px,#1e9b8a 143px,#1fa187 156px,#25ab82 169px,#31b57b 182px,#31b57b 195px,#31b57b 208px,#31b57b 221px,#32b67a 234px,#32b67a 247px,#37b878 260px,#3bbb75 273px,#42be71 286px,#4ac16d 299px,#4cc26c 312px,#29af7f 325px,#29af7f 325px)"></i>
<i style="left:648px;width:2px;background:linear-gradient(#1f978b 0px,#1f998a 13px,#1f9a8a 26px,#1e9c89 39px,#1e9c89 52px,#1e9c89 65px,#1e9b8a 78px,#1e9b8a 91px,#1f9a8a 104px,#1f9a8a 117px,#1f9a8a 130px,#1f9a8a 143px,#1fa187 156px,#26ad81 169px,#37b878 182px,#37b878 195px,#37b878 208px,#37b878 221px,#38b977 234px,#38b977 247px,#3dbc74 260px,#42be71 273px,#4ac16d 286px,#52c569 299px,#54c568 312px,#2eb37c 325px,#2eb37c 325px)"></i>
<i style="left:650px;width:2px;background:linear-gradient(#1f978b 0px,#1f998a 13px,#1f9a8a 26px,#1e9c89 39px,#1e9c89 52px,#1e9c89 65px,#1e9b8a 78px,#1e9b8a 91px,#1f9a8a 104px,#1f9a8a 117px,#1f9a8a 130px,#1f9a8a 143px,#1fa188 156px,#25ac82 169px,#32b67a 182px,#34b679 195px,#34b679 208px,#34b679 221px,#35b779 234px,#37b878 247px,#3dbc74 260px,#42be71 273px,#4ac16d 286px,#52c569 299px,#54c568 312px,#2fb47c 325px,#2fb47c 325px)"></i>
<i style="left:652px;width:2px;background:linear-gradient(#1f978b 0px,#1f998a 13px,#1f9a8a 26px,#1e9c89 39px,#1e9c89 52px,#1e9c89 65px,#1e9b8a 78px,#1e9b8a 91px,#1f9a8a 104px,#1f9a8a 117px,#1f9a8a 130px,#1f9a8a 143px,#1fa088 156px,#24aa83 169px,#2eb37c 182px,#2eb37c 195px,#2eb37c 208px,#2fb47c 221px,#32b67a 234px,#35b779 247px,#3dbc74 260px,#44bf70 273px,#4ec36b 286px,#56c667 299px,#58c765 312px,#31b57b 325px,#31b57b 325px)"></i>
<i style="left:654px;width:2px;background:linear-gradient(#1f978b 0px,#1f998a 13px,#1f9a8a 26px,#1e9c89 39px,#1e9c89 52px,#1e9c89 65px,#1e9b8a 78px,#1e9b8a 91px,#1f9a8a 104px,#1f9a8a 117px,#1f9a8a 130px,#1f9a8a 143px,#1fa088 156px,#23a983 169px,#2db27d 182px,#2db27d 195px,#2db27d 208px,#2eb37c 221px,#32b67a 234px,#37b878 247px,#3fbc73 260px,#48c16e 273px,#52c569 286px,#5ac864 299px,#5cc863 312px,#34b679 325px,#34b679 325px)"></i>
<i style="left:656px;width:4px;background:linear-gradient(#1f978b 0px,#1f998a 13px,#1f9a8a 26px,#1e9c89 39px,#1e9c89 52px,#1e9c89 65px,#1e9b8a 78px,#1e9b8a 91px,#1f9a8a 104px,#1f9a8a 117px,#1f9a8a 130px,#1f9a8a 143px,#1fa088 156px,#23a983 169px,#2db27d 182px,#2db27d 195px,#2db27d 208px,#2eb37c 221px,#32b67a 234px,#37b878 247px,#3fbc73 260px,#4ac16d 273px,#52c569 286px,#5cc863 299px,#5ec962 312px,#35b779 325px,#35b779 325px)"></i>
<i style="left:660px;width:2px;background:linear-gradient(#1f978b 0px,#1f998a 13px,#1f9a8a 26px,#1e9c89 39px,#1e9c89 52px,#1e9c89 65px,#1e9b8a 78px,#1e9b8a 91px,#1f9a8a 104px,#1f9a8a 117px,#1f9a8a 130px,#1f9a8a 143px,#1fa088 156px,#23a983 169px,#2db27d 182px,#2db27d 195px,#2db27d 208px,#2eb37c 221px,#32b67a 234px,#35b779 247px,#3dbc74 260px,#46c06f 273px,#4ec36b 286px,#58c765 299px,#5ac864 312px,#32b67a 325px,#32b67a 325px)"></i>
<i style="left:662px;width:2px;background:linear-gradient(#1f978b 0px,#1f998a 13px,#1e9b8a 26px,#1e9c89 39px,#1e9c89 52px,#1e9c89 65px,#1e9b8a 78px,#1e9b8a 91px,#1f9a8a 104px,#1f9a8a 117px,#1f9a8a 130px,#1f9a8a 143px,#1fa088 156px,#22a884 169px,#2ab07f 182px,#2cb17e 195px,#2cb17e 208px,#2cb17e 221px,#2db27d 234px,#2eb37c 247px,#34b679 260px,#38b977 273px,#3fbc73 286px,#48c16e 299px,#4ac16d 312px,#28ae80 325px,#28ae80 325px)"></i>
<i style="left:664px;width:2px;background:linear-gradient(#20a386 0px,#20a486 13px,#21a685 26px,#22a785 39px,#21a685 52px,#20a486 65px,#20a386 78px,#1fa187 91px,#1fa088 104px,#1f9e89 117px,#1f9e89 130px,#1f9e89 143px,#1fa188 156px,#21a585 169px,#24aa83 182px,#24aa83 195px,#24aa83 208px,#25ab82 221px,#25ac82 234px,#26ad81 247px,#29af7f 260px,#2db27d 273px,#32b67a 286px,#3aba76 299px,#3bbb75 312px,#22a785 325px,#22a785 325px)"></i>
<i style="left:666px;width:2px;background:linear-gradient(#2db27d 0px,#2eb37c 13px,#31b57b 26px,#34b679 39px,#31b57b 52px,#2fb47c 65px,#2db27d 78px,#2ab07f 91px,#29af7f 104px,#27ad81 117px,#27ad81 130px,#27ad81 143px,#25ac82 156px,#23a983 169px,#21a685 182px,#21a685 195px,#21a685 208px,#22a785 221px,#22a884 234px,#24aa83 247px,#26ad81 260px,#2ab07f 273px,#2fb47c 286px,#37b878 299px,#38b977 312px,#21a585 325px,#21a585 325px)"></i>
<i style="left:668px;width:2px;background:linear-gradient(#46c06f 0px,#48c16e 13px,#4cc26c 26px,#50c46a 39px,#4ec36b 52px,#4ac16d 65px,#46c06f 78px,#44bf70 91px,#40bd72 104px,#3fbc73 117px,#3fbc73 130px,#3fbc73 143px,#38b977 156px,#2fb47c 169px,#29af7f 182px,#29af7f 195px,#29af7f 208px,#29af7f 221px,#28ae80 234px,#28ae80 247px,#29af7f 260px,#2cb17e 273px,#2fb47c 286px,#37b878 299px,#38b977 312px,#21a585 325px,#21a585 325px)"></i>
<i style="left:670px;width:2px;background:linear-gradient(#4ec36b 0px,#50c46a 13px,#54c568 26px,#58c765 39px,#58c765 52px,#5ac864 65px,#5cc863 78px,#5cc863 91px,#5ec962 104px,#5ec962 117px,#5ec962 130px,#5ec962 143px,#56c667 156px,#46c06f 169px,#3aba76 182px,#38b977 195px,#38b977 208px,#37b878 221px,#32b67a 234px,#2eb37c 247px,#2db27d 260px,#2db27d 273px,#2fb47c 286px,#37b878 299px,#38b977 312px,#21a585 325px,#21a585 325px)"></i>
<i style="left:672px;width:4px;background:linear-gradient(#4ec36b 0px,#50c46a 13px,#54c568 26px,#58c765 39px,#5ac864 52px,#5cc863 65px,#60ca60 78px,#63cb5f 91px,#65cb5e 104px,#69cd5b 117px,#69cd5b 130px,#69cd5b 143px,#5cc863 156px,#4cc26c 169px,#3dbc74 182px,#3dbc74 195px,#3dbc74 208px,#3bbb75 221px,#35b779 234px,#31b57b 247px,#2eb37c 260px,#2db27d 273px,#2fb47c 286px,#37b878 299px,#38b977 312px,#21a585 325px,#21a585 325px)"></i>
<i style="left:676px;width:2px;background:linear-gradient(#38b977 0px,#3aba76 13px,#3dbc74 26px,#40bd72 39px,#42be71 52px,#44bf70 65px,#46c06f 78px,#48c16e 91px,#4ac16d 104px,#4cc26c 117px,#4cc26c 130px,#4cc26c 143px,#48c16e 156px,#42be71 169px,#3dbc74 182px,#3dbc74 195px,#3dbc74 208px,#3bbb75 221px,#35b779 234px,#31b57b 247px,#2eb37c 260px,#2db27d 273px,#2fb47c 286px,#37b878 299px,#38b977 312px,#21a585 325px,#21a585 325px)"></i>
<i style="left:678px;width:2px;background:linear-gradient(#25ab82 0px,#25ac82 13px,#27ad81 26px,#28ae80 39px,#29af7f 52px,#2ab07f 65px,#2cb17e 78px,#2cb17e 91px,#2db27d 104px,#2eb37c 117px,#2eb37c 130px,#2eb37c 143px,#31b57b 156px,#35b779 169px,#3aba76 182px,#3aba76 195px,#3aba76 208px,#38b977 221px,#34b679 234px,#2fb47c 247px,#2eb37c 260px,#2db27d 273px,#2fb47c 286px,#37b878 299px,#38b977 312px,#21a585 325px,#21a585 325px)"></i>
<i style="left:680px;width:2px;background:linear-gradient(#1e9c89 0px,#1e9d89 13px,#1f9f88 26px,#1fa088 39px,#1fa188 52px,#1fa188 65px,#1fa188 78px,#1fa187 91px,#1fa187 104px,#1fa187 117px,#1fa187 130px,#1fa187 143px,#21a685 156px,#26ad81 169px,#2eb37c 182px,#2eb37c 195px,#2eb37c 208px,#2eb37c 221px,#2eb37c 234px,#2eb37c 247px,#31b57b 260px,#34b679 273px,#38b977 286px,#40bd72 299px,#42be71 312px,#25ab82 325px,#25ab82 325px)"></i>
<i style="left:682px;width:2px;background:linear-gradient(#1f978b 0px,#1f998a 13px,#1f9a8a 26px,#1e9c89 39px,#1e9c89 52px,#1e9b8a 65px,#1e9b8a 78px,#1f9a8a 91px,#1f9a8a 104px,#1f998a 117px,#1f998a 130px,#1f998a 143px,#1f9e89 156px,#21a585 169px,#25ac82 182px,#25ac82 195px,#25ac82 208px,#26ad81 221px,#29af7f 234px,#2eb37c 247px,#35b779 260px,#3dbc74 273px,#46c06f 286px,#50c46a 299px,#52c569 312px,#2db27d 325px,#2db27d 325px)"></i>
<i style="left:684px;width:2px;background:linear-gradient(#1f9a8a 0px,#1e9b8a 13px,#1e9d89 26px,#1f9f88 39px,#1f9f88 52px,#1f9f88 65px,#1f9f88 78px,#1f9f88 91px,#1f9f88 104px,#1f9f88 117px,#1f9f88 130px,#1f9f88 143px,#1fa187 156px,#21a685 169px,#24aa83 182px,#24aa83 195px,#24aa83 208px,#25ac82 221px,#2ab07f 234px,#31b57b 247px,#3bbb75 260px,#48c16e 273px,#52c569 286px,#5cc863 299px,#5ec962 312px,#35b779 325px,#35b779 325px)"></i>
<i style="left:686px;width:2px;background:linear-gradient(#1fa088 0px,#1fa188 13px,#1fa287 26px,#20a386 39px,#20a486 52px,#20a486 65px,#20a486 78px,#20a486 91px,#20a486 104px,#20a486 117px,#20a486 130px,#20a486 143px,#21a585 156px,#22a884 169px,#24aa83 182px,#24aa83 195px,#24aa83 208px,#25ac82 221px,#2ab07f 234px,#31b57b 247px,#3bbb75 260px,#48c16e 273px,#52c569 286px,#5cc863 299px,#5ec962 312px,#35b779 325px,#35b779 325px)"></i>
<i style="left:688px;width:2px;background:linear-gradient(#20a386 0px,#21a585 13px,#21a685 26px,#22a884 39px,#22a884 52px,#22a884 65px,#22a884 78px,#22a884 91px,#22a884 104px,#22a884 117px,#22a884 130px,#22a884 143px,#23a983 156px,#24aa83 169px,#24aa83 182px,#24aa83 195px,#24aa83 208px,#25ac82 221px,#2ab07f 234px,#31b57b 247px,#3bbb75 260px,#48c16e 273px,#52c569 286px,#5cc863 299px,#5ec962 312px,#35b779 325px,#35b779 325px)"></i>
<i style="left:690px;width:2px;background:linear-gradient(#1fa287 0px,#20a386 13px,#21a585 26px,#21a685 39px,#22a785 52px,#22a785 65px,#22a785 78px,#22a884 91px,#22a884 104px,#22a884 117px,#22a884 130px,#22a884 143px,#23a983 156px,#24aa83 169px,#24aa83 182px,#24aa83 195px,#24aa83 208px,#25ac82 221px,#2ab07f 234px,#31b57b 247px,#3bbb75 260px,#48c16e 273px,#52c569 286px,#5cc863 299px,#5ec962 312px,#35b779 325px,#35b779 325px)"></i>
<i style="left:692px;width:2px;background:linear-gradient(#1e9d89 0px,#1f9e89 13px,#1fa088 26px,#1fa188 39px,#1fa287 52px,#20a386 65px,#20a486 78px,#21a585 91px,#21a685 104px,#22a785 117px,#22a785 130px,#22a785 143px,#22a884 156px,#25ab82 169px,#26ad81 182px,#26ad81 195px,#26ad81 208px,#27ad81 221px,#2cb17e 234px,#2fb47c 247px,#38b977 260px,#42be71 273px,#4cc26c 286px,#54c568 299px,#56c667 312px,#2fb47c 325px,#2fb47c 325px)"></i>
<i style="left:694px;width:2px;background:linear-gradient(#1f988b 0px,#1f998a 13px,#1e9b8a 26px,#1e9d89 39px,#1f9e89 52px,#1f9e89 65px,#1f9f88 78px,#1fa088 91px,#1fa188 104px,#1fa187 117px,#1fa187 130px,#1fa187 143px,#21a585 156px,#25ab82 169px,#29af7f 182px,#2ab07f 195px,#2ab07f 208px,#2ab07f 221px,#2db27d 234px,#2fb47c 247px,#34b679 260px,#3aba76 273px,#42be71 286px,#4ac16d 299px,#4cc26c 312px,#29af7f 325px,#29af7f 325px)"></i>
<i style="left:696px;width:4px;background:linear-gradient(#1f978b 0px,#1f998a 13px,#1f9a8a 26px,#1e9c89 39px,#1e9c89 52px,#1e9c89 65px,#1e9c89 78px,#1e9c89 91px,#1e9c89 104px,#1e9c89 117px,#1e9c89 130px,#1e9c89 143px,#1fa187 156px,#24aa83 169px,#2db27d 182px,#2db27d 195px,#2db27d 208px,#2db27d 221px,#2eb37c 234px,#2eb37c 247px,#32b67a 260px,#35b779 273px,#3bbb75 286px,#42be71 299px,#44bf70 312px,#25ac82 325px,#25ac82 325px)"></i>
<i style="left:700px;width:2px;background:linear-gradient(#1f9a8a 0px,#1e9b8a 13px,#1e9d89 26px,#1f9f88 39px,#1f9f88 52px,#1fa088 65px,#1fa088 78px,#1fa188 91px,#1fa188 104px,#1fa188 117px,#1fa188 130px,#1fa188 143px,#21a585 156px,#25ac82 169px,#2db27d 182px,#2db27d 195px,#2db27d 208px,#2db27d 221px,#2eb37c 234px,#2eb37c 247px,#32b67a 260px,#35b779 273px,#3bbb75 286px,#42be71 299px,#44bf70 312px,#25ac82 325px,#25ac82 325px)"></i>
<i style="left:702px;width:2px;background:linear-gradient(#1fa088 0px,#1fa188 13px,#1fa287 26px,#20a386 39px,#20a486 52px,#21a585 65px,#21a685 78px,#21a685 91px,#22a785 104px,#22a884 117px,#22a884 130px,#22a884 143px,#25ab82 156px,#28ae80 169px,#2db27d 182px,#2db27d 195px,#2db27d 208px,#2eb37c 221px,#2fb47c 234px,#31b57b 247px,#37b878 260px,#3bbb75 273px,#44bf70 286px,#4cc26c 299px,#4ec36b 312px,#2ab07f 325px,#2ab07f 325px)"></i>
<i style="left:704px;width:2px;background:linear-gradient(#1fa287 0px,#20a386 13px,#21a585 26px,#21a685 39px,#22a785 52px,#22a884 65px,#23a983 78px,#24aa83 91px,#25ab82 104px,#25ab82 117px,#25ab82 130px,#25ab82 143px,#26ad81 156px,#29af7f 169px,#2db27d 182px,#2db27d 195px,#2db27d 208px,#2eb37c 221px,#32b67a 234px,#35b779 247px,#3dbc74 260px,#46c06f 273px,#50c46a 286px,#58c765 299px,#5ac864 312px,#32b67a 325px,#32b67a 325px)"></i>
<i style="left:706px;width:2px;background:linear-gradient(#1e9d89 0px,#1f9e89 13px,#1fa088 26px,#1fa188 39px,#1fa187 52px,#1fa287 65px,#1fa287 78px,#20a386 91px,#20a386 104px,#20a486 117px,#20a486 130px,#20a486 143px,#22a884 156px,#27ad81 169px,#2eb37c 182px,#2eb37c 195px,#2eb37c 208px,#2fb47c 221px,#35b779 234px,#3aba76 247px,#44bf70 260px,#4ec36b 273px,#58c765 286px,#63cb5f 299px,#65cb5e 312px,#3aba76 325px,#3aba76 325px)"></i>
<i style="left:708px;width:2px;background:linear-gradient(#1f988b 0px,#1f998a 13px,#1e9b8a 26px,#1e9d89 39px,#1e9d89 52px,#1e9d89 65px,#1e9d89 78px,#1e9d89 91px,#1f9e89 104px,#1f9e89 117px,#1f9e89 130px,#1f9e89 143px,#20a386 156px,#25ac82 169px,#31b57b 182px,#31b57b 195px,#31b57b 208px,#32b67a 221px,#37b878 234px,#3bbb75 247px,#44bf70 260px,#50c46a 273px,#58c765 286px,#63cb5f 299px,#65cb5e 312px,#3aba76 325px,#3aba76 325px)"></i>
<i style="left:710px;width:2px;background:linear-gradient(#1f978b 0px,#1f998a 13px,#1f9a8a 26px,#1e9c89 39px,#1e9c89 52px,#1e9b8a 65px,#1f9a8a 78px,#1f998a 91px,#1f998a 104px,#1f988b 117px,#1f988b 130px,#1f988b 143px,#1fa088 156px,#25ab82 169px,#31b57b 182px,#32b67a 195px,#32b67a 208px,#34b679 221px,#38b977 234px,#3bbb75 247px,#46c06f 260px,#50c46a 273px,#58c765 286px,#63cb5f 299px,#65cb5e 312px,#3aba76 325px,#3aba76 325px)"></i>
<i style="left:712px;width:4px;background:linear-gradient(#1f978b 0px,#1f998a 13px,#1f9a8a 26px,#1e9c89 39px,#1e9c89 52px,#1e9b8a 65px,#1f9a8a 78px,#1f998a 91px,#1f988b 104px,#1f978b 117px,#1f978b 130px,#1f978b 143px,#1f9f88 156px,#24aa83 169px,#31b57b 182px,#32b67a 195px,#32b67a 208px,#34b679 221px,#38b977 234px,#3bbb75 247px,#46c06f 260px,#50c46a 273px,#58c765 286px,#63cb5f 299px,#65cb5e 312px,#3aba76 325px,#3aba76 325px)"></i>
<i style="left:716px;width:2px;background:linear-gradient(#1f978b 0px,#1f998a 13px,#1f9a8a 26px,#1e9c89 39px,#1e9c89 52px,#1e9b8a 65px,#1f9a8a 78px,#1f998a 91px,#1f988b 104px,#1f978b 117px,#1f978b 130px,#1f978b 143px,#1f9e89 156px,#22a884 169px,#2db27d 182px,#2eb37c 195px,#2eb37c 208px,#2eb37c 221px,#32b67a 234px,#37b878 247px,#3dbc74 260px,#46c06f 273px,#50c46a 286px,#58c765 299px,#5ac864 312px,#32b67a 325px,#32b67a 325px)"></i>
<i style="left:718px;width:2px;background:linear-gradient(#1f978b 0px,#1f998a 13px,#1f9a8a 26px,#1e9c89 39px,#1e9c89 52px,#1e9b8a 65px,#1f9a8a 78px,#1f998a 91px,#1f988b 104px,#1f978b 117px,#1f978b 130px,#1f978b 143px,#1e9b8a 156px,#1fa188 169px,#22a785 182px,#22a785 195px,#22a785 208px,#22a785 221px,#23a983 234px,#24aa83 247px,#26ad81 260px,#2ab07f 273px,#2fb47c 286px,#37b878 299px,#38b977 312px,#21a585 325px,#21a585 325px)"></i>
<i style="left:720px;width:2px;background:linear-gradient(#24878e 0px,#23888e 13px,#238a8d 26px,#228b8d 39px,#228b8d 52px,#228b8d 65px,#228b8d 78px,#238a8d 91px,#238a8d 104px,#23898e 117px,#23898e 130px,#23898e 143px,#238a8d 156px,#238a8d 169px,#228b8d 182px,#228b8d 195px,#228b8d 208px,#238a8d 221px,#24878e 234px,#25858e 247px,#25848e 260px,#25848e 273px,#24878e 286px,#228b8d 299px,#228c8d 312px,#2a778e 325px,#2a778e 325px)"></i>
<i style="left:722px;width:26px;background:linear-gradient(#24868e 0px,#23888e 13px,#23898e 26px,#228b8d 39px,#228b8d 52px,#228b8d 65px,#238a8d 78px,#238a8d 91px,#23898e 104px,#23898e 117px,#23898e 130px,#23898e 143px,#23888e 156px,#24878e 169px,#24868e 182px,#24868e 195px,#24868e 208px,#25858e 221px,#26828e 234px,#27808e 247px,#277f8e 260px,#287d8e 273px,#27808e 286px,#25838e 299px,#25848e 312px,#2d708e 325px,#2d708e 325px)"></i>
<i style="left:748px;width:2px;background:linear-gradient(#24868e 0px,#23888e 13px,#23898e 26px,#228b8d 39px,#228b8d 52px,#228b8d 65px,#238a8d 78px,#238a8d 91px,#23898e 104px,#23898e 117px,#23898e 130px,#23898e 143px,#23888e 156px,#24868e 169px,#25858e 182px,#25848e 195px,#25848e 208px,#25848e 221px,#26828e 234px,#277f8e 247px,#277e8e 260px,#287d8e 273px,#27808e 286px,#25838e 299px,#25848e 312px,#2d708e 325px,#2d708e 325px)"></i>
<i style="left:750px;width:2px;background:linear-gradient(#25848e 0px,#24868e 13px,#24878e 26px,#23898e 39px,#23898e 52px,#23898e 65px,#23888e 78px,#23888e 91px,#23888e 104px,#24878e 117px,#24878e 130px,#24878e 143px,#25858e 156px,#26828e 169px,#277e8e 182px,#277e8e 195px,#277e8e 208px,#277e8e 221px,#287c8e 234px,#297a8e 247px,#297a8e 260px,#297a8e 273px,#287d8e 286px,#26818e 299px,#26828e 312px,#2e6d8e 325px,#2e6d8e 325px)"></i>
<i style="left:752px;width:2px;background:linear-gradient(#29798e 0px,#297b8e 13px,#287d8e 26px,#277f8e 39px,#277f8e 52px,#277f8e 65px,#27808e 78px,#27808e 91px,#27808e 104px,#27808e 117px,#27808e 130px,#27808e 143px,#277e8e 156px,#297b8e 169px,#2a778e 182px,#2a778e 195px,#2a778e 208px,#2a778e 221px,#2a768e 234px,#2b758e 247px,#2a768e 260px,#2a768e 273px,#29798e 286px,#287d8e 299px,#277f8e 312px,#2e6d8e 325px,#2e6d8e 325px)"></i>
<i style="left:754px;width:2px;background:linear-gradient(#32658e 0px,#2f6c8e 13px,#2e6e8e 26px,#2d718e 39px,#2c728e 52px,#2c738e 65px,#2c738e 78px,#2b748e 91px,#2b758e 104px,#2a768e 117px,#2a768e 130px,#2a778e 143px,#2a778e 156px,#2a768e 169px,#2a768e 182px,#2a768e 195px,#2a778e 208px,#2a778e 221px,#2a778e 234px,#2a778e 247px,#2a778e 260px,#2a788e 273px,#297a8e 286px,#287c8e 299px,#277f8e 312px,#2a788e 325px,#2a788e 325px)"></i>
<i style="left:756px;width:2px;background:linear-gradient(#375b8d 0px,#32648e 13px,#31688e 26px,#2f6b8e 39px,#2e6e8e 52px,#2e6f8e 65px,#2d708e 78px,#2d718e 91px,#2c718e 104px,#2c728e 117px,#2c738e 130px,#2b748e 143px,#2b758e 156px,#2b758e 169px,#2a768e 182px,#2a778e 195px,#2a788e 208px,#29798e 221px,#29798e 234px,#297a8e 247px,#297b8e 260px,#287c8e 273px,#287c8e 286px,#287d8e 299px,#26818e 312px,#25838e 325px,#25838e 325px)"></i>
<i style="left:758px;width:28px;background:linear-gradient(#375b8d 0px,#32648e 13px,#31688e 26px,#2f6b8e 39px,#2e6e8e 52px,#2e6f8e 65px,#2d708e 78px,#2d718e 91px,#2c718e 104px,#2c728e 117px,#2c738e 130px,#2b748e 143px,#2b758e 156px,#2b758e 169px,#2a768e 182px,#2a778e 195px,#2a788e 208px,#29798e 221px,#297a8e 234px,#297a8e 247px,#297b8e 260px,#287c8e 273px,#287c8e 286px,#287d8e 299px,#26818e 312px,#25848e 325px,#25848e 325px)"></i>
<i style="left:786px;width:2px;background:linear-gradient(#365d8d 0px,#32658e 13px,#30698e 26px,#2f6c8e 39px,#2e6e8e 52px,#2d708e 65px,#2d718e 78px,#2c718e 91px,#2c728e 104px,#2c738e 117px,#2c738e 130px,#2b748e 143px,#2b758e 156px,#2a768e 169px,#2a768e 182px,#2a778e 195px,#2a788e 208px,#2a788e 221px,#29798e 234px,#29798e 247px,#297a8e 260px,#297b8e 273px,#287c8e 286px,#287d8e 299px,#27808e 312px,#26828e 325px,#26828e 325px)"></i>
<i style="left:788px;width:2px;background:linear-gradient(#2c738e 0px,#2a768e 13px,#2a788e 26px,#297a8e 39px,#287c8e 52px,#277e8e 65px,#277f8e 78px,#26818e 91px,#26828e 104px,#25838e 117px,#25838e 130px,#25838e 143px,#26828e 156px,#26818e 169px,#277f8e 182px,#277f8e 195px,#277f8e 208px,#277f8e 221px,#277e8e 234px,#287d8e 247px,#287d8e 260px,#277e8e 273px,#27808e 286px,#25838e 299px,#25848e 312px,#2a768e 325px,#2a768e 325px)"></i>
<i style="left:790px;width:2px;background:linear-gradient(#218e8d 0px,#218f8d 13px,#21918c 26px,#20928c 39px,#20938c 52px,#1f958b 65px,#1f968b 78px,#1f988b 91px,#1f998a 104px,#1e9b8a 117px,#1e9b8a 130px,#1e9b8a 143px,#1f9e89 156px,#1fa187 169px,#21a685 182px,#21a685 195px,#21a685 208px,#21a685 221px,#21a585 234px,#20a386 247px,#20a486 260px,#21a585 273px,#22a884 286px,#26ad81 299px,#27ad81 312px,#1f998a 325px,#1f998a 325px)"></i>
<i style="left:792px;width:2px;background:linear-gradient(#1f9a8a 0px,#1e9b8a 13px,#1e9d89 26px,#1f9f88 39px,#1fa188 52px,#20a386 65px,#21a685 78px,#22a884 91px,#25ab82 104px,#27ad81 117px,#27ad81 130px,#27ad81 143px,#2eb37c 156px,#3dbc74 169px,#4ec36b 182px,#4ec36b 195px,#4ec36b 208px,#4ec36b 221px,#4cc26c 234px,#4ac16d 247px,#4cc26c 260px,#4ec36b 273px,#54c568 286px,#5cc863 299px,#5ec962 312px,#35b779 325px,#35b779 325px)"></i>
<i style="left:794px;width:4px;background:linear-gradient(#1e9c89 0px,#1f9e89 13px,#1fa088 26px,#1fa188 39px,#20a386 52px,#21a685 65px,#23a983 78px,#25ac82 91px,#28ae80 104px,#2cb17e 117px,#2cb17e 130px,#2cb17e 143px,#35b779 156px,#46c06f 169px,#5cc863 182px,#5cc863 195px,#5cc863 208px,#5cc863 221px,#58c765 234px,#56c667 247px,#56c667 260px,#58c765 273px,#5ec962 286px,#69cd5b 299px,#6ccd5a 312px,#3fbc73 325px,#3fbc73 325px)"></i>
<i style="left:798px;width:2px;background:linear-gradient(#1e9c89 0px,#1f9e89 13px,#1fa088 26px,#1fa188 39px,#20a386 52px,#21a685 65px,#23a983 78px,#25ac82 91px,#28ae80 104px,#2cb17e 117px,#2cb17e 130px,#2cb17e 143px,#34b679 156px,#44bf70 169px,#56c667 182px,#58c765 195px,#58c765 208px,#56c667 221px,#54c568 234px,#52c569 247px,#56c667 260px,#58c765 273px,#5ec962 286px,#69cd5b 299px,#6ccd5a 312px,#3fbc73 325px,#3fbc73 325px)"></i>
<i style="left:800px;width:2px;background:linear-gradient(#1f9a8a 0px,#1e9b8a 13px,#1e9d89 26px,#1f9e89 39px,#1fa188 52px,#1fa287 65px,#21a585 78px,#22a884 91px,#24aa83 104px,#26ad81 117px,#26ad81 130px,#26ad81 143px,#2cb17e 156px,#35b779 169px,#42be71 182px,#42be71 195px,#42be71 208px,#42be71 221px,#46c06f 234px,#48c16e 247px,#50c46a 260px,#56c667 273px,#5ec962 286px,#69cd5b 299px,#6ccd5a 312px,#3fbc73 325px,#3fbc73 325px)"></i>
<i style="left:802px;width:2px;background:linear-gradient(#1f9a8a 0px,#1e9b8a 13px,#1e9d89 26px,#1f9f88 39px,#1fa088 52px,#1fa187 65px,#20a386 78px,#21a585 91px,#22a785 104px,#23a983 117px,#23a983 130px,#23a983 143px,#25ac82 156px,#2ab07f 169px,#31b57b 182px,#31b57b 195px,#31b57b 208px,#32b67a 221px,#37b878 234px,#3dbc74 247px,#46c06f 260px,#52c569 273px,#5cc863 286px,#65cb5e 299px,#67cc5c 312px,#3bbb75 325px,#3bbb75 325px)"></i>
<i style="left:804px;width:2px;background:linear-gradient(#20a486 0px,#21a585 13px,#22a785 26px,#22a884 39px,#24aa83 52px,#25ab82 65px,#25ac82 78px,#27ad81 91px,#28ae80 104px,#29af7f 117px,#2ab07f 130px,#2ab07f 143px,#2ab07f 156px,#2cb17e 169px,#2db27d 182px,#2db27d 195px,#2db27d 208px,#2eb37c 221px,#31b57b 234px,#35b779 247px,#3bbb75 260px,#44bf70 273px,#4cc26c 286px,#56c667 299px,#58c765 312px,#31b57b 325px,#31b57b 325px)"></i>
<i style="left:806px;width:2px;background:linear-gradient(#28ae80 0px,#2ab07f 13px,#2db27d 26px,#2eb37c 39px,#2fb47c 52px,#31b57b 65px,#32b67a 78px,#34b679 91px,#35b779 104px,#37b878 117px,#37b878 130px,#37b878 143px,#34b679 156px,#31b57b 169px,#2db27d 182px,#2db27d 195px,#2db27d 208px,#2eb37c 221px,#2eb37c 234px,#2fb47c 247px,#34b679 260px,#38b977 273px,#3fbc73 286px,#46c06f 299px,#48c16e 312px,#27ad81 325px,#27ad81 325px)"></i>
<i style="left:808px;width:2px;background:linear-gradient(#3dbc74 0px,#40bd72 13px,#42be71 26px,#46c06f 39px,#48c16e 52px,#4ac16d 65px,#4cc26c 78px,#4cc26c 91px,#4ec36b 104px,#50c46a 117px,#50c46a 130px,#50c46a 143px,#48c16e 156px,#3aba76 169px,#2fb47c 182px,#2fb47c 195px,#2fb47c 208px,#2fb47c 221px,#2fb47c 234px,#31b57b 247px,#34b679 260px,#38b977 273px,#3dbc74 286px,#46c06f 299px,#48c16e 312px,#27ad81 325px,#27ad81 325px)"></i>
<i style="left:810px;width:2px;background:linear-gradient(#44bf70 0px,#46c06f 13px,#4ac16d 26px,#4ec36b 39px,#50c46a 52px,#50c46a 65px,#52c569 78px,#54c568 91px,#56c667 104px,#58c765 117px,#58c765 130px,#58c765 143px,#50c46a 156px,#42be71 169px,#38b977 182px,#38b977 195px,#38b977 208px,#38b977 221px,#38b977 234px,#3aba76 247px,#3dbc74 260px,#42be71 273px,#4ac16d 286px,#52c569 299px,#54c568 312px,#2eb37c 325px,#2eb37c 325px)"></i>
<i style="left:812px;width:2px;background:linear-gradient(#44bf70 0px,#46c06f 13px,#4ac16d 26px,#4ec36b 39px,#50c46a 52px,#50c46a 65px,#52c569 78px,#54c568 91px,#56c667 104px,#58c765 117px,#58c765 130px,#58c765 143px,#52c569 156px,#4ac16d 169px,#40bd72 182px,#40bd72 195px,#40bd72 208px,#40bd72 221px,#42be71 234px,#42be71 247px,#48c16e 260px,#4ec36b 273px,#56c667 286px,#5ec962 299px,#60ca60 312px,#37b878 325px,#37b878 325px)"></i>
<i style="left:814px;width:2px;background:linear-gradient(#32b67a 0px,#34b679 13px,#37b878 26px,#3aba76 39px,#3dbc74 52px,#42be71 65px,#48c16e 78px,#4cc26c 91px,#52c569 104px,#58c765 117px,#58c765 130px,#58c765 143px,#52c569 156px,#4cc26c 169px,#44bf70 182px,#44bf70 195px,#44bf70 208px,#44bf70 221px,#44bf70 234px,#46c06f 247px,#4cc26c 260px,#50c46a 273px,#58c765 286px,#63cb5f 299px,#65cb5e 312px,#3aba76 325px,#3aba76 325px)"></i>
<i style="left:816px;width:2px;background:linear-gradient(#22a884 0px,#24aa83 13px,#25ab82 26px,#26ad81 39px,#29af7f 52px,#2eb37c 65px,#32b67a 78px,#38b977 91px,#3fbc73 104px,#44bf70 117px,#46c06f 130px,#46c06f 143px,#44bf70 156px,#44bf70 169px,#44bf70 182px,#44bf70 195px,#44bf70 208px,#44bf70 221px,#44bf70 234px,#46c06f 247px,#4cc26c 260px,#50c46a 273px,#58c765 286px,#63cb5f 299px,#65cb5e 312px,#3aba76 325px,#3aba76 325px)"></i>
<i style="left:818px;width:2px;background:linear-gradient(#1e9c89 0px,#1f9e89 13px,#1fa088 26px,#1fa188 39px,#20a386 52px,#22a785 65px,#25ab82 78px,#28ae80 91px,#2cb17e 104px,#31b57b 117px,#31b57b 130px,#31b57b 143px,#35b779 156px,#3bbb75 169px,#44bf70 182px,#44bf70 195px,#44bf70 208px,#44bf70 221px,#44bf70 234px,#46c06f 247px,#4cc26c 260px,#50c46a 273px,#58c765 286px,#63cb5f 299px,#65cb5e 312px,#3aba76 325px,#3aba76 325px)"></i>
<i style="left:820px;width:2px;background:linear-gradient(#1f998a 0px,#1f9a8a 13px,#1e9c89 26px,#1f9e89 39px,#1fa088 52px,#1fa187 65px,#20a386 78px,#21a585 91px,#22a785 104px,#24aa83 117px,#24aa83 130px,#24aa83 143px,#28ae80 156px,#34b679 169px,#40bd72 182px,#40bd72 195px,#40bd72 208px,#40bd72 221px,#42be71 234px,#44bf70 247px,#4ac16d 260px,#50c46a 273px,#58c765 286px,#63cb5f 299px,#65cb5e 312px,#3aba76 325px,#3aba76 325px)"></i>
<i style="left:822px;width:2px;background:linear-gradient(#1fa188 0px,#1fa287 13px,#20a386 26px,#21a585 39px,#21a585 52px,#21a585 65px,#21a685 78px,#21a685 91px,#21a685 104px,#21a685 117px,#21a685 130px,#21a685 143px,#25ab82 156px,#2db27d 169px,#37b878 182px,#38b977 195px,#38b977 208px,#38b977 221px,#3bbb75 234px,#3fbc73 247px,#48c16e 260px,#50c46a 273px,#58c765 286px,#63cb5f 299px,#65cb5e 312px,#3aba76 325px,#3aba76 325px)"></i>
<i style="left:824px;width:2px;background:linear-gradient(#23a983 0px,#24aa83 13px,#25ac82 26px,#27ad81 39px,#27ad81 52px,#27ad81 65px,#27ad81 78px,#26ad81 91px,#26ad81 104px,#26ad81 117px,#26ad81 130px,#26ad81 143px,#28ae80 156px,#2cb17e 169px,#2fb47c 182px,#2fb47c 195px,#2fb47c 208px,#31b57b 221px,#35b779 234px,#3aba76 247px,#44bf70 260px,#4ec36b 273px,#58c765 286px,#63cb5f 299px,#65cb5e 312px,#3aba76 325px,#3aba76 325px)"></i>
<i style="left:826px;width:2px;background:linear-gradient(#25ac82 0px,#27ad81 13px,#28ae80 26px,#2ab07f 39px,#2cb17e 52px,#2cb17e 65px,#2db27d 78px,#2db27d 91px,#2eb37c 104px,#2fb47c 117px,#2fb47c 130px,#2fb47c 143px,#2eb37c 156px,#2eb37c 169px,#2db27d 182px,#2db27d 195px,#2db27d 208px,#2eb37c 221px,#34b679 234px,#3aba76 247px,#42be71 260px,#4ec36b 273px,#58c765 286px,#63cb5f 299px,#65cb5e 312px,#3aba76 325px,#3aba76 325px)"></i>
<i style="left:828px;width:9px;background:linear-gradient(#26ad81 0px,#28ae80 13px,#29af7f 26px,#2cb17e 39px,#2db27d 52px,#2fb47c 65px,#31b57b 78px,#32b67a 91px,#35b779 104px,#37b878 117px,#37b878 130px,#37b878 143px,#34b679 156px,#31b57b 169px,#2db27d 182px,#2db27d 195px,#2db27d 208px,#2eb37c 221px,#34b679 234px,#3aba76 247px,#42be71 260px,#4ec36b 273px,#58c765 286px,#63cb5f 299px,#65cb5e 312px,#3aba76 325px,#3aba76 325px)"></i>
</div>
<svg width="1080" height="432" style="position:absolute;left:0;top:0"><rect x="135" y="52" width="837" height="326" fill="none" stroke="#000" stroke-width="1" shape-rendering="crispEdges"/><rect x="239" y="378" width="1" height="4.6" fill="#000"/><rect x="343" y="378" width="1" height="4.6" fill="#000"/><rect x="447" y="378" width="1" height="4.6" fill="#000"/><rect x="552" y="378" width="1" height="4.6" fill="#000"/><rect x="656" y="378" width="1" height="4.6" fill="#000"/><rect x="760" y="378" width="1" height="4.6" fill="#000"/><rect x="864" y="378" width="1" height="4.6" fill="#000"/><rect x="969" y="378" width="1" height="4.6" fill="#000"/><rect x="132" y="378" width="3" height="1" fill="#000"/><rect x="132" y="337" width="3" height="1" fill="#000"/><rect x="132" y="296" width="3" height="1" fill="#000"/><rect x="132" y="255" width="3" height="1" fill="#000"/><rect x="132" y="215" width="3" height="1" fill="#000"/><rect x="132" y="174" width="3" height="1" fill="#000"/><rect x="132" y="133" width="3" height="1" fill="#000"/><rect x="132" y="92" width="3" height="1" fill="#000"/><rect x="132" y="52" width="3" height="1" fill="#000"/></svg>
<div class="xl" style="left:199.0px">2.5</div><div class="xl" style="left:303.3px">5.0</div><div class="xl" style="left:407.7px">7.5</div><div class="xl" style="left:512.0px">10.0</div><div class="xl" style="left:616.3px">12.5</div><div class="xl" style="left:720.6px">15.0</div><div class="xl" style="left:825.0px">17.5</div><div class="xl" style="left:929.3px">20.0</div><div class="yl" style="top:368.3px">0</div><div class="yl" style="top:327.7px">1.0</div><div class="yl" style="top:287.0px">2.0</div><div class="yl" style="top:246.4px">3.0</div><div class="yl" style="top:205.7px">4.0</div><div class="yl" style="top:165.1px">5.0</div><div class="yl" style="top:124.4px">6.0</div><div class="yl" style="top:83.8px">7.0</div><div class="yl" style="top:43.1px">8.0</div>
<div id="xlab">Time (sec)</div>
<div id="ylab">Frequency (kHz)</div>
</body></html>
